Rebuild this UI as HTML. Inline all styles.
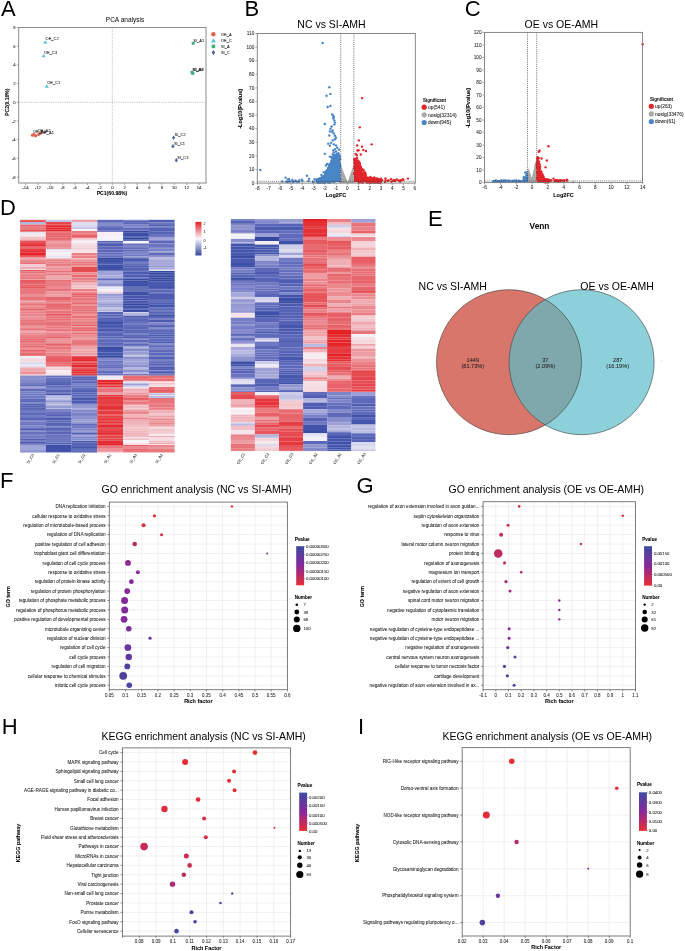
<!DOCTYPE html>
<html><head><meta charset="utf-8"><style>
html,body{margin:0;padding:0;background:#fff;}
svg{display:block;font-family:"Liberation Sans",sans-serif;will-change:transform;}
</style></head><body>
<svg width="685" height="951" viewBox="0 0 685 951">
<rect width="685" height="951" fill="#fff"/>
<text x="0.9" y="16.1" font-size="22" text-anchor="start" fill="#000">A</text>
<text x="125" y="21.8" font-size="6.5" text-anchor="middle" fill="#000">PCA analysis</text>
<line x1="112.3" y1="27.5" x2="112.3" y2="183" stroke="#8a8a8a" stroke-width="0.7" stroke-dasharray="0.7,1.1"/>
<line x1="18.7" y1="102.3" x2="206" y2="102.3" stroke="#8a8a8a" stroke-width="0.7" stroke-dasharray="0.7,1.1"/>
<rect x="18.7" y="27.5" width="187.3" height="155.5" fill="none" stroke="#8a8a8a" stroke-width="1"/>
<line x1="16.7" y1="177.1" x2="18.7" y2="177.1" stroke="#8a8a8a" stroke-width="0.7"/>
<text x="15.7" y="178.6" font-size="4.2" text-anchor="end" fill="#222" stroke="#222" stroke-width="0.05">-8</text>
<line x1="16.7" y1="158.4" x2="18.7" y2="158.4" stroke="#8a8a8a" stroke-width="0.7"/>
<text x="15.7" y="159.9" font-size="4.2" text-anchor="end" fill="#222" stroke="#222" stroke-width="0.05">-6</text>
<line x1="16.7" y1="139.7" x2="18.7" y2="139.7" stroke="#8a8a8a" stroke-width="0.7"/>
<text x="15.7" y="141.2" font-size="4.2" text-anchor="end" fill="#222" stroke="#222" stroke-width="0.05">-4</text>
<line x1="16.7" y1="121" x2="18.7" y2="121" stroke="#8a8a8a" stroke-width="0.7"/>
<text x="15.7" y="122.5" font-size="4.2" text-anchor="end" fill="#222" stroke="#222" stroke-width="0.05">-2</text>
<line x1="16.7" y1="102.3" x2="18.7" y2="102.3" stroke="#8a8a8a" stroke-width="0.7"/>
<text x="15.7" y="103.8" font-size="4.2" text-anchor="end" fill="#222" stroke="#222" stroke-width="0.05">0</text>
<line x1="16.7" y1="83.6" x2="18.7" y2="83.6" stroke="#8a8a8a" stroke-width="0.7"/>
<text x="15.7" y="85.1" font-size="4.2" text-anchor="end" fill="#222" stroke="#222" stroke-width="0.05">2</text>
<line x1="16.7" y1="64.9" x2="18.7" y2="64.9" stroke="#8a8a8a" stroke-width="0.7"/>
<text x="15.7" y="66.4" font-size="4.2" text-anchor="end" fill="#222" stroke="#222" stroke-width="0.05">4</text>
<line x1="16.7" y1="46.2" x2="18.7" y2="46.2" stroke="#8a8a8a" stroke-width="0.7"/>
<text x="15.7" y="47.7" font-size="4.2" text-anchor="end" fill="#222" stroke="#222" stroke-width="0.05">6</text>
<line x1="16.7" y1="27.5" x2="18.7" y2="27.5" stroke="#8a8a8a" stroke-width="0.7"/>
<text x="15.7" y="29" font-size="4.2" text-anchor="end" fill="#222" stroke="#222" stroke-width="0.05">8</text>
<line x1="25.5" y1="183" x2="25.5" y2="185" stroke="#8a8a8a" stroke-width="0.7"/>
<text x="25.5" y="189" font-size="4.2" text-anchor="middle" fill="#222" stroke="#222" stroke-width="0.05">-14</text>
<line x1="37.9" y1="183" x2="37.9" y2="185" stroke="#8a8a8a" stroke-width="0.7"/>
<text x="37.9" y="189" font-size="4.2" text-anchor="middle" fill="#222" stroke="#222" stroke-width="0.05">-12</text>
<line x1="50.3" y1="183" x2="50.3" y2="185" stroke="#8a8a8a" stroke-width="0.7"/>
<text x="50.3" y="189" font-size="4.2" text-anchor="middle" fill="#222" stroke="#222" stroke-width="0.05">-10</text>
<line x1="62.7" y1="183" x2="62.7" y2="185" stroke="#8a8a8a" stroke-width="0.7"/>
<text x="62.7" y="189" font-size="4.2" text-anchor="middle" fill="#222" stroke="#222" stroke-width="0.05">-8</text>
<line x1="75.1" y1="183" x2="75.1" y2="185" stroke="#8a8a8a" stroke-width="0.7"/>
<text x="75.1" y="189" font-size="4.2" text-anchor="middle" fill="#222" stroke="#222" stroke-width="0.05">-6</text>
<line x1="87.5" y1="183" x2="87.5" y2="185" stroke="#8a8a8a" stroke-width="0.7"/>
<text x="87.5" y="189" font-size="4.2" text-anchor="middle" fill="#222" stroke="#222" stroke-width="0.05">-4</text>
<line x1="99.9" y1="183" x2="99.9" y2="185" stroke="#8a8a8a" stroke-width="0.7"/>
<text x="99.9" y="189" font-size="4.2" text-anchor="middle" fill="#222" stroke="#222" stroke-width="0.05">-2</text>
<line x1="112.3" y1="183" x2="112.3" y2="185" stroke="#8a8a8a" stroke-width="0.7"/>
<text x="112.3" y="189" font-size="4.2" text-anchor="middle" fill="#222" stroke="#222" stroke-width="0.05">0</text>
<line x1="124.7" y1="183" x2="124.7" y2="185" stroke="#8a8a8a" stroke-width="0.7"/>
<text x="124.7" y="189" font-size="4.2" text-anchor="middle" fill="#222" stroke="#222" stroke-width="0.05">2</text>
<line x1="137.1" y1="183" x2="137.1" y2="185" stroke="#8a8a8a" stroke-width="0.7"/>
<text x="137.1" y="189" font-size="4.2" text-anchor="middle" fill="#222" stroke="#222" stroke-width="0.05">4</text>
<line x1="149.5" y1="183" x2="149.5" y2="185" stroke="#8a8a8a" stroke-width="0.7"/>
<text x="149.5" y="189" font-size="4.2" text-anchor="middle" fill="#222" stroke="#222" stroke-width="0.05">6</text>
<line x1="161.9" y1="183" x2="161.9" y2="185" stroke="#8a8a8a" stroke-width="0.7"/>
<text x="161.9" y="189" font-size="4.2" text-anchor="middle" fill="#222" stroke="#222" stroke-width="0.05">8</text>
<line x1="174.3" y1="183" x2="174.3" y2="185" stroke="#8a8a8a" stroke-width="0.7"/>
<text x="174.3" y="189" font-size="4.2" text-anchor="middle" fill="#222" stroke="#222" stroke-width="0.05">10</text>
<line x1="186.7" y1="183" x2="186.7" y2="185" stroke="#8a8a8a" stroke-width="0.7"/>
<text x="186.7" y="189" font-size="4.2" text-anchor="middle" fill="#222" stroke="#222" stroke-width="0.05">12</text>
<line x1="199.1" y1="183" x2="199.1" y2="185" stroke="#8a8a8a" stroke-width="0.7"/>
<text x="199.1" y="189" font-size="4.2" text-anchor="middle" fill="#222" stroke="#222" stroke-width="0.05">14</text>
<text x="112" y="194.8" font-size="5.1" text-anchor="middle" font-weight="bold" fill="#000" stroke="#000" stroke-width="0.05">PC1(60.98%)</text>
<text x="9.3" y="102.2" font-size="5" text-anchor="middle" font-weight="bold" fill="#000" transform="rotate(-90 9.3 102.2)" stroke="#000" stroke-width="0.05">PC2(9.16%)</text>
<circle cx="32.5" cy="135.2" r="1.6" fill="#e0604f"/>
<circle cx="35.5" cy="135.8" r="1.6" fill="#e0604f"/>
<circle cx="38.5" cy="134.5" r="1.6" fill="#e0604f"/>
<circle cx="40.5" cy="133.2" r="1.6" fill="#e0604f"/>
<circle cx="34" cy="134.5" r="1.6" fill="#e0604f"/>
<text x="33" y="133" font-size="4" text-anchor="start" fill="#222" stroke="#222" stroke-width="0.05">OE_A3</text>
<text x="37.5" y="131.8" font-size="4" text-anchor="start" fill="#222" stroke="#222" stroke-width="0.05">OE_A2</text>
<text x="41" y="134" font-size="4" text-anchor="start" fill="#222" stroke="#222" stroke-width="0.05">OE_A1</text>
<polygon points="45.2,40.3 43.11,43.72 47.29,43.72" fill="#5ec4d2"/>
<text x="45.6" y="40" font-size="4" text-anchor="start" fill="#222" stroke="#222" stroke-width="0.05">OE_C2</text>
<polygon points="43.6,53.9 41.51,57.32 45.69,57.32" fill="#5ec4d2"/>
<text x="44" y="53.6" font-size="4" text-anchor="start" fill="#222" stroke="#222" stroke-width="0.05">OE_C3</text>
<polygon points="46.8,84.3 44.71,87.72 48.89,87.72" fill="#5ec4d2"/>
<text x="47.2" y="84" font-size="4" text-anchor="start" fill="#222" stroke="#222" stroke-width="0.05">OE_C1</text>
<rect x="191.7" y="41.8" width="3" height="3" fill="#3fae84"/>
<rect x="190.5" y="70.8" width="3" height="3" fill="#3fae84"/>
<rect x="191.3" y="71.9" width="3" height="3" fill="#3fae84"/>
<text x="193.3" y="41.6" font-size="4" text-anchor="start" fill="#222" stroke="#222" stroke-width="0.05">SI_A1</text>
<text x="192.3" y="70.8" font-size="4" text-anchor="start" fill="#222" stroke="#222" stroke-width="0.05">SI_A3</text>
<text x="193" y="71.3" font-size="4" text-anchor="start" fill="#222" stroke="#222" stroke-width="0.05">SI_A2</text>
<polygon points="173.6,135.52 175.12,137.8 173.6,140.08 172.08,137.8" fill="#4a5f9c"/>
<text x="174.6" y="136.4" font-size="4" text-anchor="start" fill="#222" stroke="#222" stroke-width="0.05">SI_C2</text>
<polygon points="172.9,143.92 174.42,146.2 172.9,148.48 171.38,146.2" fill="#4a5f9c"/>
<text x="173.9" y="144.8" font-size="4" text-anchor="start" fill="#222" stroke="#222" stroke-width="0.05">SI_C1</text>
<polygon points="176.3,158.02 177.82,160.3 176.3,162.58 174.78,160.3" fill="#4a5f9c"/>
<text x="177.3" y="158.9" font-size="4" text-anchor="start" fill="#222" stroke="#222" stroke-width="0.05">SI_C3</text>
<circle cx="213.4" cy="34.2" r="2.2" fill="#e0604f"/>
<polygon points="213.4,38.3 210.9,42.6 215.9,42.6" fill="#5ec4d2"/>
<rect x="211.6" y="44.6" width="3.6" height="3.6" fill="#3fae84"/>
<polygon points="213.4,49.9 215.1,52.6 213.4,55.3 211.7,52.6" fill="#4a5f9c"/>
<text x="220.9" y="35.6" font-size="4" text-anchor="start" fill="#222" stroke="#222" stroke-width="0.05">OE_A</text>
<text x="220.9" y="42" font-size="4" text-anchor="start" fill="#222" stroke="#222" stroke-width="0.05">OE_C</text>
<text x="220.9" y="47.8" font-size="4" text-anchor="start" fill="#222" stroke="#222" stroke-width="0.05">SI_A</text>
<text x="220.9" y="54" font-size="4" text-anchor="start" fill="#222" stroke="#222" stroke-width="0.05">SI_C</text>
<text x="244.6" y="16.1" font-size="22" text-anchor="start" fill="#000">B</text>
<polygon points="340.73,164.88 347.64,182.01 353.59,164.88 353.59,183.1 340.73,183.1" fill="#a9a9a9"/>
<polygon points="321.47,182.01 321.47,180.11 324.84,178.2 327.09,175.62 329.33,170.86 331.02,165.42 332.7,159.98 334.39,155.9 340.34,154.81 340.34,182.01" fill="#4a86c6"/>
<polygon points="354.04,182.01 354.04,157.94 356.28,157.53 357.97,162.7 359.65,167.46 361.34,171.54 363.58,175.62 367.51,178.2 373.13,179.84 378.74,181.2 380.99,182.01" fill="#e3262b"/>
<circle cx="324.54" cy="181.46" r="1.2" fill="#4a86c6"/>
<circle cx="332.18" cy="180.91" r="1.2" fill="#4a86c6"/>
<circle cx="329.5" cy="175.85" r="1.2" fill="#4a86c6"/>
<circle cx="318.33" cy="180.77" r="1.2" fill="#4a86c6"/>
<circle cx="317.85" cy="181.1" r="1.2" fill="#4a86c6"/>
<circle cx="318.61" cy="182.34" r="1.2" fill="#4a86c6"/>
<circle cx="326.9" cy="171.68" r="1.2" fill="#4a86c6"/>
<circle cx="319.87" cy="181.68" r="1.2" fill="#4a86c6"/>
<circle cx="331.63" cy="160.53" r="1.2" fill="#4a86c6"/>
<circle cx="330.46" cy="174.43" r="1.2" fill="#4a86c6"/>
<circle cx="339.78" cy="181.38" r="1.2" fill="#4a86c6"/>
<circle cx="337.03" cy="174.54" r="1.2" fill="#4a86c6"/>
<circle cx="320.35" cy="182.13" r="1.2" fill="#4a86c6"/>
<circle cx="324.18" cy="176.64" r="1.2" fill="#4a86c6"/>
<circle cx="321.2" cy="179.68" r="1.2" fill="#4a86c6"/>
<circle cx="331.9" cy="173.77" r="1.2" fill="#4a86c6"/>
<circle cx="329.77" cy="181.48" r="1.2" fill="#4a86c6"/>
<circle cx="318.37" cy="181.91" r="1.2" fill="#4a86c6"/>
<circle cx="332.87" cy="171.54" r="1.2" fill="#4a86c6"/>
<circle cx="324.32" cy="178.18" r="1.2" fill="#4a86c6"/>
<circle cx="327.56" cy="178.26" r="1.2" fill="#4a86c6"/>
<circle cx="335.53" cy="163.01" r="1.2" fill="#4a86c6"/>
<circle cx="322.68" cy="179.31" r="1.2" fill="#4a86c6"/>
<circle cx="329.25" cy="166.55" r="1.2" fill="#4a86c6"/>
<circle cx="334.02" cy="174.59" r="1.2" fill="#4a86c6"/>
<circle cx="339.87" cy="179.37" r="1.2" fill="#4a86c6"/>
<circle cx="326.75" cy="172.85" r="1.2" fill="#4a86c6"/>
<circle cx="320.53" cy="180.32" r="1.2" fill="#4a86c6"/>
<circle cx="317.89" cy="180.24" r="1.2" fill="#4a86c6"/>
<circle cx="334.84" cy="166.56" r="1.2" fill="#4a86c6"/>
<circle cx="337.43" cy="173.86" r="1.2" fill="#4a86c6"/>
<circle cx="333.22" cy="166.74" r="1.2" fill="#4a86c6"/>
<circle cx="330.52" cy="173.13" r="1.2" fill="#4a86c6"/>
<circle cx="336.6" cy="156.1" r="1.2" fill="#4a86c6"/>
<circle cx="328.05" cy="172.17" r="1.2" fill="#4a86c6"/>
<circle cx="318.4" cy="180.02" r="1.2" fill="#4a86c6"/>
<circle cx="332.09" cy="158.48" r="1.2" fill="#4a86c6"/>
<circle cx="336.18" cy="174.68" r="1.2" fill="#4a86c6"/>
<circle cx="325.99" cy="175.1" r="1.2" fill="#4a86c6"/>
<circle cx="317.51" cy="181" r="1.2" fill="#4a86c6"/>
<circle cx="320.9" cy="182.1" r="1.2" fill="#4a86c6"/>
<circle cx="318.36" cy="179.78" r="1.2" fill="#4a86c6"/>
<circle cx="320" cy="181.56" r="1.2" fill="#4a86c6"/>
<circle cx="326.11" cy="172.57" r="1.2" fill="#4a86c6"/>
<circle cx="318.86" cy="180.88" r="1.2" fill="#4a86c6"/>
<circle cx="329.81" cy="165.55" r="1.2" fill="#4a86c6"/>
<circle cx="336.12" cy="158.37" r="1.2" fill="#4a86c6"/>
<circle cx="323.48" cy="180.08" r="1.2" fill="#4a86c6"/>
<circle cx="325.36" cy="173.87" r="1.2" fill="#4a86c6"/>
<circle cx="339.35" cy="178.44" r="1.2" fill="#4a86c6"/>
<circle cx="321.1" cy="181.5" r="1.2" fill="#4a86c6"/>
<circle cx="322.43" cy="179.89" r="1.2" fill="#4a86c6"/>
<circle cx="330.74" cy="177.06" r="1.2" fill="#4a86c6"/>
<circle cx="317.07" cy="181.15" r="1.2" fill="#4a86c6"/>
<circle cx="325.6" cy="176.74" r="1.2" fill="#4a86c6"/>
<circle cx="339.24" cy="163.25" r="1.2" fill="#4a86c6"/>
<circle cx="329.02" cy="171.6" r="1.2" fill="#4a86c6"/>
<circle cx="332.77" cy="181.3" r="1.2" fill="#4a86c6"/>
<circle cx="337.99" cy="160.73" r="1.2" fill="#4a86c6"/>
<circle cx="337.41" cy="160.23" r="1.2" fill="#4a86c6"/>
<circle cx="326.14" cy="178.03" r="1.2" fill="#4a86c6"/>
<circle cx="319.4" cy="179.96" r="1.2" fill="#4a86c6"/>
<circle cx="318.43" cy="182.43" r="1.2" fill="#4a86c6"/>
<circle cx="321.86" cy="181.8" r="1.2" fill="#4a86c6"/>
<circle cx="324.92" cy="182.22" r="1.2" fill="#4a86c6"/>
<circle cx="316.98" cy="182.14" r="1.2" fill="#4a86c6"/>
<circle cx="319.35" cy="181.14" r="1.2" fill="#4a86c6"/>
<circle cx="317.57" cy="179.48" r="1.2" fill="#4a86c6"/>
<circle cx="331.32" cy="179.32" r="1.2" fill="#4a86c6"/>
<circle cx="322.87" cy="180.61" r="1.2" fill="#4a86c6"/>
<circle cx="325.49" cy="181.43" r="1.2" fill="#4a86c6"/>
<circle cx="336.81" cy="154.73" r="1.2" fill="#4a86c6"/>
<circle cx="327.86" cy="175.23" r="1.2" fill="#4a86c6"/>
<circle cx="318.99" cy="182.27" r="1.2" fill="#4a86c6"/>
<circle cx="324.98" cy="180.27" r="1.2" fill="#4a86c6"/>
<circle cx="336.34" cy="178.15" r="1.2" fill="#4a86c6"/>
<circle cx="317.52" cy="179.2" r="1.2" fill="#4a86c6"/>
<circle cx="329.32" cy="179.96" r="1.2" fill="#4a86c6"/>
<circle cx="329.67" cy="182.18" r="1.2" fill="#4a86c6"/>
<circle cx="329.31" cy="164.5" r="1.2" fill="#4a86c6"/>
<circle cx="337.14" cy="163.09" r="1.2" fill="#4a86c6"/>
<circle cx="323.08" cy="180.46" r="1.2" fill="#4a86c6"/>
<circle cx="320.88" cy="178.82" r="1.2" fill="#4a86c6"/>
<circle cx="329.42" cy="168.24" r="1.2" fill="#4a86c6"/>
<circle cx="324.68" cy="180.8" r="1.2" fill="#4a86c6"/>
<circle cx="335.93" cy="154.96" r="1.2" fill="#4a86c6"/>
<circle cx="336.9" cy="160" r="1.2" fill="#4a86c6"/>
<circle cx="336.09" cy="161.86" r="1.2" fill="#4a86c6"/>
<circle cx="322.28" cy="179.74" r="1.2" fill="#4a86c6"/>
<circle cx="325.28" cy="182.41" r="1.2" fill="#4a86c6"/>
<circle cx="317.63" cy="181.67" r="1.2" fill="#4a86c6"/>
<circle cx="323.03" cy="178.49" r="1.2" fill="#4a86c6"/>
<circle cx="339.32" cy="170.1" r="1.2" fill="#4a86c6"/>
<circle cx="338.87" cy="154.88" r="1.2" fill="#4a86c6"/>
<circle cx="339.29" cy="172.43" r="1.2" fill="#4a86c6"/>
<circle cx="322.13" cy="181.42" r="1.2" fill="#4a86c6"/>
<circle cx="321.57" cy="181.6" r="1.2" fill="#4a86c6"/>
<circle cx="331.56" cy="161.8" r="1.2" fill="#4a86c6"/>
<circle cx="336.61" cy="169.19" r="1.2" fill="#4a86c6"/>
<circle cx="332.23" cy="162.96" r="1.2" fill="#4a86c6"/>
<circle cx="318.96" cy="179.99" r="1.2" fill="#4a86c6"/>
<circle cx="338.23" cy="160.67" r="1.2" fill="#4a86c6"/>
<circle cx="334.5" cy="169.23" r="1.2" fill="#4a86c6"/>
<circle cx="321.15" cy="178.63" r="1.2" fill="#4a86c6"/>
<circle cx="324.75" cy="175.78" r="1.2" fill="#4a86c6"/>
<circle cx="339.68" cy="171.55" r="1.2" fill="#4a86c6"/>
<circle cx="326.35" cy="171.2" r="1.2" fill="#4a86c6"/>
<circle cx="333.91" cy="177.91" r="1.2" fill="#4a86c6"/>
<circle cx="319.95" cy="182" r="1.2" fill="#4a86c6"/>
<circle cx="338.11" cy="159.99" r="1.2" fill="#4a86c6"/>
<circle cx="320.39" cy="178.74" r="1.2" fill="#4a86c6"/>
<circle cx="339.88" cy="164.19" r="1.2" fill="#4a86c6"/>
<circle cx="325.16" cy="177.45" r="1.2" fill="#4a86c6"/>
<circle cx="320.04" cy="182.63" r="1.2" fill="#4a86c6"/>
<circle cx="339.66" cy="164.4" r="1.2" fill="#4a86c6"/>
<circle cx="329.28" cy="165.4" r="1.2" fill="#4a86c6"/>
<circle cx="327.11" cy="170.67" r="1.2" fill="#4a86c6"/>
<circle cx="336.28" cy="176.75" r="1.2" fill="#4a86c6"/>
<circle cx="322.86" cy="180.94" r="1.2" fill="#4a86c6"/>
<circle cx="322.6" cy="179.26" r="1.2" fill="#4a86c6"/>
<circle cx="323.04" cy="180.15" r="1.2" fill="#4a86c6"/>
<circle cx="320.04" cy="178.5" r="1.2" fill="#4a86c6"/>
<circle cx="325.24" cy="178.24" r="1.2" fill="#4a86c6"/>
<circle cx="330.61" cy="163.58" r="1.2" fill="#4a86c6"/>
<circle cx="326.8" cy="170.65" r="1.2" fill="#4a86c6"/>
<circle cx="328.7" cy="173.52" r="1.2" fill="#4a86c6"/>
<circle cx="329.21" cy="182.35" r="1.2" fill="#4a86c6"/>
<circle cx="327.26" cy="180.11" r="1.2" fill="#4a86c6"/>
<circle cx="317.07" cy="179.76" r="1.2" fill="#4a86c6"/>
<circle cx="321" cy="180.29" r="1.2" fill="#4a86c6"/>
<circle cx="333.92" cy="167.03" r="1.2" fill="#4a86c6"/>
<circle cx="324.59" cy="178.39" r="1.2" fill="#4a86c6"/>
<circle cx="329.95" cy="167.23" r="1.2" fill="#4a86c6"/>
<circle cx="319.46" cy="180.27" r="1.2" fill="#4a86c6"/>
<circle cx="322.78" cy="181.05" r="1.2" fill="#4a86c6"/>
<circle cx="335.02" cy="168.4" r="1.2" fill="#4a86c6"/>
<circle cx="330.1" cy="167.47" r="1.2" fill="#4a86c6"/>
<circle cx="338.29" cy="170.21" r="1.2" fill="#4a86c6"/>
<circle cx="331.29" cy="171.26" r="1.2" fill="#4a86c6"/>
<circle cx="328.94" cy="170.37" r="1.2" fill="#4a86c6"/>
<circle cx="327.55" cy="174.83" r="1.2" fill="#4a86c6"/>
<circle cx="328.15" cy="167.59" r="1.2" fill="#4a86c6"/>
<circle cx="333.31" cy="158.99" r="1.2" fill="#4a86c6"/>
<circle cx="338.99" cy="175.38" r="1.2" fill="#4a86c6"/>
<circle cx="330.05" cy="163.9" r="1.2" fill="#4a86c6"/>
<circle cx="336.6" cy="178.83" r="1.2" fill="#4a86c6"/>
<circle cx="319.82" cy="180.7" r="1.2" fill="#4a86c6"/>
<circle cx="318.67" cy="181.74" r="1.2" fill="#4a86c6"/>
<circle cx="318.69" cy="180.04" r="1.2" fill="#4a86c6"/>
<circle cx="335.29" cy="157.44" r="1.2" fill="#4a86c6"/>
<circle cx="320.59" cy="179.2" r="1.2" fill="#4a86c6"/>
<circle cx="332.4" cy="179.11" r="1.2" fill="#4a86c6"/>
<circle cx="337.6" cy="155.45" r="1.2" fill="#4a86c6"/>
<circle cx="322.11" cy="177.35" r="1.2" fill="#4a86c6"/>
<circle cx="326.28" cy="176.85" r="1.2" fill="#4a86c6"/>
<circle cx="340.1" cy="159.26" r="1.2" fill="#4a86c6"/>
<circle cx="320.75" cy="180.55" r="1.2" fill="#4a86c6"/>
<circle cx="329.02" cy="176.6" r="1.2" fill="#4a86c6"/>
<circle cx="321.55" cy="180.99" r="1.2" fill="#4a86c6"/>
<circle cx="333.85" cy="182.14" r="1.2" fill="#4a86c6"/>
<circle cx="329.92" cy="174.04" r="1.2" fill="#4a86c6"/>
<circle cx="317.4" cy="181.47" r="1.2" fill="#4a86c6"/>
<circle cx="331.55" cy="170.81" r="1.2" fill="#4a86c6"/>
<circle cx="318.48" cy="178.89" r="1.2" fill="#4a86c6"/>
<circle cx="335.39" cy="155.34" r="1.2" fill="#4a86c6"/>
<circle cx="319.43" cy="181.55" r="1.2" fill="#4a86c6"/>
<circle cx="317.9" cy="179.83" r="1.2" fill="#4a86c6"/>
<circle cx="323.3" cy="181.89" r="1.2" fill="#4a86c6"/>
<circle cx="326.84" cy="170.66" r="1.2" fill="#4a86c6"/>
<circle cx="336.11" cy="175.41" r="1.2" fill="#4a86c6"/>
<circle cx="320.47" cy="178.26" r="1.2" fill="#4a86c6"/>
<circle cx="330.31" cy="168.34" r="1.2" fill="#4a86c6"/>
<circle cx="319.07" cy="182.45" r="1.2" fill="#4a86c6"/>
<circle cx="333.05" cy="171.43" r="1.2" fill="#4a86c6"/>
<circle cx="318.67" cy="178.99" r="1.2" fill="#4a86c6"/>
<circle cx="331.8" cy="163.66" r="1.2" fill="#4a86c6"/>
<circle cx="318.94" cy="179.2" r="1.2" fill="#4a86c6"/>
<circle cx="318.54" cy="179.34" r="1.2" fill="#4a86c6"/>
<circle cx="327.58" cy="177.67" r="1.2" fill="#4a86c6"/>
<circle cx="329.9" cy="164.54" r="1.2" fill="#4a86c6"/>
<circle cx="323.24" cy="181.9" r="1.2" fill="#4a86c6"/>
<circle cx="329.29" cy="178.27" r="1.2" fill="#4a86c6"/>
<circle cx="319.54" cy="181.99" r="1.2" fill="#4a86c6"/>
<circle cx="318.16" cy="181.95" r="1.2" fill="#4a86c6"/>
<circle cx="324.27" cy="180.38" r="1.2" fill="#4a86c6"/>
<circle cx="334.72" cy="174.53" r="1.2" fill="#4a86c6"/>
<circle cx="328.66" cy="179.64" r="1.2" fill="#4a86c6"/>
<circle cx="325.08" cy="182.52" r="1.2" fill="#4a86c6"/>
<circle cx="322.83" cy="182.6" r="1.2" fill="#4a86c6"/>
<circle cx="334.1" cy="167.18" r="1.2" fill="#4a86c6"/>
<circle cx="321.4" cy="180.19" r="1.2" fill="#4a86c6"/>
<circle cx="338.81" cy="179.7" r="1.2" fill="#4a86c6"/>
<circle cx="336.11" cy="170.53" r="1.2" fill="#4a86c6"/>
<circle cx="328.54" cy="168.58" r="1.2" fill="#4a86c6"/>
<circle cx="326.16" cy="176.75" r="1.2" fill="#4a86c6"/>
<circle cx="333.04" cy="156.71" r="1.2" fill="#4a86c6"/>
<circle cx="324.98" cy="175.07" r="1.2" fill="#4a86c6"/>
<circle cx="333.49" cy="165.26" r="1.2" fill="#4a86c6"/>
<circle cx="326.43" cy="178.41" r="1.2" fill="#4a86c6"/>
<circle cx="318.25" cy="182.21" r="1.2" fill="#4a86c6"/>
<circle cx="318.63" cy="179.78" r="1.2" fill="#4a86c6"/>
<circle cx="322.95" cy="181.71" r="1.2" fill="#4a86c6"/>
<circle cx="318.95" cy="179.26" r="1.2" fill="#4a86c6"/>
<circle cx="337.31" cy="163.81" r="1.2" fill="#4a86c6"/>
<circle cx="323.56" cy="181.16" r="1.2" fill="#4a86c6"/>
<circle cx="323.82" cy="179.65" r="1.2" fill="#4a86c6"/>
<circle cx="320.66" cy="180.5" r="1.2" fill="#4a86c6"/>
<circle cx="323.13" cy="176.82" r="1.2" fill="#4a86c6"/>
<circle cx="339.7" cy="167.29" r="1.2" fill="#4a86c6"/>
<circle cx="322.69" cy="177" r="1.2" fill="#4a86c6"/>
<circle cx="324.21" cy="180.03" r="1.2" fill="#4a86c6"/>
<circle cx="317" cy="181.29" r="1.2" fill="#4a86c6"/>
<circle cx="328.07" cy="174.71" r="1.2" fill="#4a86c6"/>
<circle cx="321.67" cy="179.97" r="1.2" fill="#4a86c6"/>
<circle cx="317.09" cy="181.72" r="1.2" fill="#4a86c6"/>
<circle cx="319.08" cy="181.04" r="1.2" fill="#4a86c6"/>
<circle cx="317.95" cy="182.61" r="1.2" fill="#4a86c6"/>
<circle cx="324.09" cy="181.02" r="1.2" fill="#4a86c6"/>
<circle cx="330.66" cy="171.45" r="1.2" fill="#4a86c6"/>
<circle cx="334.51" cy="164.18" r="1.2" fill="#4a86c6"/>
<circle cx="333.7" cy="158.17" r="1.2" fill="#4a86c6"/>
<circle cx="326.08" cy="178.93" r="1.2" fill="#4a86c6"/>
<circle cx="339.98" cy="178.48" r="1.2" fill="#4a86c6"/>
<circle cx="333.89" cy="164.58" r="1.2" fill="#4a86c6"/>
<circle cx="318" cy="179.62" r="1.2" fill="#4a86c6"/>
<circle cx="337.81" cy="165.03" r="1.2" fill="#4a86c6"/>
<circle cx="334.12" cy="159.83" r="1.2" fill="#4a86c6"/>
<circle cx="320.23" cy="180.23" r="1.2" fill="#4a86c6"/>
<circle cx="328.76" cy="168.18" r="1.2" fill="#4a86c6"/>
<circle cx="335.77" cy="159.43" r="1.2" fill="#4a86c6"/>
<circle cx="330.62" cy="163.79" r="1.2" fill="#4a86c6"/>
<circle cx="332.93" cy="164.52" r="1.2" fill="#4a86c6"/>
<circle cx="322.35" cy="182.51" r="1.2" fill="#4a86c6"/>
<circle cx="320.09" cy="181.02" r="1.2" fill="#4a86c6"/>
<circle cx="319.43" cy="179.09" r="1.2" fill="#4a86c6"/>
<circle cx="330.03" cy="170.22" r="1.2" fill="#4a86c6"/>
<circle cx="331.61" cy="166.82" r="1.2" fill="#4a86c6"/>
<circle cx="328.41" cy="182.64" r="1.2" fill="#4a86c6"/>
<circle cx="335.61" cy="161.63" r="1.2" fill="#4a86c6"/>
<circle cx="328.73" cy="173.43" r="1.2" fill="#4a86c6"/>
<circle cx="332.38" cy="181.04" r="1.2" fill="#4a86c6"/>
<circle cx="334.19" cy="175.59" r="1.2" fill="#4a86c6"/>
<circle cx="318.72" cy="181.64" r="1.2" fill="#4a86c6"/>
<circle cx="334.02" cy="176.91" r="1.2" fill="#4a86c6"/>
<circle cx="334.26" cy="155.22" r="1.2" fill="#4a86c6"/>
<circle cx="328.52" cy="176.24" r="1.2" fill="#4a86c6"/>
<circle cx="328.17" cy="171.69" r="1.2" fill="#4a86c6"/>
<circle cx="334.89" cy="165.32" r="1.2" fill="#4a86c6"/>
<circle cx="331.99" cy="180.82" r="1.2" fill="#4a86c6"/>
<circle cx="320.42" cy="181.47" r="1.2" fill="#4a86c6"/>
<circle cx="334.34" cy="174.12" r="1.2" fill="#4a86c6"/>
<circle cx="330.24" cy="182.44" r="1.2" fill="#4a86c6"/>
<circle cx="318.4" cy="181.67" r="1.2" fill="#4a86c6"/>
<circle cx="332.68" cy="164.94" r="1.2" fill="#4a86c6"/>
<circle cx="332.76" cy="175.18" r="1.2" fill="#4a86c6"/>
<circle cx="329.04" cy="174.33" r="1.2" fill="#4a86c6"/>
<circle cx="327.87" cy="180.86" r="1.2" fill="#4a86c6"/>
<circle cx="337.85" cy="177.08" r="1.2" fill="#4a86c6"/>
<circle cx="339.83" cy="156.33" r="1.2" fill="#4a86c6"/>
<circle cx="317.39" cy="181.01" r="1.2" fill="#4a86c6"/>
<circle cx="336.13" cy="155.44" r="1.2" fill="#4a86c6"/>
<circle cx="327.48" cy="178.77" r="1.2" fill="#4a86c6"/>
<circle cx="321.88" cy="177.49" r="1.2" fill="#4a86c6"/>
<circle cx="321.9" cy="179.49" r="1.2" fill="#4a86c6"/>
<circle cx="320.29" cy="180.21" r="1.2" fill="#4a86c6"/>
<circle cx="339.23" cy="178.96" r="1.2" fill="#4a86c6"/>
<circle cx="336.14" cy="168.37" r="1.2" fill="#4a86c6"/>
<circle cx="337.69" cy="162.89" r="1.2" fill="#4a86c6"/>
<circle cx="322.38" cy="177.53" r="1.2" fill="#4a86c6"/>
<circle cx="328.33" cy="182.28" r="1.2" fill="#4a86c6"/>
<circle cx="317.06" cy="180.89" r="1.2" fill="#4a86c6"/>
<circle cx="327.51" cy="178.27" r="1.2" fill="#4a86c6"/>
<circle cx="320.27" cy="181.07" r="1.2" fill="#4a86c6"/>
<circle cx="324.36" cy="176.14" r="1.2" fill="#4a86c6"/>
<circle cx="317.02" cy="179.94" r="1.2" fill="#4a86c6"/>
<circle cx="336.58" cy="179.31" r="1.2" fill="#4a86c6"/>
<circle cx="338.62" cy="162.62" r="1.2" fill="#4a86c6"/>
<circle cx="338.04" cy="174.53" r="1.2" fill="#4a86c6"/>
<circle cx="325.67" cy="178.5" r="1.2" fill="#4a86c6"/>
<circle cx="340.31" cy="166.11" r="1.2" fill="#4a86c6"/>
<circle cx="325.4" cy="178.38" r="1.2" fill="#4a86c6"/>
<circle cx="323.41" cy="182.39" r="1.2" fill="#4a86c6"/>
<circle cx="319.35" cy="179.12" r="1.2" fill="#4a86c6"/>
<circle cx="323.65" cy="176.74" r="1.2" fill="#4a86c6"/>
<circle cx="322.8" cy="181.11" r="1.2" fill="#4a86c6"/>
<circle cx="328.91" cy="179.33" r="1.2" fill="#4a86c6"/>
<circle cx="325.7" cy="172.45" r="1.2" fill="#4a86c6"/>
<circle cx="337.63" cy="159.83" r="1.2" fill="#4a86c6"/>
<circle cx="331.72" cy="161.18" r="1.2" fill="#4a86c6"/>
<circle cx="338.95" cy="167.23" r="1.2" fill="#4a86c6"/>
<circle cx="333.79" cy="181.3" r="1.2" fill="#4a86c6"/>
<circle cx="334.09" cy="170" r="1.2" fill="#4a86c6"/>
<circle cx="334.56" cy="164.55" r="1.2" fill="#4a86c6"/>
<circle cx="323.66" cy="182.38" r="1.2" fill="#4a86c6"/>
<circle cx="338.63" cy="179.11" r="1.2" fill="#4a86c6"/>
<circle cx="328.01" cy="177.28" r="1.2" fill="#4a86c6"/>
<circle cx="323.93" cy="177.62" r="1.2" fill="#4a86c6"/>
<circle cx="339.78" cy="175.37" r="1.2" fill="#4a86c6"/>
<circle cx="332.3" cy="175.22" r="1.2" fill="#4a86c6"/>
<circle cx="330" cy="174.88" r="1.2" fill="#4a86c6"/>
<circle cx="286.31" cy="181.8" r="1.2" fill="#4a86c6"/>
<circle cx="287.86" cy="179.57" r="1.2" fill="#4a86c6"/>
<circle cx="298.9" cy="181.63" r="1.2" fill="#4a86c6"/>
<circle cx="314.52" cy="179.3" r="1.2" fill="#4a86c6"/>
<circle cx="297.1" cy="181.87" r="1.2" fill="#4a86c6"/>
<circle cx="287.27" cy="182.01" r="1.2" fill="#4a86c6"/>
<circle cx="292.98" cy="182.01" r="1.2" fill="#4a86c6"/>
<circle cx="289.05" cy="181.51" r="1.2" fill="#4a86c6"/>
<circle cx="301.67" cy="179.63" r="1.2" fill="#4a86c6"/>
<circle cx="308.54" cy="181.05" r="1.2" fill="#4a86c6"/>
<circle cx="295.72" cy="180.72" r="1.2" fill="#4a86c6"/>
<circle cx="294.31" cy="181.27" r="1.2" fill="#4a86c6"/>
<circle cx="282.29" cy="181.45" r="1.2" fill="#4a86c6"/>
<circle cx="316.87" cy="181.91" r="1.2" fill="#4a86c6"/>
<circle cx="299.14" cy="180.4" r="1.2" fill="#4a86c6"/>
<circle cx="312.87" cy="181.64" r="1.2" fill="#4a86c6"/>
<circle cx="290.27" cy="181.54" r="1.2" fill="#4a86c6"/>
<circle cx="295.18" cy="180.95" r="1.2" fill="#4a86c6"/>
<circle cx="316.34" cy="179.74" r="1.2" fill="#4a86c6"/>
<circle cx="313.25" cy="182.22" r="1.2" fill="#4a86c6"/>
<circle cx="260.27" cy="170.04" r="1.2" fill="#4a86c6"/>
<circle cx="285.54" cy="177.66" r="1.2" fill="#4a86c6"/>
<circle cx="288.9" cy="179.02" r="1.2" fill="#4a86c6"/>
<circle cx="292.27" cy="179.84" r="1.2" fill="#4a86c6"/>
<circle cx="302.38" cy="180.79" r="1.2" fill="#4a86c6"/>
<circle cx="306.87" cy="175.76" r="1.2" fill="#4a86c6"/>
<circle cx="309.12" cy="178.75" r="1.2" fill="#4a86c6"/>
<circle cx="322.59" cy="43.02" r="1.2" fill="#4a86c6"/>
<circle cx="329.33" cy="87.22" r="1.2" fill="#4a86c6"/>
<circle cx="330.46" cy="93.88" r="1.2" fill="#4a86c6"/>
<circle cx="326.52" cy="95.79" r="1.2" fill="#4a86c6"/>
<circle cx="327.65" cy="106.94" r="1.2" fill="#4a86c6"/>
<circle cx="330.46" cy="105.99" r="1.2" fill="#4a86c6"/>
<circle cx="332.14" cy="114.42" r="1.2" fill="#4a86c6"/>
<circle cx="333.26" cy="115.78" r="1.2" fill="#4a86c6"/>
<circle cx="333.82" cy="117.14" r="1.2" fill="#4a86c6"/>
<circle cx="333.26" cy="118.5" r="1.2" fill="#4a86c6"/>
<circle cx="334.39" cy="120.54" r="1.2" fill="#4a86c6"/>
<circle cx="334.95" cy="122.58" r="1.2" fill="#4a86c6"/>
<circle cx="334.39" cy="124.62" r="1.2" fill="#4a86c6"/>
<circle cx="324.84" cy="123.94" r="1.2" fill="#4a86c6"/>
<circle cx="331.58" cy="126.52" r="1.2" fill="#4a86c6"/>
<circle cx="330.46" cy="128.7" r="1.2" fill="#4a86c6"/>
<circle cx="332.7" cy="130.47" r="1.2" fill="#4a86c6"/>
<circle cx="332.14" cy="132.1" r="1.2" fill="#4a86c6"/>
<circle cx="329.89" cy="131.42" r="1.2" fill="#4a86c6"/>
<circle cx="333.82" cy="133.46" r="1.2" fill="#4a86c6"/>
<circle cx="334.95" cy="135.77" r="1.2" fill="#4a86c6"/>
<circle cx="329.33" cy="135.5" r="1.2" fill="#4a86c6"/>
<circle cx="336.07" cy="137.81" r="1.2" fill="#4a86c6"/>
<circle cx="334.95" cy="139.31" r="1.2" fill="#4a86c6"/>
<circle cx="332.7" cy="140.4" r="1.2" fill="#4a86c6"/>
<circle cx="328.21" cy="143.66" r="1.2" fill="#4a86c6"/>
<circle cx="329.89" cy="145.7" r="1.2" fill="#4a86c6"/>
<circle cx="331.02" cy="142.84" r="1.2" fill="#4a86c6"/>
<circle cx="333.82" cy="144.34" r="1.2" fill="#4a86c6"/>
<circle cx="336.07" cy="145.56" r="1.2" fill="#4a86c6"/>
<circle cx="337.19" cy="147.74" r="1.2" fill="#4a86c6"/>
<circle cx="334.95" cy="149.1" r="1.2" fill="#4a86c6"/>
<circle cx="338.88" cy="149.78" r="1.2" fill="#4a86c6"/>
<circle cx="333.26" cy="150.46" r="1.2" fill="#4a86c6"/>
<circle cx="324.84" cy="153.86" r="1.2" fill="#4a86c6"/>
<circle cx="329.89" cy="156.58" r="1.2" fill="#4a86c6"/>
<circle cx="331.58" cy="157.26" r="1.2" fill="#4a86c6"/>
<circle cx="327.09" cy="164.06" r="1.2" fill="#4a86c6"/>
<circle cx="325.96" cy="165.42" r="1.2" fill="#4a86c6"/>
<circle cx="328.21" cy="168.14" r="1.2" fill="#4a86c6"/>
<circle cx="327.09" cy="170.18" r="1.2" fill="#4a86c6"/>
<circle cx="323.72" cy="172.22" r="1.2" fill="#4a86c6"/>
<circle cx="321.47" cy="174.94" r="1.2" fill="#4a86c6"/>
<circle cx="333.82" cy="152.5" r="1.2" fill="#4a86c6"/>
<circle cx="338.32" cy="153.18" r="1.2" fill="#4a86c6"/>
<circle cx="336.07" cy="151.55" r="1.2" fill="#4a86c6"/>
<circle cx="336.63" cy="153.86" r="1.2" fill="#4a86c6"/>
<circle cx="332.7" cy="154.54" r="1.2" fill="#4a86c6"/>
<circle cx="355.12" cy="164.17" r="1.2" fill="#e3262b"/>
<circle cx="378.2" cy="180.99" r="1.2" fill="#e3262b"/>
<circle cx="369.96" cy="182.69" r="1.2" fill="#e3262b"/>
<circle cx="364.73" cy="173.01" r="1.2" fill="#e3262b"/>
<circle cx="376.33" cy="179.39" r="1.2" fill="#e3262b"/>
<circle cx="380.25" cy="181.87" r="1.2" fill="#e3262b"/>
<circle cx="357.18" cy="178.86" r="1.2" fill="#e3262b"/>
<circle cx="368.22" cy="179.26" r="1.2" fill="#e3262b"/>
<circle cx="379.43" cy="180.23" r="1.2" fill="#e3262b"/>
<circle cx="371.56" cy="179.21" r="1.2" fill="#e3262b"/>
<circle cx="366.49" cy="179.77" r="1.2" fill="#e3262b"/>
<circle cx="355.32" cy="162.26" r="1.2" fill="#e3262b"/>
<circle cx="360.48" cy="166.14" r="1.2" fill="#e3262b"/>
<circle cx="371.52" cy="181.31" r="1.2" fill="#e3262b"/>
<circle cx="357.68" cy="176.63" r="1.2" fill="#e3262b"/>
<circle cx="371.27" cy="179.48" r="1.2" fill="#e3262b"/>
<circle cx="357.26" cy="180.95" r="1.2" fill="#e3262b"/>
<circle cx="368.28" cy="179.76" r="1.2" fill="#e3262b"/>
<circle cx="364.64" cy="180.33" r="1.2" fill="#e3262b"/>
<circle cx="370.33" cy="182.64" r="1.2" fill="#e3262b"/>
<circle cx="362.32" cy="176.27" r="1.2" fill="#e3262b"/>
<circle cx="379.89" cy="180.54" r="1.2" fill="#e3262b"/>
<circle cx="377.88" cy="180.96" r="1.2" fill="#e3262b"/>
<circle cx="360.54" cy="178.28" r="1.2" fill="#e3262b"/>
<circle cx="379.94" cy="180.34" r="1.2" fill="#e3262b"/>
<circle cx="362.48" cy="182.39" r="1.2" fill="#e3262b"/>
<circle cx="367.58" cy="179.23" r="1.2" fill="#e3262b"/>
<circle cx="365.49" cy="180.29" r="1.2" fill="#e3262b"/>
<circle cx="372.1" cy="178.55" r="1.2" fill="#e3262b"/>
<circle cx="360.32" cy="182.07" r="1.2" fill="#e3262b"/>
<circle cx="363.3" cy="177.43" r="1.2" fill="#e3262b"/>
<circle cx="372.51" cy="181.82" r="1.2" fill="#e3262b"/>
<circle cx="375.57" cy="179.76" r="1.2" fill="#e3262b"/>
<circle cx="367.76" cy="181.64" r="1.2" fill="#e3262b"/>
<circle cx="380.18" cy="181.66" r="1.2" fill="#e3262b"/>
<circle cx="376.18" cy="181.8" r="1.2" fill="#e3262b"/>
<circle cx="360.18" cy="168.46" r="1.2" fill="#e3262b"/>
<circle cx="362.15" cy="169.18" r="1.2" fill="#e3262b"/>
<circle cx="367.51" cy="181.73" r="1.2" fill="#e3262b"/>
<circle cx="360.23" cy="174.94" r="1.2" fill="#e3262b"/>
<circle cx="372.04" cy="178.44" r="1.2" fill="#e3262b"/>
<circle cx="358.18" cy="173.5" r="1.2" fill="#e3262b"/>
<circle cx="359.95" cy="163.93" r="1.2" fill="#e3262b"/>
<circle cx="358.06" cy="181.47" r="1.2" fill="#e3262b"/>
<circle cx="355.87" cy="172.42" r="1.2" fill="#e3262b"/>
<circle cx="378.27" cy="179.53" r="1.2" fill="#e3262b"/>
<circle cx="373.85" cy="178.48" r="1.2" fill="#e3262b"/>
<circle cx="379.16" cy="181.56" r="1.2" fill="#e3262b"/>
<circle cx="359.22" cy="163" r="1.2" fill="#e3262b"/>
<circle cx="374.21" cy="182.56" r="1.2" fill="#e3262b"/>
<circle cx="372.02" cy="180.99" r="1.2" fill="#e3262b"/>
<circle cx="364.26" cy="179" r="1.2" fill="#e3262b"/>
<circle cx="358.79" cy="182.63" r="1.2" fill="#e3262b"/>
<circle cx="361.74" cy="177.44" r="1.2" fill="#e3262b"/>
<circle cx="379.8" cy="182.28" r="1.2" fill="#e3262b"/>
<circle cx="380.04" cy="182" r="1.2" fill="#e3262b"/>
<circle cx="363.79" cy="173" r="1.2" fill="#e3262b"/>
<circle cx="376.23" cy="181.02" r="1.2" fill="#e3262b"/>
<circle cx="355.58" cy="170.33" r="1.2" fill="#e3262b"/>
<circle cx="364.22" cy="172.42" r="1.2" fill="#e3262b"/>
<circle cx="359.42" cy="175.21" r="1.2" fill="#e3262b"/>
<circle cx="378.24" cy="182.58" r="1.2" fill="#e3262b"/>
<circle cx="365.24" cy="174.82" r="1.2" fill="#e3262b"/>
<circle cx="374.75" cy="182.53" r="1.2" fill="#e3262b"/>
<circle cx="355.19" cy="181.06" r="1.2" fill="#e3262b"/>
<circle cx="378.85" cy="181.79" r="1.2" fill="#e3262b"/>
<circle cx="374.24" cy="178.95" r="1.2" fill="#e3262b"/>
<circle cx="363.33" cy="179.29" r="1.2" fill="#e3262b"/>
<circle cx="379.86" cy="180.63" r="1.2" fill="#e3262b"/>
<circle cx="361.27" cy="171.17" r="1.2" fill="#e3262b"/>
<circle cx="362.72" cy="179.01" r="1.2" fill="#e3262b"/>
<circle cx="354.36" cy="162.96" r="1.2" fill="#e3262b"/>
<circle cx="378.76" cy="180.47" r="1.2" fill="#e3262b"/>
<circle cx="379.47" cy="182.61" r="1.2" fill="#e3262b"/>
<circle cx="360.51" cy="174.18" r="1.2" fill="#e3262b"/>
<circle cx="379.83" cy="179.5" r="1.2" fill="#e3262b"/>
<circle cx="364.59" cy="180.02" r="1.2" fill="#e3262b"/>
<circle cx="365.75" cy="178.28" r="1.2" fill="#e3262b"/>
<circle cx="379.07" cy="182.06" r="1.2" fill="#e3262b"/>
<circle cx="375.71" cy="179.78" r="1.2" fill="#e3262b"/>
<circle cx="376.25" cy="179.7" r="1.2" fill="#e3262b"/>
<circle cx="370.49" cy="181.15" r="1.2" fill="#e3262b"/>
<circle cx="362.8" cy="177.9" r="1.2" fill="#e3262b"/>
<circle cx="375.17" cy="182.37" r="1.2" fill="#e3262b"/>
<circle cx="359.54" cy="167.43" r="1.2" fill="#e3262b"/>
<circle cx="360.87" cy="181.59" r="1.2" fill="#e3262b"/>
<circle cx="355.17" cy="168.26" r="1.2" fill="#e3262b"/>
<circle cx="362.97" cy="169.95" r="1.2" fill="#e3262b"/>
<circle cx="377.88" cy="179.1" r="1.2" fill="#e3262b"/>
<circle cx="361.34" cy="181.36" r="1.2" fill="#e3262b"/>
<circle cx="356.84" cy="170.08" r="1.2" fill="#e3262b"/>
<circle cx="373.23" cy="180.77" r="1.2" fill="#e3262b"/>
<circle cx="360.52" cy="175.24" r="1.2" fill="#e3262b"/>
<circle cx="370.84" cy="179.55" r="1.2" fill="#e3262b"/>
<circle cx="374.25" cy="179.17" r="1.2" fill="#e3262b"/>
<circle cx="372.02" cy="182.15" r="1.2" fill="#e3262b"/>
<circle cx="376.74" cy="181.58" r="1.2" fill="#e3262b"/>
<circle cx="369.41" cy="180.88" r="1.2" fill="#e3262b"/>
<circle cx="373.99" cy="181.86" r="1.2" fill="#e3262b"/>
<circle cx="360.88" cy="178.51" r="1.2" fill="#e3262b"/>
<circle cx="358.36" cy="162.27" r="1.2" fill="#e3262b"/>
<circle cx="369.72" cy="181.12" r="1.2" fill="#e3262b"/>
<circle cx="364.85" cy="172.5" r="1.2" fill="#e3262b"/>
<circle cx="367.82" cy="181.51" r="1.2" fill="#e3262b"/>
<circle cx="375.87" cy="180.13" r="1.2" fill="#e3262b"/>
<circle cx="380.75" cy="182.36" r="1.2" fill="#e3262b"/>
<circle cx="366.95" cy="178.41" r="1.2" fill="#e3262b"/>
<circle cx="376.73" cy="179.22" r="1.2" fill="#e3262b"/>
<circle cx="355.34" cy="175.02" r="1.2" fill="#e3262b"/>
<circle cx="357.45" cy="178.06" r="1.2" fill="#e3262b"/>
<circle cx="380.27" cy="180.77" r="1.2" fill="#e3262b"/>
<circle cx="379.12" cy="181.41" r="1.2" fill="#e3262b"/>
<circle cx="377.41" cy="181.03" r="1.2" fill="#e3262b"/>
<circle cx="361.21" cy="170.08" r="1.2" fill="#e3262b"/>
<circle cx="379.54" cy="182.33" r="1.2" fill="#e3262b"/>
<circle cx="370.2" cy="179.75" r="1.2" fill="#e3262b"/>
<circle cx="360.08" cy="175.7" r="1.2" fill="#e3262b"/>
<circle cx="358.04" cy="177.89" r="1.2" fill="#e3262b"/>
<circle cx="361.08" cy="172.77" r="1.2" fill="#e3262b"/>
<circle cx="371.68" cy="181.77" r="1.2" fill="#e3262b"/>
<circle cx="354.57" cy="174.15" r="1.2" fill="#e3262b"/>
<circle cx="372.39" cy="181.87" r="1.2" fill="#e3262b"/>
<circle cx="362.61" cy="179.94" r="1.2" fill="#e3262b"/>
<circle cx="375.52" cy="180.51" r="1.2" fill="#e3262b"/>
<circle cx="355.95" cy="180.04" r="1.2" fill="#e3262b"/>
<circle cx="364.83" cy="177.03" r="1.2" fill="#e3262b"/>
<circle cx="371.35" cy="182.27" r="1.2" fill="#e3262b"/>
<circle cx="358.64" cy="167.08" r="1.2" fill="#e3262b"/>
<circle cx="365.22" cy="179.93" r="1.2" fill="#e3262b"/>
<circle cx="362.48" cy="169.63" r="1.2" fill="#e3262b"/>
<circle cx="362.61" cy="175.03" r="1.2" fill="#e3262b"/>
<circle cx="363.81" cy="177.79" r="1.2" fill="#e3262b"/>
<circle cx="377.36" cy="178.99" r="1.2" fill="#e3262b"/>
<circle cx="363.99" cy="180.42" r="1.2" fill="#e3262b"/>
<circle cx="373.72" cy="181.83" r="1.2" fill="#e3262b"/>
<circle cx="354.42" cy="159.15" r="1.2" fill="#e3262b"/>
<circle cx="365.59" cy="175.15" r="1.2" fill="#e3262b"/>
<circle cx="365.12" cy="173.98" r="1.2" fill="#e3262b"/>
<circle cx="366.58" cy="181.83" r="1.2" fill="#e3262b"/>
<circle cx="354.66" cy="168.29" r="1.2" fill="#e3262b"/>
<circle cx="371.39" cy="178.53" r="1.2" fill="#e3262b"/>
<circle cx="356.64" cy="166.77" r="1.2" fill="#e3262b"/>
<circle cx="364.17" cy="177.02" r="1.2" fill="#e3262b"/>
<circle cx="358.16" cy="176.07" r="1.2" fill="#e3262b"/>
<circle cx="368.19" cy="178.03" r="1.2" fill="#e3262b"/>
<circle cx="357.17" cy="170.52" r="1.2" fill="#e3262b"/>
<circle cx="375.77" cy="178.88" r="1.2" fill="#e3262b"/>
<circle cx="359.54" cy="180.12" r="1.2" fill="#e3262b"/>
<circle cx="379.47" cy="179.37" r="1.2" fill="#e3262b"/>
<circle cx="367.16" cy="182.41" r="1.2" fill="#e3262b"/>
<circle cx="379.02" cy="181.35" r="1.2" fill="#e3262b"/>
<circle cx="378.43" cy="180.49" r="1.2" fill="#e3262b"/>
<circle cx="376.3" cy="182.07" r="1.2" fill="#e3262b"/>
<circle cx="375.27" cy="181.8" r="1.2" fill="#e3262b"/>
<circle cx="365.07" cy="174.28" r="1.2" fill="#e3262b"/>
<circle cx="376.42" cy="181.99" r="1.2" fill="#e3262b"/>
<circle cx="360.09" cy="175.13" r="1.2" fill="#e3262b"/>
<circle cx="368.1" cy="180.75" r="1.2" fill="#e3262b"/>
<circle cx="357.55" cy="176.7" r="1.2" fill="#e3262b"/>
<circle cx="373.64" cy="178.88" r="1.2" fill="#e3262b"/>
<circle cx="355.36" cy="168.01" r="1.2" fill="#e3262b"/>
<circle cx="374.51" cy="182.53" r="1.2" fill="#e3262b"/>
<circle cx="376.67" cy="182.24" r="1.2" fill="#e3262b"/>
<circle cx="370.29" cy="180.09" r="1.2" fill="#e3262b"/>
<circle cx="371.02" cy="181.27" r="1.2" fill="#e3262b"/>
<circle cx="365.49" cy="177.25" r="1.2" fill="#e3262b"/>
<circle cx="365.64" cy="176.69" r="1.2" fill="#e3262b"/>
<circle cx="366.2" cy="179.06" r="1.2" fill="#e3262b"/>
<circle cx="354.89" cy="166.53" r="1.2" fill="#e3262b"/>
<circle cx="367.35" cy="181.48" r="1.2" fill="#e3262b"/>
<circle cx="374.67" cy="179.49" r="1.2" fill="#e3262b"/>
<circle cx="366.51" cy="181.74" r="1.2" fill="#e3262b"/>
<circle cx="366.91" cy="182.13" r="1.2" fill="#e3262b"/>
<circle cx="357.7" cy="172.33" r="1.2" fill="#e3262b"/>
<circle cx="356.71" cy="171.43" r="1.2" fill="#e3262b"/>
<circle cx="367.9" cy="182.48" r="1.2" fill="#e3262b"/>
<circle cx="371.27" cy="182.31" r="1.2" fill="#e3262b"/>
<circle cx="373.87" cy="179.41" r="1.2" fill="#e3262b"/>
<circle cx="367.93" cy="182.42" r="1.2" fill="#e3262b"/>
<circle cx="367.73" cy="180.76" r="1.2" fill="#e3262b"/>
<circle cx="379.68" cy="182.23" r="1.2" fill="#e3262b"/>
<circle cx="377.17" cy="178.97" r="1.2" fill="#e3262b"/>
<circle cx="373.83" cy="179.25" r="1.2" fill="#e3262b"/>
<circle cx="359.44" cy="162.56" r="1.2" fill="#e3262b"/>
<circle cx="367.41" cy="177.76" r="1.2" fill="#e3262b"/>
<circle cx="378.75" cy="182.11" r="1.2" fill="#e3262b"/>
<circle cx="375.33" cy="178.97" r="1.2" fill="#e3262b"/>
<circle cx="356.01" cy="173.53" r="1.2" fill="#e3262b"/>
<circle cx="374.47" cy="182.04" r="1.2" fill="#e3262b"/>
<circle cx="378.22" cy="181.71" r="1.2" fill="#e3262b"/>
<circle cx="376.06" cy="182.13" r="1.2" fill="#e3262b"/>
<circle cx="367.69" cy="177.99" r="1.2" fill="#e3262b"/>
<circle cx="359.83" cy="177.55" r="1.2" fill="#e3262b"/>
<circle cx="367.79" cy="181.06" r="1.2" fill="#e3262b"/>
<circle cx="355.25" cy="177.94" r="1.2" fill="#e3262b"/>
<circle cx="358.57" cy="161.52" r="1.2" fill="#e3262b"/>
<circle cx="372.43" cy="178.73" r="1.2" fill="#e3262b"/>
<circle cx="358.77" cy="165.33" r="1.2" fill="#e3262b"/>
<circle cx="357.34" cy="169.65" r="1.2" fill="#e3262b"/>
<circle cx="371.27" cy="181.04" r="1.2" fill="#e3262b"/>
<circle cx="377.59" cy="180.65" r="1.2" fill="#e3262b"/>
<circle cx="369.77" cy="178.44" r="1.2" fill="#e3262b"/>
<circle cx="357.06" cy="157.88" r="1.2" fill="#e3262b"/>
<circle cx="371.09" cy="180.87" r="1.2" fill="#e3262b"/>
<circle cx="375.58" cy="181.64" r="1.2" fill="#e3262b"/>
<circle cx="380.74" cy="180.83" r="1.2" fill="#e3262b"/>
<circle cx="363.89" cy="173.78" r="1.2" fill="#e3262b"/>
<circle cx="366.08" cy="181.19" r="1.2" fill="#e3262b"/>
<circle cx="374.14" cy="182.49" r="1.2" fill="#e3262b"/>
<circle cx="376.17" cy="181.71" r="1.2" fill="#e3262b"/>
<circle cx="371.35" cy="178.18" r="1.2" fill="#e3262b"/>
<circle cx="369.92" cy="179.51" r="1.2" fill="#e3262b"/>
<circle cx="362.62" cy="182.67" r="1.2" fill="#e3262b"/>
<circle cx="355.17" cy="178.79" r="1.2" fill="#e3262b"/>
<circle cx="370.73" cy="180.67" r="1.2" fill="#e3262b"/>
<circle cx="367.97" cy="178.15" r="1.2" fill="#e3262b"/>
<circle cx="357.79" cy="177.26" r="1.2" fill="#e3262b"/>
<circle cx="371.72" cy="182.59" r="1.2" fill="#e3262b"/>
<circle cx="354.33" cy="173.42" r="1.2" fill="#e3262b"/>
<circle cx="357.11" cy="173.79" r="1.2" fill="#e3262b"/>
<circle cx="360.26" cy="171.88" r="1.2" fill="#e3262b"/>
<circle cx="370.01" cy="181.72" r="1.2" fill="#e3262b"/>
<circle cx="370.94" cy="180.49" r="1.2" fill="#e3262b"/>
<circle cx="357.86" cy="160.39" r="1.2" fill="#e3262b"/>
<circle cx="360.77" cy="180.11" r="1.2" fill="#e3262b"/>
<circle cx="356.82" cy="166.53" r="1.2" fill="#e3262b"/>
<circle cx="377.55" cy="179.81" r="1.2" fill="#e3262b"/>
<circle cx="365.01" cy="180.04" r="1.2" fill="#e3262b"/>
<circle cx="354.57" cy="165.85" r="1.2" fill="#e3262b"/>
<circle cx="369.29" cy="180.98" r="1.2" fill="#e3262b"/>
<circle cx="371.52" cy="180.67" r="1.2" fill="#e3262b"/>
<circle cx="379.31" cy="180.18" r="1.2" fill="#e3262b"/>
<circle cx="360.9" cy="167.37" r="1.2" fill="#e3262b"/>
<circle cx="355.44" cy="168.81" r="1.2" fill="#e3262b"/>
<circle cx="365.11" cy="180.34" r="1.2" fill="#e3262b"/>
<circle cx="355.82" cy="162.35" r="1.2" fill="#e3262b"/>
<circle cx="354.59" cy="168.31" r="1.2" fill="#e3262b"/>
<circle cx="379.41" cy="182.21" r="1.2" fill="#e3262b"/>
<circle cx="359.6" cy="170.45" r="1.2" fill="#e3262b"/>
<circle cx="367.81" cy="179.42" r="1.2" fill="#e3262b"/>
<circle cx="376" cy="182.01" r="1.2" fill="#e3262b"/>
<circle cx="362.53" cy="178.6" r="1.2" fill="#e3262b"/>
<circle cx="355.56" cy="159.47" r="1.2" fill="#e3262b"/>
<circle cx="375.19" cy="179.81" r="1.2" fill="#e3262b"/>
<circle cx="354.43" cy="160.64" r="1.2" fill="#e3262b"/>
<circle cx="374.18" cy="180.75" r="1.2" fill="#e3262b"/>
<circle cx="374.09" cy="180.8" r="1.2" fill="#e3262b"/>
<circle cx="360.3" cy="180.75" r="1.2" fill="#e3262b"/>
<circle cx="360.47" cy="181.99" r="1.2" fill="#e3262b"/>
<circle cx="363.23" cy="173.23" r="1.2" fill="#e3262b"/>
<circle cx="372.84" cy="179" r="1.2" fill="#e3262b"/>
<circle cx="373.28" cy="181.55" r="1.2" fill="#e3262b"/>
<circle cx="369.06" cy="180.55" r="1.2" fill="#e3262b"/>
<circle cx="375.34" cy="180.6" r="1.2" fill="#e3262b"/>
<circle cx="361.35" cy="172.5" r="1.2" fill="#e3262b"/>
<circle cx="380.06" cy="181.97" r="1.2" fill="#e3262b"/>
<circle cx="377.78" cy="182.64" r="1.2" fill="#e3262b"/>
<circle cx="361.22" cy="178.87" r="1.2" fill="#e3262b"/>
<circle cx="374.14" cy="178.75" r="1.2" fill="#e3262b"/>
<circle cx="374.21" cy="181.33" r="1.2" fill="#e3262b"/>
<circle cx="400.09" cy="181.66" r="1.2" fill="#e3262b"/>
<circle cx="382.09" cy="180.32" r="1.2" fill="#e3262b"/>
<circle cx="393.08" cy="180.82" r="1.2" fill="#e3262b"/>
<circle cx="394.05" cy="180.16" r="1.2" fill="#e3262b"/>
<circle cx="388.56" cy="180.48" r="1.2" fill="#e3262b"/>
<circle cx="394.96" cy="180.44" r="1.2" fill="#e3262b"/>
<circle cx="387.65" cy="180.74" r="1.2" fill="#e3262b"/>
<circle cx="391.39" cy="181.71" r="1.2" fill="#e3262b"/>
<circle cx="381.33" cy="180.98" r="1.2" fill="#e3262b"/>
<circle cx="377.56" cy="180.31" r="1.2" fill="#e3262b"/>
<circle cx="379.43" cy="182.36" r="1.2" fill="#e3262b"/>
<circle cx="378.37" cy="180.27" r="1.2" fill="#e3262b"/>
<circle cx="385.06" cy="182.09" r="1.2" fill="#e3262b"/>
<circle cx="376.18" cy="182.32" r="1.2" fill="#e3262b"/>
<circle cx="394.82" cy="180.95" r="1.2" fill="#e3262b"/>
<circle cx="394.94" cy="180.72" r="1.2" fill="#e3262b"/>
<circle cx="377.22" cy="181.05" r="1.2" fill="#e3262b"/>
<circle cx="385.58" cy="180.53" r="1.2" fill="#e3262b"/>
<circle cx="398.38" cy="180.36" r="1.2" fill="#e3262b"/>
<circle cx="377.23" cy="180.41" r="1.2" fill="#e3262b"/>
<circle cx="401.05" cy="180.24" r="1.2" fill="#e3262b"/>
<circle cx="378.38" cy="181.94" r="1.2" fill="#e3262b"/>
<circle cx="362.12" cy="98.1" r="1.2" fill="#e3262b"/>
<circle cx="359.77" cy="127.34" r="1.2" fill="#e3262b"/>
<circle cx="358.87" cy="140.4" r="1.2" fill="#e3262b"/>
<circle cx="357.18" cy="145.43" r="1.2" fill="#e3262b"/>
<circle cx="362.01" cy="146.65" r="1.2" fill="#e3262b"/>
<circle cx="371.67" cy="144.34" r="1.2" fill="#e3262b"/>
<circle cx="357.41" cy="150.46" r="1.2" fill="#e3262b"/>
<circle cx="358.53" cy="150.19" r="1.2" fill="#e3262b"/>
<circle cx="363.25" cy="150.05" r="1.2" fill="#e3262b"/>
<circle cx="365.94" cy="151" r="1.2" fill="#e3262b"/>
<circle cx="360.78" cy="154.54" r="1.2" fill="#e3262b"/>
<circle cx="355.72" cy="153.86" r="1.2" fill="#e3262b"/>
<circle cx="356.85" cy="155.22" r="1.2" fill="#e3262b"/>
<circle cx="363.58" cy="170.18" r="1.2" fill="#e3262b"/>
<circle cx="365.27" cy="173.31" r="1.2" fill="#e3262b"/>
<circle cx="370.32" cy="176.84" r="1.2" fill="#e3262b"/>
<circle cx="374.25" cy="177.39" r="1.2" fill="#e3262b"/>
<circle cx="376.5" cy="178.34" r="1.2" fill="#e3262b"/>
<circle cx="380.99" cy="178.75" r="1.2" fill="#e3262b"/>
<circle cx="385.48" cy="178.48" r="1.2" fill="#e3262b"/>
<circle cx="391.1" cy="179.29" r="1.2" fill="#e3262b"/>
<circle cx="396.71" cy="179.56" r="1.2" fill="#e3262b"/>
<circle cx="402.89" cy="179.16" r="1.2" fill="#e3262b"/>
<circle cx="407.94" cy="178.61" r="1.2" fill="#e3262b"/>
<circle cx="403.45" cy="180.11" r="1.2" fill="#e3262b"/>
<circle cx="400.08" cy="180.38" r="1.2" fill="#e3262b"/>
<line x1="340.73" y1="33.5" x2="340.73" y2="183.1" stroke="#333" stroke-width="0.7" stroke-dasharray="1,1.1"/>
<line x1="353.87" y1="33.5" x2="353.87" y2="183.1" stroke="#333" stroke-width="0.7" stroke-dasharray="1,1.1"/>
<line x1="257.3" y1="181.33" x2="415.3" y2="181.33" stroke="#333" stroke-width="0.7" stroke-dasharray="1,1.1"/>
<rect x="257.3" y="33.5" width="158" height="149.6" fill="none" stroke="#7a7a7a" stroke-width="0.9"/>
<line x1="255.3" y1="183.1" x2="257.3" y2="183.1" stroke="#7a7a7a" stroke-width="0.6"/>
<text x="254.3" y="184.7" font-size="4.7" text-anchor="end" fill="#222" stroke="#222" stroke-width="0.05">0</text>
<line x1="255.3" y1="169.5" x2="257.3" y2="169.5" stroke="#7a7a7a" stroke-width="0.6"/>
<text x="254.3" y="171.1" font-size="4.7" text-anchor="end" fill="#222" stroke="#222" stroke-width="0.05">10</text>
<line x1="255.3" y1="155.9" x2="257.3" y2="155.9" stroke="#7a7a7a" stroke-width="0.6"/>
<text x="254.3" y="157.5" font-size="4.7" text-anchor="end" fill="#222" stroke="#222" stroke-width="0.05">20</text>
<line x1="255.3" y1="142.3" x2="257.3" y2="142.3" stroke="#7a7a7a" stroke-width="0.6"/>
<text x="254.3" y="143.9" font-size="4.7" text-anchor="end" fill="#222" stroke="#222" stroke-width="0.05">30</text>
<line x1="255.3" y1="128.7" x2="257.3" y2="128.7" stroke="#7a7a7a" stroke-width="0.6"/>
<text x="254.3" y="130.3" font-size="4.7" text-anchor="end" fill="#222" stroke="#222" stroke-width="0.05">40</text>
<line x1="255.3" y1="115.1" x2="257.3" y2="115.1" stroke="#7a7a7a" stroke-width="0.6"/>
<text x="254.3" y="116.7" font-size="4.7" text-anchor="end" fill="#222" stroke="#222" stroke-width="0.05">50</text>
<line x1="255.3" y1="101.5" x2="257.3" y2="101.5" stroke="#7a7a7a" stroke-width="0.6"/>
<text x="254.3" y="103.1" font-size="4.7" text-anchor="end" fill="#222" stroke="#222" stroke-width="0.05">60</text>
<line x1="255.3" y1="87.9" x2="257.3" y2="87.9" stroke="#7a7a7a" stroke-width="0.6"/>
<text x="254.3" y="89.5" font-size="4.7" text-anchor="end" fill="#222" stroke="#222" stroke-width="0.05">70</text>
<line x1="255.3" y1="74.3" x2="257.3" y2="74.3" stroke="#7a7a7a" stroke-width="0.6"/>
<text x="254.3" y="75.9" font-size="4.7" text-anchor="end" fill="#222" stroke="#222" stroke-width="0.05">80</text>
<line x1="255.3" y1="60.7" x2="257.3" y2="60.7" stroke="#7a7a7a" stroke-width="0.6"/>
<text x="254.3" y="62.3" font-size="4.7" text-anchor="end" fill="#222" stroke="#222" stroke-width="0.05">90</text>
<line x1="255.3" y1="47.1" x2="257.3" y2="47.1" stroke="#7a7a7a" stroke-width="0.6"/>
<text x="254.3" y="48.7" font-size="4.7" text-anchor="end" fill="#222" stroke="#222" stroke-width="0.05">100</text>
<line x1="255.3" y1="33.5" x2="257.3" y2="33.5" stroke="#7a7a7a" stroke-width="0.6"/>
<text x="254.3" y="35.1" font-size="4.7" text-anchor="end" fill="#222" stroke="#222" stroke-width="0.05">110</text>
<line x1="257.46" y1="183.1" x2="257.46" y2="185.1" stroke="#7a7a7a" stroke-width="0.6"/>
<text x="257.46" y="189.8" font-size="4.7" text-anchor="middle" fill="#222" stroke="#222" stroke-width="0.05">-8</text>
<line x1="268.69" y1="183.1" x2="268.69" y2="185.1" stroke="#7a7a7a" stroke-width="0.6"/>
<text x="268.69" y="189.8" font-size="4.7" text-anchor="middle" fill="#222" stroke="#222" stroke-width="0.05">-7</text>
<line x1="279.92" y1="183.1" x2="279.92" y2="185.1" stroke="#7a7a7a" stroke-width="0.6"/>
<text x="279.92" y="189.8" font-size="4.7" text-anchor="middle" fill="#222" stroke="#222" stroke-width="0.05">-6</text>
<line x1="291.15" y1="183.1" x2="291.15" y2="185.1" stroke="#7a7a7a" stroke-width="0.6"/>
<text x="291.15" y="189.8" font-size="4.7" text-anchor="middle" fill="#222" stroke="#222" stroke-width="0.05">-5</text>
<line x1="302.38" y1="183.1" x2="302.38" y2="185.1" stroke="#7a7a7a" stroke-width="0.6"/>
<text x="302.38" y="189.8" font-size="4.7" text-anchor="middle" fill="#222" stroke="#222" stroke-width="0.05">-4</text>
<line x1="313.61" y1="183.1" x2="313.61" y2="185.1" stroke="#7a7a7a" stroke-width="0.6"/>
<text x="313.61" y="189.8" font-size="4.7" text-anchor="middle" fill="#222" stroke="#222" stroke-width="0.05">-3</text>
<line x1="324.84" y1="183.1" x2="324.84" y2="185.1" stroke="#7a7a7a" stroke-width="0.6"/>
<text x="324.84" y="189.8" font-size="4.7" text-anchor="middle" fill="#222" stroke="#222" stroke-width="0.05">-2</text>
<line x1="336.07" y1="183.1" x2="336.07" y2="185.1" stroke="#7a7a7a" stroke-width="0.6"/>
<text x="336.07" y="189.8" font-size="4.7" text-anchor="middle" fill="#222" stroke="#222" stroke-width="0.05">-1</text>
<line x1="347.3" y1="183.1" x2="347.3" y2="185.1" stroke="#7a7a7a" stroke-width="0.6"/>
<text x="347.3" y="189.8" font-size="4.7" text-anchor="middle" fill="#222" stroke="#222" stroke-width="0.05">0</text>
<line x1="358.53" y1="183.1" x2="358.53" y2="185.1" stroke="#7a7a7a" stroke-width="0.6"/>
<text x="358.53" y="189.8" font-size="4.7" text-anchor="middle" fill="#222" stroke="#222" stroke-width="0.05">1</text>
<line x1="369.76" y1="183.1" x2="369.76" y2="185.1" stroke="#7a7a7a" stroke-width="0.6"/>
<text x="369.76" y="189.8" font-size="4.7" text-anchor="middle" fill="#222" stroke="#222" stroke-width="0.05">2</text>
<line x1="380.99" y1="183.1" x2="380.99" y2="185.1" stroke="#7a7a7a" stroke-width="0.6"/>
<text x="380.99" y="189.8" font-size="4.7" text-anchor="middle" fill="#222" stroke="#222" stroke-width="0.05">3</text>
<line x1="392.22" y1="183.1" x2="392.22" y2="185.1" stroke="#7a7a7a" stroke-width="0.6"/>
<text x="392.22" y="189.8" font-size="4.7" text-anchor="middle" fill="#222" stroke="#222" stroke-width="0.05">4</text>
<line x1="403.45" y1="183.1" x2="403.45" y2="185.1" stroke="#7a7a7a" stroke-width="0.6"/>
<text x="403.45" y="189.8" font-size="4.7" text-anchor="middle" fill="#222" stroke="#222" stroke-width="0.05">5</text>
<line x1="414.68" y1="183.1" x2="414.68" y2="185.1" stroke="#7a7a7a" stroke-width="0.6"/>
<text x="414.68" y="189.8" font-size="4.7" text-anchor="middle" fill="#222" stroke="#222" stroke-width="0.05">6</text>
<text x="242.2" y="108.8" font-size="5.6" text-anchor="middle" font-weight="bold" fill="#000" transform="rotate(-90 242.2 108.8)" stroke="#000" stroke-width="0.05">-Log10(Pvalue)</text>
<text x="336" y="196.8" font-size="5.5" text-anchor="middle" font-weight="bold" fill="#000" stroke="#000" stroke-width="0.05">Log2FC</text>
<text x="297.3" y="28" font-size="10.5" text-anchor="start" fill="#000">NC vs SI-AMH</text>
<text x="422.9" y="101.8" font-size="4.5" text-anchor="start" font-weight="bold" fill="#111" stroke="#111" stroke-width="0.05">Significant</text>
<circle cx="424.2" cy="107.2" r="2.6" fill="#e3262b"/>
<text x="428" y="109" font-size="4.9" text-anchor="start" fill="#111" stroke="#111" stroke-width="0.05">up(541)</text>
<circle cx="424.2" cy="114.85" r="2.6" fill="#a9a9a9"/>
<text x="428" y="116.65" font-size="4.9" text-anchor="start" fill="#111" stroke="#111" stroke-width="0.05">nosig(32314)</text>
<circle cx="424.2" cy="122.5" r="2.6" fill="#4a86c6"/>
<text x="428" y="124.3" font-size="4.9" text-anchor="start" fill="#111" stroke="#111" stroke-width="0.05">down(945)</text>
<text x="464.8" y="16.1" font-size="22" text-anchor="start" fill="#000">C</text>
<polygon points="527.48,170.08 528.55,168.33 529.97,172.21 531.78,178.09 533.52,170.33 535.1,162.32 536.45,161.95 536.45,182.6 527.48,182.6" fill="#a9a9a9"/>
<polygon points="523.41,181.6 524.6,179.47 525.78,176.97 526.97,175.09 527.36,175.09 527.36,181.6" fill="#4a86c6"/>
<polygon points="536.68,181.6 536.68,161.32 537.63,157.32 538.58,157.32 539.21,165.08 540,170.08 541.19,175.09 543.56,178.22 547.11,179.85 549.48,181.6" fill="#e3262b"/>
<circle cx="496.75" cy="181.8" r="1.2" fill="#4a86c6"/>
<circle cx="518.84" cy="180.63" r="1.2" fill="#4a86c6"/>
<circle cx="512.43" cy="180.61" r="1.2" fill="#4a86c6"/>
<circle cx="512.35" cy="181.42" r="1.2" fill="#4a86c6"/>
<circle cx="496.39" cy="181.7" r="1.2" fill="#4a86c6"/>
<circle cx="516.13" cy="181.54" r="1.2" fill="#4a86c6"/>
<circle cx="502.97" cy="181.21" r="1.2" fill="#4a86c6"/>
<circle cx="494.02" cy="181.46" r="1.2" fill="#4a86c6"/>
<circle cx="501.87" cy="180.77" r="1.2" fill="#4a86c6"/>
<circle cx="504.44" cy="181.37" r="1.2" fill="#4a86c6"/>
<circle cx="522.33" cy="181.09" r="1.2" fill="#4a86c6"/>
<circle cx="518.95" cy="180.92" r="1.2" fill="#4a86c6"/>
<circle cx="494.32" cy="181.23" r="1.2" fill="#4a86c6"/>
<circle cx="506.49" cy="180.69" r="1.2" fill="#4a86c6"/>
<circle cx="503.8" cy="180.79" r="1.2" fill="#4a86c6"/>
<circle cx="509.54" cy="181.52" r="1.2" fill="#4a86c6"/>
<circle cx="519.27" cy="181.71" r="1.2" fill="#4a86c6"/>
<circle cx="518" cy="181.59" r="1.2" fill="#4a86c6"/>
<circle cx="493.43" cy="181.55" r="1.2" fill="#4a86c6"/>
<circle cx="516.27" cy="180.38" r="1.2" fill="#4a86c6"/>
<circle cx="493.52" cy="181.11" r="1.2" fill="#4a86c6"/>
<circle cx="508.14" cy="180.65" r="1.2" fill="#4a86c6"/>
<circle cx="498.93" cy="181.11" r="1.2" fill="#4a86c6"/>
<circle cx="503.81" cy="180.6" r="1.2" fill="#4a86c6"/>
<circle cx="501.21" cy="180.43" r="1.2" fill="#4a86c6"/>
<circle cx="501.91" cy="181.53" r="1.2" fill="#4a86c6"/>
<circle cx="514.39" cy="181.1" r="1.2" fill="#4a86c6"/>
<circle cx="496.69" cy="180.89" r="1.2" fill="#4a86c6"/>
<circle cx="495.82" cy="180.67" r="1.2" fill="#4a86c6"/>
<circle cx="514.32" cy="180.67" r="1.2" fill="#4a86c6"/>
<circle cx="512.24" cy="181.31" r="1.2" fill="#4a86c6"/>
<circle cx="505.44" cy="181.26" r="1.2" fill="#4a86c6"/>
<circle cx="520.12" cy="181.72" r="1.2" fill="#4a86c6"/>
<circle cx="520.06" cy="181.81" r="1.2" fill="#4a86c6"/>
<circle cx="499.58" cy="181.45" r="1.2" fill="#4a86c6"/>
<circle cx="520.44" cy="181.1" r="1.2" fill="#4a86c6"/>
<circle cx="504.78" cy="180.52" r="1.2" fill="#4a86c6"/>
<circle cx="500.4" cy="181.16" r="1.2" fill="#4a86c6"/>
<circle cx="509.35" cy="180.72" r="1.2" fill="#4a86c6"/>
<circle cx="515.99" cy="180.88" r="1.2" fill="#4a86c6"/>
<circle cx="524.73" cy="180.25" r="1.2" fill="#4a86c6"/>
<circle cx="524" cy="177.73" r="1.2" fill="#4a86c6"/>
<circle cx="525.92" cy="178.23" r="1.2" fill="#4a86c6"/>
<circle cx="524.05" cy="179.71" r="1.2" fill="#4a86c6"/>
<circle cx="526.34" cy="179.02" r="1.2" fill="#4a86c6"/>
<circle cx="523.89" cy="179.59" r="1.2" fill="#4a86c6"/>
<circle cx="526.77" cy="180.69" r="1.2" fill="#4a86c6"/>
<circle cx="524.14" cy="180.38" r="1.2" fill="#4a86c6"/>
<circle cx="526.08" cy="177.73" r="1.2" fill="#4a86c6"/>
<circle cx="524" cy="181.09" r="1.2" fill="#4a86c6"/>
<circle cx="524.35" cy="180.25" r="1.2" fill="#4a86c6"/>
<circle cx="525.39" cy="181.06" r="1.2" fill="#4a86c6"/>
<circle cx="524.65" cy="180.93" r="1.2" fill="#4a86c6"/>
<circle cx="527.11" cy="178.29" r="1.2" fill="#4a86c6"/>
<circle cx="523.8" cy="177.15" r="1.2" fill="#4a86c6"/>
<circle cx="523.8" cy="179.97" r="1.2" fill="#4a86c6"/>
<circle cx="527.14" cy="177.97" r="1.2" fill="#4a86c6"/>
<circle cx="526.19" cy="179.73" r="1.2" fill="#4a86c6"/>
<circle cx="524.15" cy="178.73" r="1.2" fill="#4a86c6"/>
<circle cx="523.82" cy="180.84" r="1.2" fill="#4a86c6"/>
<circle cx="524.88" cy="181.68" r="1.2" fill="#4a86c6"/>
<circle cx="524.92" cy="177.99" r="1.2" fill="#4a86c6"/>
<circle cx="526.04" cy="179.41" r="1.2" fill="#4a86c6"/>
<circle cx="525.81" cy="179.59" r="1.2" fill="#4a86c6"/>
<circle cx="523.95" cy="178.9" r="1.2" fill="#4a86c6"/>
<circle cx="525.15" cy="172.59" r="1.2" fill="#4a86c6"/>
<circle cx="526.18" cy="172.34" r="1.2" fill="#4a86c6"/>
<circle cx="526.57" cy="174.46" r="1.2" fill="#4a86c6"/>
<circle cx="526.97" cy="175.34" r="1.2" fill="#4a86c6"/>
<circle cx="525.78" cy="176.34" r="1.2" fill="#4a86c6"/>
<circle cx="524.2" cy="178.34" r="1.2" fill="#4a86c6"/>
<circle cx="495.76" cy="180.35" r="1.2" fill="#4a86c6"/>
<circle cx="498.92" cy="181.1" r="1.2" fill="#4a86c6"/>
<circle cx="542.05" cy="175.59" r="1.2" fill="#e3262b"/>
<circle cx="548.33" cy="180.99" r="1.2" fill="#e3262b"/>
<circle cx="544.16" cy="180.07" r="1.2" fill="#e3262b"/>
<circle cx="542.25" cy="180.3" r="1.2" fill="#e3262b"/>
<circle cx="546.01" cy="179.69" r="1.2" fill="#e3262b"/>
<circle cx="546.66" cy="180.21" r="1.2" fill="#e3262b"/>
<circle cx="547.64" cy="180.27" r="1.2" fill="#e3262b"/>
<circle cx="545.01" cy="180.92" r="1.2" fill="#e3262b"/>
<circle cx="540.91" cy="174.78" r="1.2" fill="#e3262b"/>
<circle cx="538.22" cy="171.88" r="1.2" fill="#e3262b"/>
<circle cx="546.76" cy="180.17" r="1.2" fill="#e3262b"/>
<circle cx="544.86" cy="181.5" r="1.2" fill="#e3262b"/>
<circle cx="542.29" cy="178.42" r="1.2" fill="#e3262b"/>
<circle cx="544.76" cy="181.05" r="1.2" fill="#e3262b"/>
<circle cx="545.43" cy="179.55" r="1.2" fill="#e3262b"/>
<circle cx="539.28" cy="168.03" r="1.2" fill="#e3262b"/>
<circle cx="546.71" cy="181.11" r="1.2" fill="#e3262b"/>
<circle cx="543.11" cy="176.13" r="1.2" fill="#e3262b"/>
<circle cx="537.47" cy="168.83" r="1.2" fill="#e3262b"/>
<circle cx="539.01" cy="163.89" r="1.2" fill="#e3262b"/>
<circle cx="548.74" cy="180.73" r="1.2" fill="#e3262b"/>
<circle cx="538.26" cy="168.06" r="1.2" fill="#e3262b"/>
<circle cx="543.75" cy="178.9" r="1.2" fill="#e3262b"/>
<circle cx="543.39" cy="178.68" r="1.2" fill="#e3262b"/>
<circle cx="547.35" cy="180.72" r="1.2" fill="#e3262b"/>
<circle cx="542.12" cy="173.91" r="1.2" fill="#e3262b"/>
<circle cx="539.62" cy="168.84" r="1.2" fill="#e3262b"/>
<circle cx="541.9" cy="175.1" r="1.2" fill="#e3262b"/>
<circle cx="538.53" cy="157.95" r="1.2" fill="#e3262b"/>
<circle cx="541.44" cy="181.63" r="1.2" fill="#e3262b"/>
<circle cx="540.42" cy="176.44" r="1.2" fill="#e3262b"/>
<circle cx="537.16" cy="171.9" r="1.2" fill="#e3262b"/>
<circle cx="542.25" cy="176.33" r="1.2" fill="#e3262b"/>
<circle cx="541.39" cy="179.41" r="1.2" fill="#e3262b"/>
<circle cx="539.8" cy="168.57" r="1.2" fill="#e3262b"/>
<circle cx="548.73" cy="180.71" r="1.2" fill="#e3262b"/>
<circle cx="539.73" cy="167.11" r="1.2" fill="#e3262b"/>
<circle cx="541.89" cy="180.24" r="1.2" fill="#e3262b"/>
<circle cx="538.61" cy="163.07" r="1.2" fill="#e3262b"/>
<circle cx="547.1" cy="180.4" r="1.2" fill="#e3262b"/>
<circle cx="542.85" cy="178.34" r="1.2" fill="#e3262b"/>
<circle cx="539.82" cy="164.59" r="1.2" fill="#e3262b"/>
<circle cx="541.41" cy="175.47" r="1.2" fill="#e3262b"/>
<circle cx="547.22" cy="179.87" r="1.2" fill="#e3262b"/>
<circle cx="542.84" cy="180.18" r="1.2" fill="#e3262b"/>
<circle cx="543.84" cy="181.67" r="1.2" fill="#e3262b"/>
<circle cx="547.4" cy="181.2" r="1.2" fill="#e3262b"/>
<circle cx="547.62" cy="181.45" r="1.2" fill="#e3262b"/>
<circle cx="541.69" cy="179.73" r="1.2" fill="#e3262b"/>
<circle cx="542.32" cy="180.69" r="1.2" fill="#e3262b"/>
<circle cx="537.03" cy="164.43" r="1.2" fill="#e3262b"/>
<circle cx="540.51" cy="178.81" r="1.2" fill="#e3262b"/>
<circle cx="540.77" cy="176.33" r="1.2" fill="#e3262b"/>
<circle cx="542.35" cy="177" r="1.2" fill="#e3262b"/>
<circle cx="545.23" cy="181.18" r="1.2" fill="#e3262b"/>
<circle cx="548.59" cy="179.76" r="1.2" fill="#e3262b"/>
<circle cx="537.71" cy="161.81" r="1.2" fill="#e3262b"/>
<circle cx="548.3" cy="179.97" r="1.2" fill="#e3262b"/>
<circle cx="538.75" cy="161.73" r="1.2" fill="#e3262b"/>
<circle cx="544.9" cy="182.18" r="1.2" fill="#e3262b"/>
<circle cx="537.14" cy="158.76" r="1.2" fill="#e3262b"/>
<circle cx="545.19" cy="181.5" r="1.2" fill="#e3262b"/>
<circle cx="538.27" cy="178.7" r="1.2" fill="#e3262b"/>
<circle cx="539.91" cy="168.49" r="1.2" fill="#e3262b"/>
<circle cx="541.32" cy="180.58" r="1.2" fill="#e3262b"/>
<circle cx="548.28" cy="179.95" r="1.2" fill="#e3262b"/>
<circle cx="539.09" cy="161.83" r="1.2" fill="#e3262b"/>
<circle cx="544.59" cy="179.98" r="1.2" fill="#e3262b"/>
<circle cx="545.34" cy="179.65" r="1.2" fill="#e3262b"/>
<circle cx="546.83" cy="179.81" r="1.2" fill="#e3262b"/>
<circle cx="539.46" cy="167.98" r="1.2" fill="#e3262b"/>
<circle cx="543.62" cy="178.55" r="1.2" fill="#e3262b"/>
<circle cx="542.47" cy="175.27" r="1.2" fill="#e3262b"/>
<circle cx="543.93" cy="181.12" r="1.2" fill="#e3262b"/>
<circle cx="539.92" cy="179.77" r="1.2" fill="#e3262b"/>
<circle cx="543.15" cy="181.86" r="1.2" fill="#e3262b"/>
<circle cx="542.83" cy="181.22" r="1.2" fill="#e3262b"/>
<circle cx="543.13" cy="179.13" r="1.2" fill="#e3262b"/>
<circle cx="543.73" cy="178.18" r="1.2" fill="#e3262b"/>
<circle cx="537.08" cy="161.49" r="1.2" fill="#e3262b"/>
<circle cx="542.84" cy="178.32" r="1.2" fill="#e3262b"/>
<circle cx="545.3" cy="179.8" r="1.2" fill="#e3262b"/>
<circle cx="541.68" cy="178.08" r="1.2" fill="#e3262b"/>
<circle cx="548.99" cy="182.01" r="1.2" fill="#e3262b"/>
<circle cx="544.95" cy="180.39" r="1.2" fill="#e3262b"/>
<circle cx="537.35" cy="167.19" r="1.2" fill="#e3262b"/>
<circle cx="545.52" cy="179.54" r="1.2" fill="#e3262b"/>
<circle cx="541.12" cy="171.13" r="1.2" fill="#e3262b"/>
<circle cx="543.37" cy="179.51" r="1.2" fill="#e3262b"/>
<circle cx="548.2" cy="182.13" r="1.2" fill="#e3262b"/>
<circle cx="545.96" cy="180.42" r="1.2" fill="#e3262b"/>
<circle cx="541.22" cy="172.71" r="1.2" fill="#e3262b"/>
<circle cx="541.57" cy="177.4" r="1.2" fill="#e3262b"/>
<circle cx="543.56" cy="178.28" r="1.2" fill="#e3262b"/>
<circle cx="539.63" cy="173.74" r="1.2" fill="#e3262b"/>
<circle cx="542.27" cy="177.58" r="1.2" fill="#e3262b"/>
<circle cx="547.32" cy="181.38" r="1.2" fill="#e3262b"/>
<circle cx="547.33" cy="181.06" r="1.2" fill="#e3262b"/>
<circle cx="543.29" cy="180.64" r="1.2" fill="#e3262b"/>
<circle cx="543.32" cy="176.64" r="1.2" fill="#e3262b"/>
<circle cx="545.17" cy="179.94" r="1.2" fill="#e3262b"/>
<circle cx="541.13" cy="178.65" r="1.2" fill="#e3262b"/>
<circle cx="540.73" cy="174.89" r="1.2" fill="#e3262b"/>
<circle cx="544.92" cy="179.97" r="1.2" fill="#e3262b"/>
<circle cx="537.5" cy="164.4" r="1.2" fill="#e3262b"/>
<circle cx="548.05" cy="180.65" r="1.2" fill="#e3262b"/>
<circle cx="537.62" cy="174.82" r="1.2" fill="#e3262b"/>
<circle cx="537.08" cy="177.54" r="1.2" fill="#e3262b"/>
<circle cx="548.5" cy="180.47" r="1.2" fill="#e3262b"/>
<circle cx="545.21" cy="179.95" r="1.2" fill="#e3262b"/>
<circle cx="548.35" cy="180.46" r="1.2" fill="#e3262b"/>
<circle cx="544.7" cy="180.42" r="1.2" fill="#e3262b"/>
<circle cx="545.69" cy="180.51" r="1.2" fill="#e3262b"/>
<circle cx="545.5" cy="181.61" r="1.2" fill="#e3262b"/>
<circle cx="545.32" cy="180.91" r="1.2" fill="#e3262b"/>
<circle cx="546.52" cy="181.93" r="1.2" fill="#e3262b"/>
<circle cx="539.26" cy="181.42" r="1.2" fill="#e3262b"/>
<circle cx="546.67" cy="179.59" r="1.2" fill="#e3262b"/>
<circle cx="545.18" cy="181.16" r="1.2" fill="#e3262b"/>
<circle cx="547.27" cy="179.96" r="1.2" fill="#e3262b"/>
<circle cx="544.01" cy="181.48" r="1.2" fill="#e3262b"/>
<circle cx="540.77" cy="177.04" r="1.2" fill="#e3262b"/>
<circle cx="540.97" cy="177.2" r="1.2" fill="#e3262b"/>
<circle cx="545.01" cy="179.54" r="1.2" fill="#e3262b"/>
<circle cx="537.68" cy="168.23" r="1.2" fill="#e3262b"/>
<circle cx="537.49" cy="179.29" r="1.2" fill="#e3262b"/>
<circle cx="547.11" cy="180.57" r="1.2" fill="#e3262b"/>
<circle cx="548.46" cy="180.94" r="1.2" fill="#e3262b"/>
<circle cx="537.17" cy="172.68" r="1.2" fill="#e3262b"/>
<circle cx="544.39" cy="179.52" r="1.2" fill="#e3262b"/>
<circle cx="549.24" cy="180.86" r="1.2" fill="#e3262b"/>
<circle cx="542.15" cy="181.34" r="1.2" fill="#e3262b"/>
<circle cx="545.04" cy="181.61" r="1.2" fill="#e3262b"/>
<circle cx="538.89" cy="181.85" r="1.2" fill="#e3262b"/>
<circle cx="537.06" cy="165.36" r="1.2" fill="#e3262b"/>
<circle cx="538.52" cy="158.4" r="1.2" fill="#e3262b"/>
<circle cx="538.1" cy="160.78" r="1.2" fill="#e3262b"/>
<circle cx="538.61" cy="181.79" r="1.2" fill="#e3262b"/>
<circle cx="545.98" cy="181.53" r="1.2" fill="#e3262b"/>
<circle cx="546.15" cy="181.68" r="1.2" fill="#e3262b"/>
<circle cx="537.62" cy="163.14" r="1.2" fill="#e3262b"/>
<circle cx="545.9" cy="179.76" r="1.2" fill="#e3262b"/>
<circle cx="546.11" cy="181.98" r="1.2" fill="#e3262b"/>
<circle cx="544.84" cy="180.18" r="1.2" fill="#e3262b"/>
<circle cx="542.75" cy="175.53" r="1.2" fill="#e3262b"/>
<circle cx="540.17" cy="166.72" r="1.2" fill="#e3262b"/>
<circle cx="545.95" cy="182.19" r="1.2" fill="#e3262b"/>
<circle cx="537.18" cy="166.18" r="1.2" fill="#e3262b"/>
<circle cx="547.2" cy="182" r="1.2" fill="#e3262b"/>
<circle cx="540.88" cy="173.54" r="1.2" fill="#e3262b"/>
<circle cx="551.18" cy="180.34" r="1.2" fill="#e3262b"/>
<circle cx="557.5" cy="181.74" r="1.2" fill="#e3262b"/>
<circle cx="555.16" cy="180.84" r="1.2" fill="#e3262b"/>
<circle cx="556.56" cy="180.66" r="1.2" fill="#e3262b"/>
<circle cx="550.76" cy="180.45" r="1.2" fill="#e3262b"/>
<circle cx="555.07" cy="180.72" r="1.2" fill="#e3262b"/>
<circle cx="560.34" cy="181.12" r="1.2" fill="#e3262b"/>
<circle cx="555.52" cy="180.47" r="1.2" fill="#e3262b"/>
<circle cx="566.56" cy="180.47" r="1.2" fill="#e3262b"/>
<circle cx="559.09" cy="181.34" r="1.2" fill="#e3262b"/>
<circle cx="549.1" cy="180.14" r="1.2" fill="#e3262b"/>
<circle cx="561.79" cy="180.4" r="1.2" fill="#e3262b"/>
<circle cx="554.46" cy="180.79" r="1.2" fill="#e3262b"/>
<circle cx="567.2" cy="180.39" r="1.2" fill="#e3262b"/>
<circle cx="559.77" cy="181.31" r="1.2" fill="#e3262b"/>
<circle cx="556.36" cy="180.29" r="1.2" fill="#e3262b"/>
<circle cx="555.34" cy="180.65" r="1.2" fill="#e3262b"/>
<circle cx="559.79" cy="180.28" r="1.2" fill="#e3262b"/>
<circle cx="563.85" cy="181.35" r="1.2" fill="#e3262b"/>
<circle cx="547.93" cy="181.39" r="1.2" fill="#e3262b"/>
<circle cx="556.24" cy="180.82" r="1.2" fill="#e3262b"/>
<circle cx="564.02" cy="180.29" r="1.2" fill="#e3262b"/>
<circle cx="548.45" cy="146.3" r="1.2" fill="#e3262b"/>
<circle cx="539.61" cy="150.68" r="1.2" fill="#e3262b"/>
<circle cx="538.82" cy="151.81" r="1.2" fill="#e3262b"/>
<circle cx="541.58" cy="158.57" r="1.2" fill="#e3262b"/>
<circle cx="546.87" cy="160.57" r="1.2" fill="#e3262b"/>
<circle cx="545.61" cy="167.33" r="1.2" fill="#e3262b"/>
<circle cx="537.63" cy="157.32" r="1.2" fill="#e3262b"/>
<circle cx="642.7" cy="44.29" r="1.2" fill="#e3262b"/>
<circle cx="553.43" cy="178.59" r="1.2" fill="#e3262b"/>
<circle cx="557.38" cy="179.97" r="1.2" fill="#e3262b"/>
<circle cx="560.54" cy="180.22" r="1.2" fill="#e3262b"/>
<circle cx="566.86" cy="179.72" r="1.2" fill="#e3262b"/>
<circle cx="573.18" cy="182.1" r="1.2" fill="#a9a9a9"/>
<line x1="527.48" y1="32.4" x2="527.48" y2="182.6" stroke="#333" stroke-width="0.7" stroke-dasharray="1,1.1"/>
<line x1="536.72" y1="32.4" x2="536.72" y2="182.6" stroke="#333" stroke-width="0.7" stroke-dasharray="1,1.1"/>
<line x1="484.5" y1="180.97" x2="642.5" y2="180.97" stroke="#333" stroke-width="0.7" stroke-dasharray="1,1.1"/>
<rect x="484.5" y="32.4" width="158" height="150.2" fill="none" stroke="#7a7a7a" stroke-width="0.9"/>
<line x1="482.5" y1="182.6" x2="484.5" y2="182.6" stroke="#7a7a7a" stroke-width="0.6"/>
<text x="481.5" y="184.2" font-size="4.7" text-anchor="end" fill="#222" stroke="#222" stroke-width="0.05">0</text>
<line x1="482.5" y1="170.08" x2="484.5" y2="170.08" stroke="#7a7a7a" stroke-width="0.6"/>
<text x="481.5" y="171.68" font-size="4.7" text-anchor="end" fill="#222" stroke="#222" stroke-width="0.05">10</text>
<line x1="482.5" y1="157.57" x2="484.5" y2="157.57" stroke="#7a7a7a" stroke-width="0.6"/>
<text x="481.5" y="159.17" font-size="4.7" text-anchor="end" fill="#222" stroke="#222" stroke-width="0.05">20</text>
<line x1="482.5" y1="145.05" x2="484.5" y2="145.05" stroke="#7a7a7a" stroke-width="0.6"/>
<text x="481.5" y="146.65" font-size="4.7" text-anchor="end" fill="#222" stroke="#222" stroke-width="0.05">30</text>
<line x1="482.5" y1="132.53" x2="484.5" y2="132.53" stroke="#7a7a7a" stroke-width="0.6"/>
<text x="481.5" y="134.13" font-size="4.7" text-anchor="end" fill="#222" stroke="#222" stroke-width="0.05">40</text>
<line x1="482.5" y1="120.01" x2="484.5" y2="120.01" stroke="#7a7a7a" stroke-width="0.6"/>
<text x="481.5" y="121.61" font-size="4.7" text-anchor="end" fill="#222" stroke="#222" stroke-width="0.05">50</text>
<line x1="482.5" y1="107.5" x2="484.5" y2="107.5" stroke="#7a7a7a" stroke-width="0.6"/>
<text x="481.5" y="109.1" font-size="4.7" text-anchor="end" fill="#222" stroke="#222" stroke-width="0.05">60</text>
<line x1="482.5" y1="94.98" x2="484.5" y2="94.98" stroke="#7a7a7a" stroke-width="0.6"/>
<text x="481.5" y="96.58" font-size="4.7" text-anchor="end" fill="#222" stroke="#222" stroke-width="0.05">70</text>
<line x1="482.5" y1="82.46" x2="484.5" y2="82.46" stroke="#7a7a7a" stroke-width="0.6"/>
<text x="481.5" y="84.06" font-size="4.7" text-anchor="end" fill="#222" stroke="#222" stroke-width="0.05">80</text>
<line x1="482.5" y1="69.95" x2="484.5" y2="69.95" stroke="#7a7a7a" stroke-width="0.6"/>
<text x="481.5" y="71.55" font-size="4.7" text-anchor="end" fill="#222" stroke="#222" stroke-width="0.05">90</text>
<line x1="482.5" y1="57.43" x2="484.5" y2="57.43" stroke="#7a7a7a" stroke-width="0.6"/>
<text x="481.5" y="59.03" font-size="4.7" text-anchor="end" fill="#222" stroke="#222" stroke-width="0.05">100</text>
<line x1="482.5" y1="44.91" x2="484.5" y2="44.91" stroke="#7a7a7a" stroke-width="0.6"/>
<text x="481.5" y="46.51" font-size="4.7" text-anchor="end" fill="#222" stroke="#222" stroke-width="0.05">110</text>
<line x1="482.5" y1="32.4" x2="484.5" y2="32.4" stroke="#7a7a7a" stroke-width="0.6"/>
<text x="481.5" y="34" font-size="4.7" text-anchor="end" fill="#222" stroke="#222" stroke-width="0.05">120</text>
<line x1="484.7" y1="182.6" x2="484.7" y2="184.6" stroke="#7a7a7a" stroke-width="0.6"/>
<text x="484.7" y="189.3" font-size="4.7" text-anchor="middle" fill="#222" stroke="#222" stroke-width="0.05">-6</text>
<line x1="500.5" y1="182.6" x2="500.5" y2="184.6" stroke="#7a7a7a" stroke-width="0.6"/>
<text x="500.5" y="189.3" font-size="4.7" text-anchor="middle" fill="#222" stroke="#222" stroke-width="0.05">-4</text>
<line x1="516.3" y1="182.6" x2="516.3" y2="184.6" stroke="#7a7a7a" stroke-width="0.6"/>
<text x="516.3" y="189.3" font-size="4.7" text-anchor="middle" fill="#222" stroke="#222" stroke-width="0.05">-2</text>
<line x1="532.1" y1="182.6" x2="532.1" y2="184.6" stroke="#7a7a7a" stroke-width="0.6"/>
<text x="532.1" y="189.3" font-size="4.7" text-anchor="middle" fill="#222" stroke="#222" stroke-width="0.05">0</text>
<line x1="547.9" y1="182.6" x2="547.9" y2="184.6" stroke="#7a7a7a" stroke-width="0.6"/>
<text x="547.9" y="189.3" font-size="4.7" text-anchor="middle" fill="#222" stroke="#222" stroke-width="0.05">2</text>
<line x1="563.7" y1="182.6" x2="563.7" y2="184.6" stroke="#7a7a7a" stroke-width="0.6"/>
<text x="563.7" y="189.3" font-size="4.7" text-anchor="middle" fill="#222" stroke="#222" stroke-width="0.05">4</text>
<line x1="579.5" y1="182.6" x2="579.5" y2="184.6" stroke="#7a7a7a" stroke-width="0.6"/>
<text x="579.5" y="189.3" font-size="4.7" text-anchor="middle" fill="#222" stroke="#222" stroke-width="0.05">6</text>
<line x1="595.3" y1="182.6" x2="595.3" y2="184.6" stroke="#7a7a7a" stroke-width="0.6"/>
<text x="595.3" y="189.3" font-size="4.7" text-anchor="middle" fill="#222" stroke="#222" stroke-width="0.05">8</text>
<line x1="611.1" y1="182.6" x2="611.1" y2="184.6" stroke="#7a7a7a" stroke-width="0.6"/>
<text x="611.1" y="189.3" font-size="4.7" text-anchor="middle" fill="#222" stroke="#222" stroke-width="0.05">10</text>
<line x1="626.9" y1="182.6" x2="626.9" y2="184.6" stroke="#7a7a7a" stroke-width="0.6"/>
<text x="626.9" y="189.3" font-size="4.7" text-anchor="middle" fill="#222" stroke="#222" stroke-width="0.05">12</text>
<line x1="642.7" y1="182.6" x2="642.7" y2="184.6" stroke="#7a7a7a" stroke-width="0.6"/>
<text x="642.7" y="189.3" font-size="4.7" text-anchor="middle" fill="#222" stroke="#222" stroke-width="0.05">14</text>
<text x="469.8" y="108" font-size="5.6" text-anchor="middle" font-weight="bold" fill="#000" transform="rotate(-90 469.8 108)" stroke="#000" stroke-width="0.05">-Log10(Pvalue)</text>
<text x="563.5" y="196.8" font-size="5.5" text-anchor="middle" font-weight="bold" fill="#000" stroke="#000" stroke-width="0.05">Log2FC</text>
<text x="524.6" y="28" font-size="10.5" text-anchor="start" fill="#000">OE vs OE-AMH</text>
<text x="650" y="100.9" font-size="4.5" text-anchor="start" font-weight="bold" fill="#111" stroke="#111" stroke-width="0.05">Significant</text>
<circle cx="651.3" cy="106.3" r="2.6" fill="#e3262b"/>
<text x="655.1" y="108.1" font-size="4.9" text-anchor="start" fill="#111" stroke="#111" stroke-width="0.05">up(263)</text>
<circle cx="651.3" cy="113.95" r="2.6" fill="#a9a9a9"/>
<text x="655.1" y="115.75" font-size="4.9" text-anchor="start" fill="#111" stroke="#111" stroke-width="0.05">nosig(33476)</text>
<circle cx="651.3" cy="121.6" r="2.6" fill="#4a86c6"/>
<text x="655.1" y="123.4" font-size="4.9" text-anchor="start" fill="#111" stroke="#111" stroke-width="0.05">down(61)</text>
<text x="0" y="214.8" font-size="22" text-anchor="start" fill="#000">D</text>
<rect x="20.1" y="219.8" width="25.8" height="1.35" fill="#e76066"/>
<rect x="20.1" y="221.1" width="25.8" height="0.95" fill="#e5393e"/>
<rect x="20.1" y="222" width="25.8" height="2.55" fill="#b4b6e0"/>
<rect x="20.1" y="224.5" width="25.8" height="2.45" fill="#e76e74"/>
<rect x="20.1" y="226.9" width="25.8" height="1.05" fill="#e97d83"/>
<rect x="20.1" y="227.9" width="25.8" height="2.05" fill="#e8787e"/>
<rect x="20.1" y="229.9" width="25.8" height="1.65" fill="#e6575d"/>
<rect x="20.1" y="231.5" width="25.8" height="0.55" fill="#e76c72"/>
<rect x="20.1" y="232" width="25.8" height="1.65" fill="#e5e4f3"/>
<rect x="20.1" y="233.6" width="25.8" height="1.35" fill="#f6e3e9"/>
<rect x="20.1" y="234.9" width="25.8" height="1.35" fill="#f7eef3"/>
<rect x="20.1" y="236.2" width="25.8" height="0.35" fill="#f6e8ee"/>
<rect x="20.1" y="236.5" width="25.8" height="3.05" fill="#f2c5cb"/>
<rect x="20.1" y="239.5" width="25.8" height="1.55" fill="#ec949a"/>
<rect x="20.1" y="241" width="25.8" height="2.05" fill="#e65258"/>
<rect x="20.1" y="243" width="25.8" height="2.05" fill="#e54146"/>
<rect x="20.1" y="245" width="25.8" height="1.35" fill="#e42d32"/>
<rect x="20.1" y="246.3" width="25.8" height="1.35" fill="#e5454b"/>
<rect x="20.1" y="247.6" width="25.8" height="1.05" fill="#e53d43"/>
<rect x="20.1" y="248.6" width="25.8" height="2.45" fill="#e53c41"/>
<rect x="20.1" y="251" width="25.8" height="1.35" fill="#e43035"/>
<rect x="20.1" y="252.3" width="25.8" height="3.05" fill="#e42227"/>
<rect x="20.1" y="255.3" width="25.8" height="1.35" fill="#e42327"/>
<rect x="20.1" y="256.6" width="25.8" height="0.95" fill="#e53c41"/>
<rect x="20.1" y="257.5" width="25.8" height="1.35" fill="#ed9ea4"/>
<rect x="20.1" y="258.8" width="25.8" height="1.05" fill="#ed9da4"/>
<rect x="20.1" y="259.8" width="25.8" height="2.45" fill="#ea888e"/>
<rect x="20.1" y="262.2" width="25.8" height="1.85" fill="#e87177"/>
<rect x="20.1" y="264" width="25.8" height="3.05" fill="#f3cdd3"/>
<rect x="20.1" y="267" width="25.8" height="2.45" fill="#efadb4"/>
<rect x="20.1" y="269.4" width="25.8" height="0.65" fill="#f5dce2"/>
<rect x="20.1" y="270" width="25.8" height="1.65" fill="#e65b61"/>
<rect x="20.1" y="271.6" width="25.8" height="2.05" fill="#e8757b"/>
<rect x="20.1" y="273.6" width="25.8" height="1.05" fill="#e86f75"/>
<rect x="20.1" y="274.6" width="25.8" height="1.65" fill="#e8787e"/>
<rect x="20.1" y="276.2" width="25.8" height="3.05" fill="#e97b81"/>
<rect x="20.1" y="279.2" width="25.8" height="0.85" fill="#ec9399"/>
<rect x="20.1" y="280" width="25.8" height="2.05" fill="#e6595f"/>
<rect x="20.1" y="282" width="25.8" height="2.45" fill="#e7646a"/>
<rect x="20.1" y="284.4" width="25.8" height="2.45" fill="#e65f65"/>
<rect x="20.1" y="286.8" width="25.8" height="1.65" fill="#e6585e"/>
<rect x="20.1" y="288.4" width="25.8" height="0.65" fill="#e65056"/>
<rect x="20.1" y="289" width="25.8" height="3.05" fill="#e8787e"/>
<rect x="20.1" y="292" width="25.8" height="2.45" fill="#e8787e"/>
<rect x="20.1" y="294.4" width="25.8" height="1.35" fill="#e76e74"/>
<rect x="20.1" y="295.7" width="25.8" height="1.35" fill="#eb8a91"/>
<rect x="20.1" y="297" width="25.8" height="3.05" fill="#e87379"/>
<rect x="20.1" y="300" width="25.8" height="1.65" fill="#ec979e"/>
<rect x="20.1" y="301.6" width="25.8" height="1.65" fill="#ec969d"/>
<rect x="20.1" y="303.2" width="25.8" height="2.05" fill="#e8757b"/>
<rect x="20.1" y="305.2" width="25.8" height="1.35" fill="#e8787e"/>
<rect x="20.1" y="306.5" width="25.8" height="2.45" fill="#ea848a"/>
<rect x="20.1" y="308.9" width="25.8" height="1.35" fill="#e7656b"/>
<rect x="20.1" y="310.2" width="25.8" height="1.05" fill="#e8757b"/>
<rect x="20.1" y="311.2" width="25.8" height="2.05" fill="#e98087"/>
<rect x="20.1" y="313.2" width="25.8" height="3.05" fill="#ea858c"/>
<rect x="20.1" y="316.2" width="25.8" height="3.05" fill="#ec9299"/>
<rect x="20.1" y="319.2" width="25.8" height="3.05" fill="#e8797f"/>
<rect x="20.1" y="322.2" width="25.8" height="2.05" fill="#e76e74"/>
<rect x="20.1" y="324.2" width="25.8" height="1.05" fill="#e7666c"/>
<rect x="20.1" y="325.2" width="25.8" height="1.35" fill="#e87379"/>
<rect x="20.1" y="326.5" width="25.8" height="1.05" fill="#e98086"/>
<rect x="20.1" y="327.5" width="25.8" height="1.35" fill="#e97a80"/>
<rect x="20.1" y="328.8" width="25.8" height="1.65" fill="#e8757b"/>
<rect x="20.1" y="330.4" width="25.8" height="1.05" fill="#ea878d"/>
<rect x="20.1" y="331.4" width="25.8" height="1.05" fill="#ec979e"/>
<rect x="20.1" y="332.4" width="25.8" height="2.45" fill="#eb8e94"/>
<rect x="20.1" y="334.8" width="25.8" height="0.25" fill="#e8747a"/>
<rect x="20.1" y="335" width="25.8" height="2.05" fill="#ea8289"/>
<rect x="20.1" y="337" width="25.8" height="1.65" fill="#e87076"/>
<rect x="20.1" y="338.6" width="25.8" height="2.05" fill="#e7676d"/>
<rect x="20.1" y="340.6" width="25.8" height="2.05" fill="#e7656b"/>
<rect x="20.1" y="342.6" width="25.8" height="1.05" fill="#e65c62"/>
<rect x="20.1" y="343.6" width="25.8" height="2.05" fill="#e8757b"/>
<rect x="20.1" y="345.6" width="25.8" height="1.65" fill="#e7696f"/>
<rect x="20.1" y="347.2" width="25.8" height="1.35" fill="#e87278"/>
<rect x="20.1" y="348.5" width="25.8" height="1.05" fill="#e8757b"/>
<rect x="20.1" y="349.5" width="25.8" height="1.65" fill="#e7666c"/>
<rect x="20.1" y="351.1" width="25.8" height="1.65" fill="#e76a70"/>
<rect x="20.1" y="352.7" width="25.8" height="2.45" fill="#e76c72"/>
<rect x="20.1" y="355.1" width="25.8" height="0.95" fill="#e76d73"/>
<rect x="20.1" y="356" width="25.8" height="1.05" fill="#f8f2f7"/>
<rect x="20.1" y="357" width="25.8" height="1.35" fill="#edebf6"/>
<rect x="20.1" y="358.3" width="25.8" height="3.05" fill="#f5d9df"/>
<rect x="20.1" y="361.3" width="25.8" height="1.05" fill="#f5dee4"/>
<rect x="20.1" y="362.3" width="25.8" height="1.65" fill="#d3d3ec"/>
<rect x="20.1" y="363.9" width="25.8" height="1.65" fill="#ece9f5"/>
<rect x="20.1" y="365.5" width="25.8" height="2.05" fill="#e0dff1"/>
<rect x="20.1" y="367.5" width="25.8" height="1.35" fill="#eea0a6"/>
<rect x="20.1" y="368.8" width="25.8" height="3.05" fill="#efaab1"/>
<rect x="20.1" y="371.8" width="25.8" height="2.45" fill="#ec9198"/>
<rect x="20.1" y="374.2" width="25.8" height="1.45" fill="#f2c4ca"/>
<rect x="20.1" y="375.6" width="25.8" height="1.35" fill="#8087ca"/>
<rect x="20.1" y="376.9" width="25.8" height="3.05" fill="#8a8fce"/>
<rect x="20.1" y="379.9" width="25.8" height="3.05" fill="#8188ca"/>
<rect x="20.1" y="382.9" width="25.8" height="2.05" fill="#7179c3"/>
<rect x="20.1" y="384.9" width="25.8" height="1.35" fill="#5d68b9"/>
<rect x="20.1" y="386.2" width="25.8" height="1.35" fill="#868ccc"/>
<rect x="20.1" y="387.5" width="25.8" height="1.35" fill="#868dcc"/>
<rect x="20.1" y="388.8" width="25.8" height="2.45" fill="#616cbc"/>
<rect x="20.1" y="391.2" width="25.8" height="2.45" fill="#767ec5"/>
<rect x="20.1" y="393.6" width="25.8" height="2.05" fill="#6c75c0"/>
<rect x="20.1" y="395.6" width="25.8" height="3.05" fill="#6f78c2"/>
<rect x="20.1" y="398.6" width="25.8" height="1.45" fill="#5e69ba"/>
<rect x="20.1" y="400" width="25.8" height="2.45" fill="#626cbc"/>
<rect x="20.1" y="402.4" width="25.8" height="1.05" fill="#616bbb"/>
<rect x="20.1" y="403.4" width="25.8" height="2.45" fill="#5965b7"/>
<rect x="20.1" y="405.8" width="25.8" height="2.05" fill="#5965b7"/>
<rect x="20.1" y="407.8" width="25.8" height="2.05" fill="#5663b6"/>
<rect x="20.1" y="409.8" width="25.8" height="1.05" fill="#4858ae"/>
<rect x="20.1" y="410.8" width="25.8" height="1.05" fill="#6973bf"/>
<rect x="20.1" y="411.8" width="25.8" height="1.05" fill="#5e69ba"/>
<rect x="20.1" y="412.8" width="25.8" height="2.45" fill="#5e69ba"/>
<rect x="20.1" y="415.2" width="25.8" height="1.05" fill="#5f6abb"/>
<rect x="20.1" y="416.2" width="25.8" height="1.65" fill="#5864b7"/>
<rect x="20.1" y="417.8" width="25.8" height="2.45" fill="#5864b7"/>
<rect x="20.1" y="420.2" width="25.8" height="1.35" fill="#6a73c0"/>
<rect x="20.1" y="421.5" width="25.8" height="2.45" fill="#6f77c2"/>
<rect x="20.1" y="423.9" width="25.8" height="1.35" fill="#6c75c1"/>
<rect x="20.1" y="425.2" width="25.8" height="3.05" fill="#8087c9"/>
<rect x="20.1" y="428.2" width="25.8" height="2.45" fill="#4c5bb0"/>
<rect x="20.1" y="430.6" width="25.8" height="1.05" fill="#727ac3"/>
<rect x="20.1" y="431.6" width="25.8" height="3.05" fill="#6871bf"/>
<rect x="20.1" y="434.6" width="25.8" height="1.05" fill="#4a5aaf"/>
<rect x="20.1" y="435.6" width="25.8" height="3.05" fill="#737bc4"/>
<rect x="20.1" y="438.6" width="25.8" height="1.65" fill="#5260b4"/>
<rect x="20.1" y="440.2" width="25.8" height="1.35" fill="#5a66b8"/>
<rect x="20.1" y="441.5" width="25.8" height="1.65" fill="#4a59af"/>
<rect x="20.1" y="443.1" width="25.8" height="1.35" fill="#5d68b9"/>
<rect x="20.1" y="444.4" width="25.8" height="0.65" fill="#5c67b9"/>
<rect x="20.1" y="445" width="25.8" height="1.05" fill="#9b9fd6"/>
<rect x="20.1" y="446" width="25.8" height="3.05" fill="#a2a5d9"/>
<rect x="20.1" y="449" width="25.8" height="1.05" fill="#a4a7d9"/>
<rect x="20.1" y="450" width="25.8" height="2.05" fill="#9297d2"/>
<rect x="20.1" y="452" width="25.8" height="0.45" fill="#737bc4"/>
<rect x="45.85" y="219.8" width="25.8" height="2.25" fill="#c4c5e6"/>
<rect x="45.85" y="222" width="25.8" height="2.45" fill="#e5464b"/>
<rect x="45.85" y="224.4" width="25.8" height="1.65" fill="#e54147"/>
<rect x="45.85" y="226" width="25.8" height="1.35" fill="#e42c31"/>
<rect x="45.85" y="227.3" width="25.8" height="2.45" fill="#e42e33"/>
<rect x="45.85" y="229.7" width="25.8" height="1.35" fill="#e4262b"/>
<rect x="45.85" y="231" width="25.8" height="1.35" fill="#e8747a"/>
<rect x="45.85" y="232.3" width="25.8" height="1.65" fill="#e76066"/>
<rect x="45.85" y="233.9" width="25.8" height="1.35" fill="#e7656b"/>
<rect x="45.85" y="235.2" width="25.8" height="2.45" fill="#e76066"/>
<rect x="45.85" y="237.6" width="25.8" height="1.65" fill="#e7646a"/>
<rect x="45.85" y="239.2" width="25.8" height="1.35" fill="#e6565c"/>
<rect x="45.85" y="240.5" width="25.8" height="0.55" fill="#e7696f"/>
<rect x="45.85" y="241" width="25.8" height="1.05" fill="#eea0a7"/>
<rect x="45.85" y="242" width="25.8" height="2.05" fill="#ed9aa1"/>
<rect x="45.85" y="244" width="25.8" height="3.05" fill="#eb8b92"/>
<rect x="45.85" y="247" width="25.8" height="2.05" fill="#ed99a0"/>
<rect x="45.85" y="249" width="25.8" height="1.65" fill="#dfdef0"/>
<rect x="45.85" y="250.6" width="25.8" height="2.05" fill="#f7ebf1"/>
<rect x="45.85" y="252.6" width="25.8" height="1.05" fill="#efecf6"/>
<rect x="45.85" y="253.6" width="25.8" height="2.05" fill="#f7eff4"/>
<rect x="45.85" y="255.6" width="25.8" height="2.05" fill="#e6e5f3"/>
<rect x="45.85" y="257.6" width="25.8" height="1.05" fill="#eae8f5"/>
<rect x="45.85" y="258.6" width="25.8" height="1.05" fill="#ea868c"/>
<rect x="45.85" y="259.6" width="25.8" height="1.65" fill="#ea8389"/>
<rect x="45.85" y="261.2" width="25.8" height="2.45" fill="#ea848b"/>
<rect x="45.85" y="263.6" width="25.8" height="1.35" fill="#e87177"/>
<rect x="45.85" y="264.9" width="25.8" height="1.65" fill="#ea848a"/>
<rect x="45.85" y="266.5" width="25.8" height="1.05" fill="#e98087"/>
<rect x="45.85" y="267.5" width="25.8" height="3.05" fill="#ec949b"/>
<rect x="45.85" y="270.5" width="25.8" height="1.65" fill="#e87177"/>
<rect x="45.85" y="272.1" width="25.8" height="1.35" fill="#eb9097"/>
<rect x="45.85" y="273.4" width="25.8" height="2.05" fill="#e8767c"/>
<rect x="45.85" y="275.4" width="25.8" height="1.35" fill="#ec949a"/>
<rect x="45.85" y="276.7" width="25.8" height="3.05" fill="#eea6ad"/>
<rect x="45.85" y="279.7" width="25.8" height="0.35" fill="#eb898f"/>
<rect x="45.85" y="280" width="25.8" height="1.05" fill="#e87379"/>
<rect x="45.85" y="281" width="25.8" height="3.05" fill="#e97f85"/>
<rect x="45.85" y="284" width="25.8" height="2.05" fill="#e97d83"/>
<rect x="45.85" y="286" width="25.8" height="3.05" fill="#eb8a90"/>
<rect x="45.85" y="289" width="25.8" height="2.45" fill="#e87278"/>
<rect x="45.85" y="291.4" width="25.8" height="3.05" fill="#ec969d"/>
<rect x="45.85" y="294.4" width="25.8" height="1.35" fill="#ea868c"/>
<rect x="45.85" y="295.7" width="25.8" height="1.35" fill="#ed9ca2"/>
<rect x="45.85" y="297" width="25.8" height="3.05" fill="#e7666c"/>
<rect x="45.85" y="300" width="25.8" height="1.35" fill="#e97f85"/>
<rect x="45.85" y="301.3" width="25.8" height="1.05" fill="#e65a60"/>
<rect x="45.85" y="302.3" width="25.8" height="1.65" fill="#e98086"/>
<rect x="45.85" y="303.9" width="25.8" height="2.05" fill="#e7666c"/>
<rect x="45.85" y="305.9" width="25.8" height="3.05" fill="#e86f75"/>
<rect x="45.85" y="308.9" width="25.8" height="1.65" fill="#ea8188"/>
<rect x="45.85" y="310.5" width="25.8" height="3.05" fill="#e8747a"/>
<rect x="45.85" y="313.5" width="25.8" height="1.65" fill="#e65b61"/>
<rect x="45.85" y="315.1" width="25.8" height="1.65" fill="#e7646a"/>
<rect x="45.85" y="316.7" width="25.8" height="2.05" fill="#e8747a"/>
<rect x="45.85" y="318.7" width="25.8" height="1.65" fill="#e87076"/>
<rect x="45.85" y="320.3" width="25.8" height="1.35" fill="#e7656b"/>
<rect x="45.85" y="321.6" width="25.8" height="1.35" fill="#e76b71"/>
<rect x="45.85" y="322.9" width="25.8" height="1.05" fill="#e7686e"/>
<rect x="45.85" y="323.9" width="25.8" height="2.45" fill="#e8757b"/>
<rect x="45.85" y="326.3" width="25.8" height="2.05" fill="#e8797f"/>
<rect x="45.85" y="328.3" width="25.8" height="1.65" fill="#e97b81"/>
<rect x="45.85" y="329.9" width="25.8" height="1.35" fill="#e87278"/>
<rect x="45.85" y="331.2" width="25.8" height="1.35" fill="#eb8a90"/>
<rect x="45.85" y="332.5" width="25.8" height="2.45" fill="#ea8389"/>
<rect x="45.85" y="334.9" width="25.8" height="0.15" fill="#e97f85"/>
<rect x="45.85" y="335" width="25.8" height="1.35" fill="#e97c83"/>
<rect x="45.85" y="336.3" width="25.8" height="2.05" fill="#e76268"/>
<rect x="45.85" y="338.3" width="25.8" height="2.05" fill="#eb8990"/>
<rect x="45.85" y="340.3" width="25.8" height="2.45" fill="#eb8d93"/>
<rect x="45.85" y="342.7" width="25.8" height="1.05" fill="#e87278"/>
<rect x="45.85" y="343.7" width="25.8" height="1.35" fill="#e76268"/>
<rect x="45.85" y="345" width="25.8" height="1.65" fill="#e8747a"/>
<rect x="45.85" y="346.6" width="25.8" height="3.05" fill="#e8747a"/>
<rect x="45.85" y="349.6" width="25.8" height="1.35" fill="#ea8288"/>
<rect x="45.85" y="350.9" width="25.8" height="1.65" fill="#eb8f95"/>
<rect x="45.85" y="352.5" width="25.8" height="2.45" fill="#ea8288"/>
<rect x="45.85" y="354.9" width="25.8" height="1.15" fill="#eb8990"/>
<rect x="45.85" y="356" width="25.8" height="2.05" fill="#e7666c"/>
<rect x="45.85" y="358" width="25.8" height="3.05" fill="#e65e64"/>
<rect x="45.85" y="361" width="25.8" height="1.65" fill="#e65b61"/>
<rect x="45.85" y="362.6" width="25.8" height="2.05" fill="#e7656b"/>
<rect x="45.85" y="364.6" width="25.8" height="1.35" fill="#e7666c"/>
<rect x="45.85" y="365.9" width="25.8" height="0.15" fill="#e6575d"/>
<rect x="45.85" y="366" width="25.8" height="1.35" fill="#efacb3"/>
<rect x="45.85" y="367.3" width="25.8" height="3.05" fill="#f4d4da"/>
<rect x="45.85" y="370.3" width="25.8" height="2.05" fill="#f7eef3"/>
<rect x="45.85" y="372.3" width="25.8" height="2.45" fill="#f6e5eb"/>
<rect x="45.85" y="374.7" width="25.8" height="0.95" fill="#f6e6ec"/>
<rect x="45.85" y="375.6" width="25.8" height="2.05" fill="#6771be"/>
<rect x="45.85" y="377.6" width="25.8" height="2.45" fill="#6872bf"/>
<rect x="45.85" y="380" width="25.8" height="2.05" fill="#606bbb"/>
<rect x="45.85" y="382" width="25.8" height="2.05" fill="#5965b7"/>
<rect x="45.85" y="384" width="25.8" height="1.35" fill="#5360b4"/>
<rect x="45.85" y="385.3" width="25.8" height="2.05" fill="#626cbc"/>
<rect x="45.85" y="387.3" width="25.8" height="1.05" fill="#4e5db1"/>
<rect x="45.85" y="388.3" width="25.8" height="1.05" fill="#5f6aba"/>
<rect x="45.85" y="389.3" width="25.8" height="3.05" fill="#5b66b8"/>
<rect x="45.85" y="392.3" width="25.8" height="1.05" fill="#5864b7"/>
<rect x="45.85" y="393.3" width="25.8" height="1.75" fill="#4858ae"/>
<rect x="45.85" y="395" width="25.8" height="1.65" fill="#acafdd"/>
<rect x="45.85" y="396.6" width="25.8" height="2.05" fill="#b4b6e0"/>
<rect x="45.85" y="398.6" width="25.8" height="1.05" fill="#c1c2e5"/>
<rect x="45.85" y="399.6" width="25.8" height="1.05" fill="#969bd3"/>
<rect x="45.85" y="400.6" width="25.8" height="1.35" fill="#868ccc"/>
<rect x="45.85" y="401.9" width="25.8" height="2.45" fill="#b0b3de"/>
<rect x="45.85" y="404.3" width="25.8" height="1.05" fill="#bdbee3"/>
<rect x="45.85" y="405.3" width="25.8" height="3.05" fill="#9499d2"/>
<rect x="45.85" y="408.3" width="25.8" height="0.75" fill="#aeb1de"/>
<rect x="45.85" y="409" width="25.8" height="3.05" fill="#7c83c8"/>
<rect x="45.85" y="412" width="25.8" height="3.05" fill="#6670be"/>
<rect x="45.85" y="415" width="25.8" height="1.05" fill="#5562b5"/>
<rect x="45.85" y="416" width="25.8" height="1.35" fill="#7b82c7"/>
<rect x="45.85" y="417.3" width="25.8" height="3.05" fill="#4c5cb1"/>
<rect x="45.85" y="420.3" width="25.8" height="2.45" fill="#5f69ba"/>
<rect x="45.85" y="422.7" width="25.8" height="2.45" fill="#5864b7"/>
<rect x="45.85" y="425.1" width="25.8" height="1.05" fill="#4f5eb2"/>
<rect x="45.85" y="426.1" width="25.8" height="1.35" fill="#7d84c8"/>
<rect x="45.85" y="427.4" width="25.8" height="2.45" fill="#4f5eb2"/>
<rect x="45.85" y="429.8" width="25.8" height="1.05" fill="#4858ae"/>
<rect x="45.85" y="430.8" width="25.8" height="1.05" fill="#6a74c0"/>
<rect x="45.85" y="431.8" width="25.8" height="2.45" fill="#5a66b8"/>
<rect x="45.85" y="434.2" width="25.8" height="3.05" fill="#6871bf"/>
<rect x="45.85" y="437.2" width="25.8" height="1.05" fill="#515fb3"/>
<rect x="45.85" y="438.2" width="25.8" height="1.65" fill="#5763b6"/>
<rect x="45.85" y="439.8" width="25.8" height="1.05" fill="#5e69ba"/>
<rect x="45.85" y="440.8" width="25.8" height="1.05" fill="#5865b7"/>
<rect x="45.85" y="441.8" width="25.8" height="1.05" fill="#6d76c1"/>
<rect x="45.85" y="442.8" width="25.8" height="1.65" fill="#5a66b8"/>
<rect x="45.85" y="444.4" width="25.8" height="0.65" fill="#616bbc"/>
<rect x="45.85" y="445" width="25.8" height="3.05" fill="#3e50a8"/>
<rect x="45.85" y="448" width="25.8" height="3.05" fill="#3f51a9"/>
<rect x="45.85" y="451" width="25.8" height="1.45" fill="#4858ae"/>
<rect x="71.6" y="219.8" width="25.8" height="1.35" fill="#ec969c"/>
<rect x="71.6" y="221.1" width="25.8" height="0.95" fill="#ed9da4"/>
<rect x="71.6" y="222" width="25.8" height="3.05" fill="#dfdef0"/>
<rect x="71.6" y="225" width="25.8" height="1.65" fill="#dad9ee"/>
<rect x="71.6" y="226.6" width="25.8" height="2.45" fill="#cacae8"/>
<rect x="71.6" y="229" width="25.8" height="2.05" fill="#f6f3f9"/>
<rect x="71.6" y="231" width="25.8" height="2.45" fill="#e97b81"/>
<rect x="71.6" y="233.4" width="25.8" height="1.35" fill="#e76a70"/>
<rect x="71.6" y="234.7" width="25.8" height="3.05" fill="#e76066"/>
<rect x="71.6" y="237.7" width="25.8" height="0.35" fill="#e87278"/>
<rect x="71.6" y="238" width="25.8" height="1.35" fill="#f3c7cd"/>
<rect x="71.6" y="239.3" width="25.8" height="1.35" fill="#f3c9d0"/>
<rect x="71.6" y="240.6" width="25.8" height="2.45" fill="#f8f3f8"/>
<rect x="71.6" y="243" width="25.8" height="1.35" fill="#f6e0e6"/>
<rect x="71.6" y="244.3" width="25.8" height="3.05" fill="#f5d8de"/>
<rect x="71.6" y="247.3" width="25.8" height="2.45" fill="#f3cfd5"/>
<rect x="71.6" y="249.7" width="25.8" height="2.05" fill="#f6e1e7"/>
<rect x="71.6" y="251.7" width="25.8" height="1.35" fill="#f6e3e8"/>
<rect x="71.6" y="253" width="25.8" height="2.45" fill="#e98087"/>
<rect x="71.6" y="255.4" width="25.8" height="3.05" fill="#ea858b"/>
<rect x="71.6" y="258.4" width="25.8" height="1.35" fill="#efacb3"/>
<rect x="71.6" y="259.7" width="25.8" height="2.05" fill="#eb9096"/>
<rect x="71.6" y="261.7" width="25.8" height="2.05" fill="#e8787e"/>
<rect x="71.6" y="263.7" width="25.8" height="1.65" fill="#e8767c"/>
<rect x="71.6" y="265.3" width="25.8" height="1.35" fill="#ea8288"/>
<rect x="71.6" y="266.6" width="25.8" height="0.45" fill="#ea888f"/>
<rect x="71.6" y="267" width="25.8" height="2.05" fill="#e54d53"/>
<rect x="71.6" y="269" width="25.8" height="3.05" fill="#e54d53"/>
<rect x="71.6" y="272" width="25.8" height="0.55" fill="#e65157"/>
<rect x="71.6" y="272.5" width="25.8" height="2.05" fill="#ec9399"/>
<rect x="71.6" y="274.5" width="25.8" height="3.05" fill="#e76c72"/>
<rect x="71.6" y="277.5" width="25.8" height="3.05" fill="#ea8289"/>
<rect x="71.6" y="280.5" width="25.8" height="1.55" fill="#ea838a"/>
<rect x="71.6" y="282" width="25.8" height="3.05" fill="#f1b7be"/>
<rect x="71.6" y="285" width="25.8" height="1.35" fill="#f3c9cf"/>
<rect x="71.6" y="286.3" width="25.8" height="2.45" fill="#f2bfc6"/>
<rect x="71.6" y="288.7" width="25.8" height="0.35" fill="#f5dae0"/>
<rect x="71.6" y="289" width="25.8" height="2.45" fill="#e98086"/>
<rect x="71.6" y="291.4" width="25.8" height="1.05" fill="#ed989f"/>
<rect x="71.6" y="292.4" width="25.8" height="1.35" fill="#e76369"/>
<rect x="71.6" y="293.7" width="25.8" height="1.65" fill="#e65e64"/>
<rect x="71.6" y="295.3" width="25.8" height="2.05" fill="#e76a70"/>
<rect x="71.6" y="297.3" width="25.8" height="3.05" fill="#e8777d"/>
<rect x="71.6" y="300.3" width="25.8" height="1.35" fill="#e76167"/>
<rect x="71.6" y="301.6" width="25.8" height="1.35" fill="#e97b81"/>
<rect x="71.6" y="302.9" width="25.8" height="1.35" fill="#e76e74"/>
<rect x="71.6" y="304.2" width="25.8" height="1.35" fill="#e98086"/>
<rect x="71.6" y="305.5" width="25.8" height="2.45" fill="#e8777d"/>
<rect x="71.6" y="307.9" width="25.8" height="2.05" fill="#e8797f"/>
<rect x="71.6" y="309.9" width="25.8" height="1.35" fill="#e8777d"/>
<rect x="71.6" y="311.2" width="25.8" height="2.05" fill="#e8777d"/>
<rect x="71.6" y="313.2" width="25.8" height="1.35" fill="#e86f75"/>
<rect x="71.6" y="314.5" width="25.8" height="1.05" fill="#ea848a"/>
<rect x="71.6" y="315.5" width="25.8" height="3.05" fill="#e87076"/>
<rect x="71.6" y="318.5" width="25.8" height="2.05" fill="#ea8288"/>
<rect x="71.6" y="320.5" width="25.8" height="1.35" fill="#e87177"/>
<rect x="71.6" y="321.8" width="25.8" height="3.05" fill="#e97f85"/>
<rect x="71.6" y="324.8" width="25.8" height="1.35" fill="#e76066"/>
<rect x="71.6" y="326.1" width="25.8" height="1.05" fill="#ec969c"/>
<rect x="71.6" y="327.1" width="25.8" height="2.05" fill="#e87177"/>
<rect x="71.6" y="329.1" width="25.8" height="2.45" fill="#e76b71"/>
<rect x="71.6" y="331.5" width="25.8" height="1.35" fill="#eb8c92"/>
<rect x="71.6" y="332.8" width="25.8" height="1.65" fill="#e86f75"/>
<rect x="71.6" y="334.4" width="25.8" height="0.65" fill="#e87177"/>
<rect x="71.6" y="335" width="25.8" height="2.05" fill="#ec9197"/>
<rect x="71.6" y="337" width="25.8" height="3.05" fill="#ed9da3"/>
<rect x="71.6" y="340" width="25.8" height="2.05" fill="#e8797f"/>
<rect x="71.6" y="342" width="25.8" height="2.05" fill="#e8777d"/>
<rect x="71.6" y="344" width="25.8" height="1.35" fill="#e97a81"/>
<rect x="71.6" y="345.3" width="25.8" height="1.35" fill="#e87278"/>
<rect x="71.6" y="346.6" width="25.8" height="3.05" fill="#eea2a9"/>
<rect x="71.6" y="349.6" width="25.8" height="1.05" fill="#eea0a7"/>
<rect x="71.6" y="350.6" width="25.8" height="2.05" fill="#ed9ea5"/>
<rect x="71.6" y="352.6" width="25.8" height="3.05" fill="#ed9fa6"/>
<rect x="71.6" y="355.6" width="25.8" height="0.45" fill="#efabb2"/>
<rect x="71.6" y="356" width="25.8" height="1.05" fill="#e65a60"/>
<rect x="71.6" y="357" width="25.8" height="3.05" fill="#e5353a"/>
<rect x="71.6" y="360" width="25.8" height="1.35" fill="#e42529"/>
<rect x="71.6" y="361.3" width="25.8" height="1.35" fill="#e65157"/>
<rect x="71.6" y="362.6" width="25.8" height="2.05" fill="#e53b40"/>
<rect x="71.6" y="364.6" width="25.8" height="3.05" fill="#e42a2f"/>
<rect x="71.6" y="367.6" width="25.8" height="1.65" fill="#e6565c"/>
<rect x="71.6" y="369.2" width="25.8" height="2.45" fill="#e42e33"/>
<rect x="71.6" y="371.6" width="25.8" height="2.05" fill="#e42c31"/>
<rect x="71.6" y="373.6" width="25.8" height="2.05" fill="#e54046"/>
<rect x="71.6" y="375.6" width="25.8" height="1.05" fill="#616bbb"/>
<rect x="71.6" y="376.6" width="25.8" height="1.65" fill="#5461b5"/>
<rect x="71.6" y="378.2" width="25.8" height="2.45" fill="#5764b6"/>
<rect x="71.6" y="380.6" width="25.8" height="1.35" fill="#6972bf"/>
<rect x="71.6" y="381.9" width="25.8" height="1.35" fill="#5663b6"/>
<rect x="71.6" y="383.2" width="25.8" height="1.05" fill="#6a73c0"/>
<rect x="71.6" y="384.2" width="25.8" height="1.35" fill="#626cbc"/>
<rect x="71.6" y="385.5" width="25.8" height="2.05" fill="#6c75c0"/>
<rect x="71.6" y="387.5" width="25.8" height="2.45" fill="#5e69ba"/>
<rect x="71.6" y="389.9" width="25.8" height="2.45" fill="#5260b3"/>
<rect x="71.6" y="392.3" width="25.8" height="1.65" fill="#5562b5"/>
<rect x="71.6" y="393.9" width="25.8" height="1.05" fill="#767ec5"/>
<rect x="71.6" y="394.9" width="25.8" height="0.15" fill="#4f5eb2"/>
<rect x="71.6" y="395" width="25.8" height="1.35" fill="#5a66b8"/>
<rect x="71.6" y="396.3" width="25.8" height="1.05" fill="#4a5aaf"/>
<rect x="71.6" y="397.3" width="25.8" height="3.05" fill="#4c5bb0"/>
<rect x="71.6" y="400.3" width="25.8" height="3.05" fill="#4959af"/>
<rect x="71.6" y="403.3" width="25.8" height="0.75" fill="#4f5eb2"/>
<rect x="71.6" y="404" width="25.8" height="1.05" fill="#888ecd"/>
<rect x="71.6" y="405" width="25.8" height="3.05" fill="#959ad3"/>
<rect x="71.6" y="408" width="25.8" height="1.35" fill="#b1b3df"/>
<rect x="71.6" y="409.3" width="25.8" height="3.05" fill="#858bcc"/>
<rect x="71.6" y="412.3" width="25.8" height="1.65" fill="#767ec5"/>
<rect x="71.6" y="413.9" width="25.8" height="2.05" fill="#7a82c7"/>
<rect x="71.6" y="415.9" width="25.8" height="2.05" fill="#8c92cf"/>
<rect x="71.6" y="417.9" width="25.8" height="1.35" fill="#858bcb"/>
<rect x="71.6" y="419.2" width="25.8" height="2.05" fill="#9a9ed5"/>
<rect x="71.6" y="421.2" width="25.8" height="1.05" fill="#999ed5"/>
<rect x="71.6" y="422.2" width="25.8" height="1.65" fill="#848bcb"/>
<rect x="71.6" y="423.8" width="25.8" height="2.05" fill="#606abb"/>
<rect x="71.6" y="425.8" width="25.8" height="2.45" fill="#757dc5"/>
<rect x="71.6" y="428.2" width="25.8" height="1.05" fill="#8086c9"/>
<rect x="71.6" y="429.2" width="25.8" height="1.35" fill="#6770be"/>
<rect x="71.6" y="430.5" width="25.8" height="1.05" fill="#8188ca"/>
<rect x="71.6" y="431.5" width="25.8" height="1.05" fill="#7b83c7"/>
<rect x="71.6" y="432.5" width="25.8" height="1.65" fill="#5562b5"/>
<rect x="71.6" y="434.1" width="25.8" height="1.05" fill="#737bc4"/>
<rect x="71.6" y="435.1" width="25.8" height="2.05" fill="#9ca0d6"/>
<rect x="71.6" y="437.1" width="25.8" height="1.05" fill="#767ec5"/>
<rect x="71.6" y="438.1" width="25.8" height="2.05" fill="#878ecd"/>
<rect x="71.6" y="440.1" width="25.8" height="0.95" fill="#9ca0d6"/>
<rect x="71.6" y="441" width="25.8" height="1.35" fill="#4757ae"/>
<rect x="71.6" y="442.3" width="25.8" height="1.65" fill="#4d5cb1"/>
<rect x="71.6" y="443.9" width="25.8" height="3.05" fill="#5663b6"/>
<rect x="71.6" y="446.9" width="25.8" height="1.35" fill="#4354ab"/>
<rect x="71.6" y="448.2" width="25.8" height="1.05" fill="#4153ab"/>
<rect x="71.6" y="449.2" width="25.8" height="1.05" fill="#4152aa"/>
<rect x="71.6" y="450.2" width="25.8" height="1.05" fill="#5461b4"/>
<rect x="71.6" y="451.2" width="25.8" height="1.25" fill="#3d4fa7"/>
<rect x="97.35" y="219.8" width="25.8" height="3.05" fill="#606abb"/>
<rect x="97.35" y="222.8" width="25.8" height="3.05" fill="#858ccc"/>
<rect x="97.35" y="225.8" width="25.8" height="1.35" fill="#6c75c1"/>
<rect x="97.35" y="227.1" width="25.8" height="3.05" fill="#5b66b8"/>
<rect x="97.35" y="230.1" width="25.8" height="1.05" fill="#7079c2"/>
<rect x="97.35" y="231.1" width="25.8" height="0.95" fill="#6a73c0"/>
<rect x="97.35" y="232" width="25.8" height="3.05" fill="#f7eff4"/>
<rect x="97.35" y="235" width="25.8" height="1.35" fill="#f7eff5"/>
<rect x="97.35" y="236.3" width="25.8" height="2.45" fill="#f8f3f8"/>
<rect x="97.35" y="238.7" width="25.8" height="1.35" fill="#f3f0f8"/>
<rect x="97.35" y="240" width="25.8" height="1.05" fill="#eceaf5"/>
<rect x="97.35" y="241" width="25.8" height="1.65" fill="#5562b5"/>
<rect x="97.35" y="242.6" width="25.8" height="1.35" fill="#616cbc"/>
<rect x="97.35" y="243.9" width="25.8" height="2.45" fill="#4e5db1"/>
<rect x="97.35" y="246.3" width="25.8" height="3.05" fill="#5f69ba"/>
<rect x="97.35" y="249.3" width="25.8" height="3.05" fill="#5c67b9"/>
<rect x="97.35" y="252.3" width="25.8" height="2.45" fill="#666fbe"/>
<rect x="97.35" y="254.7" width="25.8" height="1.05" fill="#5461b5"/>
<rect x="97.35" y="255.7" width="25.8" height="1.65" fill="#6670be"/>
<rect x="97.35" y="257.3" width="25.8" height="0.25" fill="#6f78c2"/>
<rect x="97.35" y="257.5" width="25.8" height="2.45" fill="#394ca4"/>
<rect x="97.35" y="259.9" width="25.8" height="3.05" fill="#4052aa"/>
<rect x="97.35" y="262.9" width="25.8" height="1.65" fill="#4e5db2"/>
<rect x="97.35" y="264.5" width="25.8" height="2.45" fill="#3d4fa7"/>
<rect x="97.35" y="266.9" width="25.8" height="2.05" fill="#3a4da5"/>
<rect x="97.35" y="268.9" width="25.8" height="1.65" fill="#3f51a9"/>
<rect x="97.35" y="270.5" width="25.8" height="0.55" fill="#3e50a8"/>
<rect x="97.35" y="271" width="25.8" height="2.05" fill="#a0a3d8"/>
<rect x="97.35" y="273" width="25.8" height="2.45" fill="#9ea2d7"/>
<rect x="97.35" y="275.4" width="25.8" height="1.65" fill="#a8abdb"/>
<rect x="97.35" y="277" width="25.8" height="1.05" fill="#b0b3de"/>
<rect x="97.35" y="278" width="25.8" height="1.05" fill="#858ccc"/>
<rect x="97.35" y="279" width="25.8" height="1.65" fill="#5f6aba"/>
<rect x="97.35" y="280.6" width="25.8" height="2.45" fill="#a5a8da"/>
<rect x="97.35" y="283" width="25.8" height="1.05" fill="#9a9ed5"/>
<rect x="97.35" y="284" width="25.8" height="2.45" fill="#8e94d0"/>
<rect x="97.35" y="286.4" width="25.8" height="0.25" fill="#8e93d0"/>
<rect x="97.35" y="286.6" width="25.8" height="3.05" fill="#eae8f5"/>
<rect x="97.35" y="289.6" width="25.8" height="2.05" fill="#f4f1f9"/>
<rect x="97.35" y="291.6" width="25.8" height="1.35" fill="#f3cbd1"/>
<rect x="97.35" y="292.9" width="25.8" height="0.75" fill="#f8f2f7"/>
<rect x="97.35" y="293.6" width="25.8" height="1.65" fill="#9398d2"/>
<rect x="97.35" y="295.2" width="25.8" height="1.05" fill="#8c92cf"/>
<rect x="97.35" y="296.2" width="25.8" height="2.45" fill="#9ea2d7"/>
<rect x="97.35" y="298.6" width="25.8" height="1.35" fill="#a8abdb"/>
<rect x="97.35" y="299.9" width="25.8" height="2.45" fill="#bdbfe3"/>
<rect x="97.35" y="302.3" width="25.8" height="1.05" fill="#999dd5"/>
<rect x="97.35" y="303.3" width="25.8" height="2.05" fill="#959ad3"/>
<rect x="97.35" y="305.3" width="25.8" height="2.05" fill="#999dd4"/>
<rect x="97.35" y="307.3" width="25.8" height="3.05" fill="#c1c2e5"/>
<rect x="97.35" y="310.3" width="25.8" height="1.05" fill="#979bd4"/>
<rect x="97.35" y="311.3" width="25.8" height="0.75" fill="#c6c7e7"/>
<rect x="97.35" y="312" width="25.8" height="2.45" fill="#5764b6"/>
<rect x="97.35" y="314.4" width="25.8" height="2.05" fill="#5461b5"/>
<rect x="97.35" y="316.4" width="25.8" height="1.35" fill="#525fb3"/>
<rect x="97.35" y="317.7" width="25.8" height="2.45" fill="#5663b6"/>
<rect x="97.35" y="320.1" width="25.8" height="1.05" fill="#4959af"/>
<rect x="97.35" y="321.1" width="25.8" height="3.05" fill="#4052aa"/>
<rect x="97.35" y="324.1" width="25.8" height="3.05" fill="#4a59af"/>
<rect x="97.35" y="327.1" width="25.8" height="1.65" fill="#4556ad"/>
<rect x="97.35" y="328.7" width="25.8" height="3.05" fill="#4b5ab0"/>
<rect x="97.35" y="331.7" width="25.8" height="1.05" fill="#4b5ab0"/>
<rect x="97.35" y="332.7" width="25.8" height="2.35" fill="#5864b7"/>
<rect x="97.35" y="335" width="25.8" height="1.35" fill="#5865b7"/>
<rect x="97.35" y="336.3" width="25.8" height="2.05" fill="#5a66b8"/>
<rect x="97.35" y="338.3" width="25.8" height="1.65" fill="#6972bf"/>
<rect x="97.35" y="339.9" width="25.8" height="2.45" fill="#5f6abb"/>
<rect x="97.35" y="342.3" width="25.8" height="1.65" fill="#515fb3"/>
<rect x="97.35" y="343.9" width="25.8" height="2.05" fill="#626cbc"/>
<rect x="97.35" y="345.9" width="25.8" height="0.75" fill="#7a82c7"/>
<rect x="97.35" y="346.6" width="25.8" height="2.45" fill="#374ba3"/>
<rect x="97.35" y="349" width="25.8" height="2.05" fill="#4052aa"/>
<rect x="97.35" y="351" width="25.8" height="1.35" fill="#4556ad"/>
<rect x="97.35" y="352.3" width="25.8" height="3.05" fill="#4657ad"/>
<rect x="97.35" y="355.3" width="25.8" height="2.45" fill="#374aa2"/>
<rect x="97.35" y="357.7" width="25.8" height="0.35" fill="#3b4ea6"/>
<rect x="97.35" y="358" width="25.8" height="1.05" fill="#838acb"/>
<rect x="97.35" y="359" width="25.8" height="1.65" fill="#8188ca"/>
<rect x="97.35" y="360.6" width="25.8" height="1.35" fill="#636dbd"/>
<rect x="97.35" y="361.9" width="25.8" height="3.05" fill="#7880c6"/>
<rect x="97.35" y="364.9" width="25.8" height="2.05" fill="#6c75c0"/>
<rect x="97.35" y="366.9" width="25.8" height="1.05" fill="#5c67b9"/>
<rect x="97.35" y="367.9" width="25.8" height="3.05" fill="#858bcc"/>
<rect x="97.35" y="370.9" width="25.8" height="2.45" fill="#626cbc"/>
<rect x="97.35" y="373.3" width="25.8" height="2.35" fill="#6770be"/>
<rect x="97.35" y="375.6" width="25.8" height="1.35" fill="#f6e3e9"/>
<rect x="97.35" y="376.9" width="25.8" height="2.45" fill="#eeecf6"/>
<rect x="97.35" y="379.3" width="25.8" height="0.75" fill="#f3cad1"/>
<rect x="97.35" y="380" width="25.8" height="2.45" fill="#e4282d"/>
<rect x="97.35" y="382.4" width="25.8" height="2.05" fill="#e42024"/>
<rect x="97.35" y="384.4" width="25.8" height="1.05" fill="#e42227"/>
<rect x="97.35" y="385.4" width="25.8" height="1.65" fill="#e53b41"/>
<rect x="97.35" y="387" width="25.8" height="2.05" fill="#ea878e"/>
<rect x="97.35" y="389" width="25.8" height="3.05" fill="#e87278"/>
<rect x="97.35" y="392" width="25.8" height="2.45" fill="#ed9fa6"/>
<rect x="97.35" y="394.4" width="25.8" height="0.65" fill="#ea858b"/>
<rect x="97.35" y="395" width="25.8" height="1.65" fill="#e53439"/>
<rect x="97.35" y="396.6" width="25.8" height="2.45" fill="#e5363b"/>
<rect x="97.35" y="399" width="25.8" height="3.05" fill="#e54147"/>
<rect x="97.35" y="402" width="25.8" height="2.05" fill="#e53c42"/>
<rect x="97.35" y="404" width="25.8" height="2.05" fill="#e54c52"/>
<rect x="97.35" y="406" width="25.8" height="3.05" fill="#e43136"/>
<rect x="97.35" y="409" width="25.8" height="1.65" fill="#e54248"/>
<rect x="97.35" y="410.6" width="25.8" height="1.35" fill="#e53b41"/>
<rect x="97.35" y="411.9" width="25.8" height="2.45" fill="#e53b41"/>
<rect x="97.35" y="414.3" width="25.8" height="1.35" fill="#e54147"/>
<rect x="97.35" y="415.6" width="25.8" height="1.65" fill="#e54046"/>
<rect x="97.35" y="417.2" width="25.8" height="1.65" fill="#e42b2f"/>
<rect x="97.35" y="418.8" width="25.8" height="1.35" fill="#e5393e"/>
<rect x="97.35" y="420.1" width="25.8" height="1.65" fill="#e5393e"/>
<rect x="97.35" y="421.7" width="25.8" height="2.05" fill="#e42f34"/>
<rect x="97.35" y="423.7" width="25.8" height="1.35" fill="#e6565c"/>
<rect x="97.35" y="425" width="25.8" height="2.05" fill="#e42a2f"/>
<rect x="97.35" y="427" width="25.8" height="3.05" fill="#e54e54"/>
<rect x="97.35" y="430" width="25.8" height="3.05" fill="#e53e44"/>
<rect x="97.35" y="433" width="25.8" height="1.05" fill="#e42d31"/>
<rect x="97.35" y="434" width="25.8" height="1.65" fill="#e54147"/>
<rect x="97.35" y="435.6" width="25.8" height="3.05" fill="#e5454b"/>
<rect x="97.35" y="438.6" width="25.8" height="2.05" fill="#e5464c"/>
<rect x="97.35" y="440.6" width="25.8" height="0.45" fill="#e42b2f"/>
<rect x="97.35" y="441" width="25.8" height="2.05" fill="#e42d32"/>
<rect x="97.35" y="443" width="25.8" height="1.05" fill="#e5383e"/>
<rect x="97.35" y="444" width="25.8" height="1.05" fill="#e42024"/>
<rect x="97.35" y="445" width="25.8" height="2.05" fill="#e8777d"/>
<rect x="97.35" y="447" width="25.8" height="1.05" fill="#e8757b"/>
<rect x="97.35" y="448" width="25.8" height="3.05" fill="#ec9298"/>
<rect x="97.35" y="451" width="25.8" height="1.45" fill="#eea5ac"/>
<rect x="123.1" y="219.8" width="25.8" height="1.05" fill="#7980c6"/>
<rect x="123.1" y="220.8" width="25.8" height="1.35" fill="#5663b6"/>
<rect x="123.1" y="222.1" width="25.8" height="2.05" fill="#5a66b8"/>
<rect x="123.1" y="224.1" width="25.8" height="1.05" fill="#7e85c8"/>
<rect x="123.1" y="225.1" width="25.8" height="1.35" fill="#6b74c0"/>
<rect x="123.1" y="226.4" width="25.8" height="1.05" fill="#6972bf"/>
<rect x="123.1" y="227.4" width="25.8" height="3.05" fill="#626cbc"/>
<rect x="123.1" y="230.4" width="25.8" height="0.65" fill="#5865b7"/>
<rect x="123.1" y="231" width="25.8" height="1.35" fill="#3649a1"/>
<rect x="123.1" y="232.3" width="25.8" height="1.65" fill="#374ba3"/>
<rect x="123.1" y="233.9" width="25.8" height="2.45" fill="#3a4da5"/>
<rect x="123.1" y="236.3" width="25.8" height="1.05" fill="#3b4ea6"/>
<rect x="123.1" y="237.3" width="25.8" height="2.05" fill="#364aa2"/>
<rect x="123.1" y="239.3" width="25.8" height="1.35" fill="#3a4da5"/>
<rect x="123.1" y="240.6" width="25.8" height="0.45" fill="#3a4da5"/>
<rect x="123.1" y="241" width="25.8" height="1.05" fill="#f8f4f9"/>
<rect x="123.1" y="242" width="25.8" height="1.35" fill="#f8f5fa"/>
<rect x="123.1" y="243.3" width="25.8" height="0.25" fill="#f6e0e6"/>
<rect x="123.1" y="243.5" width="25.8" height="1.65" fill="#6b74c0"/>
<rect x="123.1" y="245.1" width="25.8" height="1.05" fill="#6b74c0"/>
<rect x="123.1" y="246.1" width="25.8" height="1.05" fill="#7981c6"/>
<rect x="123.1" y="247.1" width="25.8" height="2.45" fill="#6770be"/>
<rect x="123.1" y="249.5" width="25.8" height="2.05" fill="#606bbb"/>
<rect x="123.1" y="251.5" width="25.8" height="1.35" fill="#5f6aba"/>
<rect x="123.1" y="252.8" width="25.8" height="1.35" fill="#858bcc"/>
<rect x="123.1" y="254.1" width="25.8" height="2.45" fill="#737bc4"/>
<rect x="123.1" y="256.5" width="25.8" height="1.05" fill="#9398d2"/>
<rect x="123.1" y="257.5" width="25.8" height="1.35" fill="#505eb2"/>
<rect x="123.1" y="258.8" width="25.8" height="2.45" fill="#4a5aaf"/>
<rect x="123.1" y="261.2" width="25.8" height="1.05" fill="#4f5db2"/>
<rect x="123.1" y="262.2" width="25.8" height="1.05" fill="#5865b7"/>
<rect x="123.1" y="263.2" width="25.8" height="1.05" fill="#5965b7"/>
<rect x="123.1" y="264.2" width="25.8" height="1.05" fill="#4153aa"/>
<rect x="123.1" y="265.2" width="25.8" height="2.05" fill="#505eb2"/>
<rect x="123.1" y="267.2" width="25.8" height="3.05" fill="#5361b4"/>
<rect x="123.1" y="270.2" width="25.8" height="1.35" fill="#4355ac"/>
<rect x="123.1" y="271.5" width="25.8" height="3.05" fill="#4b5bb0"/>
<rect x="123.1" y="274.5" width="25.8" height="3.05" fill="#4f5db2"/>
<rect x="123.1" y="277.5" width="25.8" height="1.05" fill="#5b67b8"/>
<rect x="123.1" y="278.5" width="25.8" height="2.05" fill="#384ba3"/>
<rect x="123.1" y="280.5" width="25.8" height="2.45" fill="#3a4da5"/>
<rect x="123.1" y="282.9" width="25.8" height="1.05" fill="#394da5"/>
<rect x="123.1" y="283.9" width="25.8" height="2.45" fill="#3e50a8"/>
<rect x="123.1" y="286.3" width="25.8" height="1.05" fill="#3b4ea6"/>
<rect x="123.1" y="287.3" width="25.8" height="1.35" fill="#3f51a9"/>
<rect x="123.1" y="288.6" width="25.8" height="1.05" fill="#364aa2"/>
<rect x="123.1" y="289.6" width="25.8" height="1.05" fill="#3f51a9"/>
<rect x="123.1" y="290.6" width="25.8" height="1.05" fill="#4052aa"/>
<rect x="123.1" y="291.6" width="25.8" height="2.45" fill="#3d4fa7"/>
<rect x="123.1" y="294" width="25.8" height="1.35" fill="#3c4fa7"/>
<rect x="123.1" y="295.3" width="25.8" height="3.05" fill="#4757ad"/>
<rect x="123.1" y="298.3" width="25.8" height="2.05" fill="#4052aa"/>
<rect x="123.1" y="300.3" width="25.8" height="3.05" fill="#4a5aaf"/>
<rect x="123.1" y="303.3" width="25.8" height="2.05" fill="#3448a0"/>
<rect x="123.1" y="305.3" width="25.8" height="1.65" fill="#3b4ea6"/>
<rect x="123.1" y="306.9" width="25.8" height="1.35" fill="#3d4fa7"/>
<rect x="123.1" y="308.2" width="25.8" height="1.35" fill="#4656ad"/>
<rect x="123.1" y="309.5" width="25.8" height="2.45" fill="#384ba3"/>
<rect x="123.1" y="311.9" width="25.8" height="0.15" fill="#4052aa"/>
<rect x="123.1" y="312" width="25.8" height="1.05" fill="#cfcfea"/>
<rect x="123.1" y="313" width="25.8" height="2.05" fill="#b4b6e0"/>
<rect x="123.1" y="315" width="25.8" height="0.65" fill="#c5c6e7"/>
<rect x="123.1" y="315.6" width="25.8" height="1.35" fill="#4b5bb0"/>
<rect x="123.1" y="316.9" width="25.8" height="1.05" fill="#5d68b9"/>
<rect x="123.1" y="317.9" width="25.8" height="1.05" fill="#616bbb"/>
<rect x="123.1" y="318.9" width="25.8" height="1.05" fill="#5562b5"/>
<rect x="123.1" y="319.9" width="25.8" height="2.05" fill="#5c67b9"/>
<rect x="123.1" y="321.9" width="25.8" height="1.05" fill="#5f6aba"/>
<rect x="123.1" y="322.9" width="25.8" height="2.05" fill="#757dc5"/>
<rect x="123.1" y="324.9" width="25.8" height="2.05" fill="#616bbc"/>
<rect x="123.1" y="326.9" width="25.8" height="2.45" fill="#5d68ba"/>
<rect x="123.1" y="329.3" width="25.8" height="1.65" fill="#4d5cb1"/>
<rect x="123.1" y="330.9" width="25.8" height="1.05" fill="#606abb"/>
<rect x="123.1" y="331.9" width="25.8" height="1.65" fill="#5864b7"/>
<rect x="123.1" y="333.5" width="25.8" height="1.05" fill="#5f6aba"/>
<rect x="123.1" y="334.5" width="25.8" height="0.55" fill="#4556ad"/>
<rect x="123.1" y="335" width="25.8" height="1.05" fill="#5f6aba"/>
<rect x="123.1" y="336" width="25.8" height="1.05" fill="#636dbc"/>
<rect x="123.1" y="337" width="25.8" height="1.65" fill="#4f5db2"/>
<rect x="123.1" y="338.6" width="25.8" height="1.05" fill="#767ec5"/>
<rect x="123.1" y="339.6" width="25.8" height="3.05" fill="#5e69ba"/>
<rect x="123.1" y="342.6" width="25.8" height="1.05" fill="#616bbb"/>
<rect x="123.1" y="343.6" width="25.8" height="1.65" fill="#5b66b8"/>
<rect x="123.1" y="345.2" width="25.8" height="1.45" fill="#5864b7"/>
<rect x="123.1" y="346.6" width="25.8" height="1.05" fill="#a9acdc"/>
<rect x="123.1" y="347.6" width="25.8" height="1.35" fill="#9fa2d7"/>
<rect x="123.1" y="348.9" width="25.8" height="2.45" fill="#848bcb"/>
<rect x="123.1" y="351.3" width="25.8" height="3.05" fill="#999dd5"/>
<rect x="123.1" y="354.3" width="25.8" height="1.05" fill="#9398d2"/>
<rect x="123.1" y="355.3" width="25.8" height="1.65" fill="#bebfe4"/>
<rect x="123.1" y="356.9" width="25.8" height="2.05" fill="#848acb"/>
<rect x="123.1" y="358.9" width="25.8" height="2.45" fill="#9fa3d7"/>
<rect x="123.1" y="361.3" width="25.8" height="3.05" fill="#9ea1d7"/>
<rect x="123.1" y="364.3" width="25.8" height="3.05" fill="#8b91ce"/>
<rect x="123.1" y="367.3" width="25.8" height="1.35" fill="#a3a6d9"/>
<rect x="123.1" y="368.6" width="25.8" height="1.05" fill="#a8abdb"/>
<rect x="123.1" y="369.6" width="25.8" height="2.45" fill="#8b90ce"/>
<rect x="123.1" y="372" width="25.8" height="2.05" fill="#b5b7e0"/>
<rect x="123.1" y="374" width="25.8" height="1.65" fill="#737bc4"/>
<rect x="123.1" y="375.6" width="25.8" height="1.35" fill="#e87278"/>
<rect x="123.1" y="376.9" width="25.8" height="1.35" fill="#e75f65"/>
<rect x="123.1" y="378.2" width="25.8" height="2.45" fill="#e7686e"/>
<rect x="123.1" y="380.6" width="25.8" height="0.85" fill="#e8747a"/>
<rect x="123.1" y="381.4" width="25.8" height="1.35" fill="#e9e7f4"/>
<rect x="123.1" y="382.7" width="25.8" height="1.35" fill="#c2c3e5"/>
<rect x="123.1" y="384" width="25.8" height="1.65" fill="#9ca0d6"/>
<rect x="123.1" y="385.6" width="25.8" height="1.35" fill="#cfcfea"/>
<rect x="123.1" y="386.9" width="25.8" height="1.55" fill="#edebf6"/>
<rect x="123.1" y="388.4" width="25.8" height="3.05" fill="#f0afb6"/>
<rect x="123.1" y="391.4" width="25.8" height="1.05" fill="#efadb4"/>
<rect x="123.1" y="392.4" width="25.8" height="2.45" fill="#ed9aa1"/>
<rect x="123.1" y="394.8" width="25.8" height="0.25" fill="#f0afb6"/>
<rect x="123.1" y="395" width="25.8" height="3.05" fill="#e97f85"/>
<rect x="123.1" y="398" width="25.8" height="2.45" fill="#e75f65"/>
<rect x="123.1" y="400.4" width="25.8" height="1.05" fill="#e87278"/>
<rect x="123.1" y="401.4" width="25.8" height="2.45" fill="#e87076"/>
<rect x="123.1" y="403.8" width="25.8" height="0.25" fill="#e76b71"/>
<rect x="123.1" y="404" width="25.8" height="1.35" fill="#ed9da3"/>
<rect x="123.1" y="405.3" width="25.8" height="3.05" fill="#f1bbc1"/>
<rect x="123.1" y="408.3" width="25.8" height="1.35" fill="#f2c3c9"/>
<rect x="123.1" y="409.6" width="25.8" height="2.45" fill="#ed9ca3"/>
<rect x="123.1" y="412" width="25.8" height="2.45" fill="#ea878d"/>
<rect x="123.1" y="414.4" width="25.8" height="3.05" fill="#f0b6bd"/>
<rect x="123.1" y="417.4" width="25.8" height="1.65" fill="#ea868d"/>
<rect x="123.1" y="419" width="25.8" height="2.05" fill="#efacb3"/>
<rect x="123.1" y="421" width="25.8" height="3.05" fill="#f0b5bc"/>
<rect x="123.1" y="424" width="25.8" height="1.05" fill="#f1bbc1"/>
<rect x="123.1" y="425" width="25.8" height="2.45" fill="#f2bfc6"/>
<rect x="123.1" y="427.4" width="25.8" height="3.05" fill="#f2c2c8"/>
<rect x="123.1" y="430.4" width="25.8" height="2.05" fill="#f1b8be"/>
<rect x="123.1" y="432.4" width="25.8" height="1.65" fill="#f0b0b7"/>
<rect x="123.1" y="434" width="25.8" height="3.05" fill="#f1bac0"/>
<rect x="123.1" y="437" width="25.8" height="1.35" fill="#eae8f5"/>
<rect x="123.1" y="438.3" width="25.8" height="1.65" fill="#f1bac1"/>
<rect x="123.1" y="439.9" width="25.8" height="3.05" fill="#f7f4fa"/>
<rect x="123.1" y="442.9" width="25.8" height="1.35" fill="#f6e2e8"/>
<rect x="123.1" y="444.2" width="25.8" height="0.85" fill="#f4d7dd"/>
<rect x="123.1" y="445" width="25.8" height="1.05" fill="#e76369"/>
<rect x="123.1" y="446" width="25.8" height="2.45" fill="#eb8990"/>
<rect x="123.1" y="448.4" width="25.8" height="2.45" fill="#e7666c"/>
<rect x="123.1" y="450.8" width="25.8" height="1.05" fill="#e65e64"/>
<rect x="123.1" y="451.8" width="25.8" height="0.65" fill="#e97b81"/>
<rect x="148.85" y="219.8" width="25.8" height="2.45" fill="#515fb3"/>
<rect x="148.85" y="222.2" width="25.8" height="1.05" fill="#717ac3"/>
<rect x="148.85" y="223.2" width="25.8" height="1.65" fill="#4e5db1"/>
<rect x="148.85" y="224.8" width="25.8" height="1.65" fill="#5965b7"/>
<rect x="148.85" y="226.4" width="25.8" height="1.35" fill="#5f6aba"/>
<rect x="148.85" y="227.7" width="25.8" height="1.35" fill="#5663b6"/>
<rect x="148.85" y="229" width="25.8" height="1.05" fill="#5663b6"/>
<rect x="148.85" y="230" width="25.8" height="1.35" fill="#5361b4"/>
<rect x="148.85" y="231.3" width="25.8" height="0.75" fill="#4d5cb1"/>
<rect x="148.85" y="232" width="25.8" height="2.05" fill="#5562b5"/>
<rect x="148.85" y="234" width="25.8" height="3.05" fill="#6b74c0"/>
<rect x="148.85" y="237" width="25.8" height="2.45" fill="#9da1d6"/>
<rect x="148.85" y="239.4" width="25.8" height="1.65" fill="#868ccc"/>
<rect x="148.85" y="241" width="25.8" height="2.45" fill="#5d68ba"/>
<rect x="148.85" y="243.4" width="25.8" height="1.65" fill="#737bc3"/>
<rect x="148.85" y="245" width="25.8" height="2.45" fill="#6972bf"/>
<rect x="148.85" y="247.4" width="25.8" height="1.05" fill="#5864b7"/>
<rect x="148.85" y="248.4" width="25.8" height="3.05" fill="#7b83c7"/>
<rect x="148.85" y="251.4" width="25.8" height="1.35" fill="#989dd4"/>
<rect x="148.85" y="252.7" width="25.8" height="3.05" fill="#5e69ba"/>
<rect x="148.85" y="255.7" width="25.8" height="1.85" fill="#8a90ce"/>
<rect x="148.85" y="257.5" width="25.8" height="2.45" fill="#b8bae1"/>
<rect x="148.85" y="259.9" width="25.8" height="3.05" fill="#a6a8da"/>
<rect x="148.85" y="262.9" width="25.8" height="2.45" fill="#a5a8da"/>
<rect x="148.85" y="265.3" width="25.8" height="2.05" fill="#9499d2"/>
<rect x="148.85" y="267.3" width="25.8" height="2.45" fill="#a4a7da"/>
<rect x="148.85" y="269.7" width="25.8" height="1.35" fill="#e1dff1"/>
<rect x="148.85" y="271" width="25.8" height="1.65" fill="#364aa2"/>
<rect x="148.85" y="272.6" width="25.8" height="1.65" fill="#384ba3"/>
<rect x="148.85" y="274.2" width="25.8" height="1.05" fill="#3448a0"/>
<rect x="148.85" y="275.2" width="25.8" height="2.45" fill="#3448a0"/>
<rect x="148.85" y="277.6" width="25.8" height="1.65" fill="#3a4da5"/>
<rect x="148.85" y="279.2" width="25.8" height="2.45" fill="#394ca4"/>
<rect x="148.85" y="281.6" width="25.8" height="0.45" fill="#3448a0"/>
<rect x="148.85" y="282" width="25.8" height="1.05" fill="#4959af"/>
<rect x="148.85" y="283" width="25.8" height="3.05" fill="#4959af"/>
<rect x="148.85" y="286" width="25.8" height="2.05" fill="#4153aa"/>
<rect x="148.85" y="288" width="25.8" height="1.35" fill="#5260b3"/>
<rect x="148.85" y="289.3" width="25.8" height="3.05" fill="#5d68b9"/>
<rect x="148.85" y="292.3" width="25.8" height="1.05" fill="#515fb3"/>
<rect x="148.85" y="293.3" width="25.8" height="1.65" fill="#4656ad"/>
<rect x="148.85" y="294.9" width="25.8" height="3.05" fill="#4a5aaf"/>
<rect x="148.85" y="297.9" width="25.8" height="1.35" fill="#4858ae"/>
<rect x="148.85" y="299.2" width="25.8" height="1.65" fill="#4656ad"/>
<rect x="148.85" y="300.8" width="25.8" height="1.05" fill="#515fb3"/>
<rect x="148.85" y="301.8" width="25.8" height="1.05" fill="#4a5aaf"/>
<rect x="148.85" y="302.8" width="25.8" height="2.05" fill="#515fb3"/>
<rect x="148.85" y="304.8" width="25.8" height="2.45" fill="#4354ac"/>
<rect x="148.85" y="307.2" width="25.8" height="1.65" fill="#5c68b9"/>
<rect x="148.85" y="308.8" width="25.8" height="1.65" fill="#5763b6"/>
<rect x="148.85" y="310.4" width="25.8" height="1.35" fill="#4e5db1"/>
<rect x="148.85" y="311.7" width="25.8" height="1.65" fill="#5360b4"/>
<rect x="148.85" y="313.3" width="25.8" height="1.35" fill="#4354ac"/>
<rect x="148.85" y="314.6" width="25.8" height="1.35" fill="#394ca4"/>
<rect x="148.85" y="315.9" width="25.8" height="1.15" fill="#525fb3"/>
<rect x="148.85" y="317" width="25.8" height="1.05" fill="#5b66b8"/>
<rect x="148.85" y="318" width="25.8" height="2.05" fill="#7a82c7"/>
<rect x="148.85" y="320" width="25.8" height="2.45" fill="#4d5cb1"/>
<rect x="148.85" y="322.4" width="25.8" height="2.45" fill="#7c83c8"/>
<rect x="148.85" y="324.8" width="25.8" height="2.45" fill="#5764b6"/>
<rect x="148.85" y="327.2" width="25.8" height="1.35" fill="#6d76c1"/>
<rect x="148.85" y="328.5" width="25.8" height="1.35" fill="#616bbb"/>
<rect x="148.85" y="329.8" width="25.8" height="2.45" fill="#5d68b9"/>
<rect x="148.85" y="332.2" width="25.8" height="2.05" fill="#5461b5"/>
<rect x="148.85" y="334.2" width="25.8" height="0.85" fill="#626cbc"/>
<rect x="148.85" y="335" width="25.8" height="1.65" fill="#4c5bb0"/>
<rect x="148.85" y="336.6" width="25.8" height="1.65" fill="#5764b6"/>
<rect x="148.85" y="338.2" width="25.8" height="3.05" fill="#606bbb"/>
<rect x="148.85" y="341.2" width="25.8" height="2.05" fill="#515fb3"/>
<rect x="148.85" y="343.2" width="25.8" height="1.35" fill="#747cc4"/>
<rect x="148.85" y="344.5" width="25.8" height="1.35" fill="#5b67b8"/>
<rect x="148.85" y="345.8" width="25.8" height="1.65" fill="#606abb"/>
<rect x="148.85" y="347.4" width="25.8" height="1.05" fill="#5f69ba"/>
<rect x="148.85" y="348.4" width="25.8" height="1.05" fill="#4858ae"/>
<rect x="148.85" y="349.4" width="25.8" height="3.05" fill="#5f6abb"/>
<rect x="148.85" y="352.4" width="25.8" height="3.05" fill="#5c67b9"/>
<rect x="148.85" y="355.4" width="25.8" height="1.05" fill="#5864b6"/>
<rect x="148.85" y="356.4" width="25.8" height="3.05" fill="#5361b4"/>
<rect x="148.85" y="359.4" width="25.8" height="1.15" fill="#4d5cb1"/>
<rect x="148.85" y="360.5" width="25.8" height="1.35" fill="#5965b7"/>
<rect x="148.85" y="361.8" width="25.8" height="2.05" fill="#646dbd"/>
<rect x="148.85" y="363.8" width="25.8" height="1.35" fill="#5562b5"/>
<rect x="148.85" y="365.1" width="25.8" height="1.65" fill="#646ebd"/>
<rect x="148.85" y="366.7" width="25.8" height="1.35" fill="#4d5cb1"/>
<rect x="148.85" y="368" width="25.8" height="2.45" fill="#5562b5"/>
<rect x="148.85" y="370.4" width="25.8" height="1.65" fill="#6770be"/>
<rect x="148.85" y="372" width="25.8" height="1.35" fill="#4a5ab0"/>
<rect x="148.85" y="373.3" width="25.8" height="1.05" fill="#5e69ba"/>
<rect x="148.85" y="374.3" width="25.8" height="1.35" fill="#4959af"/>
<rect x="148.85" y="375.6" width="25.8" height="3.05" fill="#e76d73"/>
<rect x="148.85" y="378.6" width="25.8" height="2.85" fill="#e76d73"/>
<rect x="148.85" y="381.4" width="25.8" height="2.05" fill="#f6e1e7"/>
<rect x="148.85" y="383.4" width="25.8" height="1.05" fill="#eea6ad"/>
<rect x="148.85" y="384.4" width="25.8" height="2.45" fill="#f5dae0"/>
<rect x="148.85" y="386.8" width="25.8" height="0.25" fill="#f6e5ea"/>
<rect x="148.85" y="387" width="25.8" height="3.05" fill="#e87278"/>
<rect x="148.85" y="390" width="25.8" height="2.05" fill="#e76066"/>
<rect x="148.85" y="392" width="25.8" height="1.05" fill="#e8747a"/>
<rect x="148.85" y="393" width="25.8" height="1.05" fill="#d3d3ec"/>
<rect x="148.85" y="394" width="25.8" height="1.05" fill="#bdbee3"/>
<rect x="148.85" y="395" width="25.8" height="1.05" fill="#e3e1f2"/>
<rect x="148.85" y="396" width="25.8" height="2.05" fill="#babce2"/>
<rect x="148.85" y="398" width="25.8" height="3.05" fill="#e87379"/>
<rect x="148.85" y="401" width="25.8" height="2.05" fill="#e8757b"/>
<rect x="148.85" y="403" width="25.8" height="2.05" fill="#ea848a"/>
<rect x="148.85" y="405" width="25.8" height="2.45" fill="#e8777d"/>
<rect x="148.85" y="407.4" width="25.8" height="1.65" fill="#e97f85"/>
<rect x="148.85" y="409" width="25.8" height="1.35" fill="#ea878d"/>
<rect x="148.85" y="410.3" width="25.8" height="3.05" fill="#f0b0b7"/>
<rect x="148.85" y="413.3" width="25.8" height="2.45" fill="#f2c0c6"/>
<rect x="148.85" y="415.7" width="25.8" height="1.65" fill="#ee9fa6"/>
<rect x="148.85" y="417.3" width="25.8" height="1.65" fill="#efabb2"/>
<rect x="148.85" y="418.9" width="25.8" height="1.65" fill="#eb8a90"/>
<rect x="148.85" y="420.5" width="25.8" height="2.05" fill="#ec979e"/>
<rect x="148.85" y="422.5" width="25.8" height="1.65" fill="#ea888e"/>
<rect x="148.85" y="424.1" width="25.8" height="2.05" fill="#ed9aa1"/>
<rect x="148.85" y="426.1" width="25.8" height="1.45" fill="#f2bfc6"/>
<rect x="148.85" y="427.5" width="25.8" height="1.05" fill="#f4d3d9"/>
<rect x="148.85" y="428.5" width="25.8" height="2.45" fill="#f2c5cc"/>
<rect x="148.85" y="430.9" width="25.8" height="3.05" fill="#f3ccd2"/>
<rect x="148.85" y="433.9" width="25.8" height="2.05" fill="#f7ebf0"/>
<rect x="148.85" y="435.9" width="25.8" height="1.65" fill="#f0b1b8"/>
<rect x="148.85" y="437.5" width="25.8" height="3.05" fill="#f5dee4"/>
<rect x="148.85" y="440.5" width="25.8" height="2.45" fill="#f2c5cc"/>
<rect x="148.85" y="442.9" width="25.8" height="1.65" fill="#f0b0b7"/>
<rect x="148.85" y="444.5" width="25.8" height="0.55" fill="#f7eaef"/>
<rect x="148.85" y="445" width="25.8" height="2.05" fill="#ea868c"/>
<rect x="148.85" y="447" width="25.8" height="2.05" fill="#ed989f"/>
<rect x="148.85" y="449" width="25.8" height="2.05" fill="#e8797f"/>
<rect x="148.85" y="451" width="25.8" height="1.45" fill="#e8777d"/>
<rect x="230.8" y="219" width="24.15" height="2.05" fill="#7d84c8"/>
<rect x="230.8" y="221" width="24.15" height="2.05" fill="#5865b7"/>
<rect x="230.8" y="223" width="24.15" height="0.85" fill="#5562b5"/>
<rect x="230.8" y="223.8" width="24.15" height="2.05" fill="#7f86c9"/>
<rect x="230.8" y="225.8" width="24.15" height="3.55" fill="#9095d0"/>
<rect x="230.8" y="229.3" width="24.15" height="3.55" fill="#7980c6"/>
<rect x="230.8" y="232.8" width="24.15" height="0.85" fill="#8a90ce"/>
<rect x="230.8" y="233.6" width="24.15" height="2.05" fill="#f7f0f5"/>
<rect x="230.8" y="235.6" width="24.15" height="2.95" fill="#f1eff7"/>
<rect x="230.8" y="238.5" width="24.15" height="0.55" fill="#e0dff1"/>
<rect x="230.8" y="239" width="24.15" height="3.55" fill="#898fcd"/>
<rect x="230.8" y="242.5" width="24.15" height="1.05" fill="#b4b6e0"/>
<rect x="230.8" y="243.5" width="24.15" height="2.95" fill="#4455ac"/>
<rect x="230.8" y="246.4" width="24.15" height="2.95" fill="#4354ab"/>
<rect x="230.8" y="249.3" width="24.15" height="2.95" fill="#4153aa"/>
<rect x="230.8" y="252.2" width="24.15" height="2.95" fill="#4758ae"/>
<rect x="230.8" y="255.1" width="24.15" height="3.55" fill="#3a4da5"/>
<rect x="230.8" y="258.6" width="24.15" height="4.45" fill="#4959af"/>
<rect x="230.8" y="263" width="24.15" height="2.95" fill="#3d50a8"/>
<rect x="230.8" y="265.9" width="24.15" height="1.65" fill="#4254ab"/>
<rect x="230.8" y="267.5" width="24.15" height="2.05" fill="#717ac3"/>
<rect x="230.8" y="269.5" width="24.15" height="2.95" fill="#767ec5"/>
<rect x="230.8" y="272.4" width="24.15" height="2.05" fill="#5462b5"/>
<rect x="230.8" y="274.4" width="24.15" height="2.95" fill="#5a66b8"/>
<rect x="230.8" y="277.3" width="24.15" height="3.55" fill="#4253ab"/>
<rect x="230.8" y="280.8" width="24.15" height="2.95" fill="#7078c2"/>
<rect x="230.8" y="283.7" width="24.15" height="1.35" fill="#6972bf"/>
<rect x="230.8" y="285" width="24.15" height="2.95" fill="#848acb"/>
<rect x="230.8" y="287.9" width="24.15" height="2.95" fill="#7880c6"/>
<rect x="230.8" y="290.8" width="24.15" height="1.75" fill="#848acb"/>
<rect x="230.8" y="292.5" width="24.15" height="4.45" fill="#a5a8da"/>
<rect x="230.8" y="296.9" width="24.15" height="2.05" fill="#ceceea"/>
<rect x="230.8" y="298.9" width="24.15" height="1.15" fill="#a1a5d8"/>
<rect x="230.8" y="300" width="24.15" height="2.05" fill="#9499d3"/>
<rect x="230.8" y="302" width="24.15" height="2.05" fill="#aaacdc"/>
<rect x="230.8" y="304" width="24.15" height="2.95" fill="#9398d2"/>
<rect x="230.8" y="306.9" width="24.15" height="2.95" fill="#9a9ed5"/>
<rect x="230.8" y="309.8" width="24.15" height="2.95" fill="#969ad3"/>
<rect x="230.8" y="312.7" width="24.15" height="0.35" fill="#959ad3"/>
<rect x="230.8" y="313" width="24.15" height="4.45" fill="#f6e6ec"/>
<rect x="230.8" y="317.4" width="24.15" height="0.35" fill="#f5dee4"/>
<rect x="230.8" y="317.7" width="24.15" height="3.55" fill="#767ec5"/>
<rect x="230.8" y="321.2" width="24.15" height="2.95" fill="#737cc4"/>
<rect x="230.8" y="324.1" width="24.15" height="2.05" fill="#8d93cf"/>
<rect x="230.8" y="326.1" width="24.15" height="2.95" fill="#747cc4"/>
<rect x="230.8" y="329" width="24.15" height="2.05" fill="#898fcd"/>
<rect x="230.8" y="331" width="24.15" height="2.95" fill="#848acb"/>
<rect x="230.8" y="333.9" width="24.15" height="2.05" fill="#5c67b9"/>
<rect x="230.8" y="335.9" width="24.15" height="2.05" fill="#959ad3"/>
<rect x="230.8" y="337.9" width="24.15" height="2.95" fill="#656ebd"/>
<rect x="230.8" y="340.8" width="24.15" height="3.05" fill="#8f94d0"/>
<rect x="230.8" y="343.8" width="24.15" height="2.95" fill="#e6e4f3"/>
<rect x="230.8" y="346.7" width="24.15" height="0.35" fill="#f4d1d7"/>
<rect x="230.8" y="347" width="24.15" height="3.55" fill="#a8abdb"/>
<rect x="230.8" y="350.5" width="24.15" height="2.95" fill="#b8bae1"/>
<rect x="230.8" y="353.4" width="24.15" height="3.55" fill="#a9abdb"/>
<rect x="230.8" y="356.9" width="24.15" height="4.45" fill="#8d92cf"/>
<rect x="230.8" y="361.3" width="24.15" height="2.95" fill="#3d50a8"/>
<rect x="230.8" y="364.2" width="24.15" height="2.05" fill="#4254ab"/>
<rect x="230.8" y="366.2" width="24.15" height="0.55" fill="#4052aa"/>
<rect x="230.8" y="366.7" width="24.15" height="2.05" fill="#7f86c9"/>
<rect x="230.8" y="368.7" width="24.15" height="2.05" fill="#5b67b8"/>
<rect x="230.8" y="370.7" width="24.15" height="2.95" fill="#5965b7"/>
<rect x="230.8" y="373.6" width="24.15" height="3.55" fill="#6b74c0"/>
<rect x="230.8" y="377.1" width="24.15" height="1.75" fill="#7980c6"/>
<rect x="230.8" y="378.8" width="24.15" height="2.95" fill="#dad9ee"/>
<rect x="230.8" y="381.7" width="24.15" height="2.65" fill="#e4e2f2"/>
<rect x="230.8" y="384.3" width="24.15" height="2.95" fill="#5c68b9"/>
<rect x="230.8" y="387.2" width="24.15" height="3.55" fill="#8e93d0"/>
<rect x="230.8" y="390.7" width="24.15" height="1.35" fill="#7c83c8"/>
<rect x="230.8" y="392" width="24.15" height="2.95" fill="#e65d63"/>
<rect x="230.8" y="394.9" width="24.15" height="4.45" fill="#e54a50"/>
<rect x="230.8" y="399.3" width="24.15" height="0.15" fill="#e53439"/>
<rect x="230.8" y="399.4" width="24.15" height="4.45" fill="#f0b3ba"/>
<rect x="230.8" y="403.8" width="24.15" height="3.55" fill="#eea4ab"/>
<rect x="230.8" y="407.3" width="24.15" height="0.75" fill="#f3c7ce"/>
<rect x="230.8" y="408" width="24.15" height="2.05" fill="#f8f4f9"/>
<rect x="230.8" y="410" width="24.15" height="2.05" fill="#f7eaf0"/>
<rect x="230.8" y="412" width="24.15" height="2.75" fill="#f7eff4"/>
<rect x="230.8" y="414.7" width="24.15" height="2.05" fill="#f1b7be"/>
<rect x="230.8" y="416.7" width="24.15" height="2.95" fill="#f0b4bb"/>
<rect x="230.8" y="419.6" width="24.15" height="2.05" fill="#f0afb6"/>
<rect x="230.8" y="421.6" width="24.15" height="0.85" fill="#f1b9bf"/>
<rect x="230.8" y="422.4" width="24.15" height="2.05" fill="#d0d0eb"/>
<rect x="230.8" y="424.4" width="24.15" height="1.25" fill="#9b9fd5"/>
<rect x="230.8" y="425.6" width="24.15" height="4.45" fill="#f2c0c6"/>
<rect x="230.8" y="430" width="24.15" height="3.55" fill="#f6e6ec"/>
<rect x="230.8" y="433.5" width="24.15" height="0.95" fill="#f5dde3"/>
<rect x="230.8" y="434.4" width="24.15" height="3.55" fill="#ea858b"/>
<rect x="230.8" y="437.9" width="24.15" height="2.95" fill="#eb8c92"/>
<rect x="230.8" y="440.8" width="24.15" height="2.95" fill="#ed9ea4"/>
<rect x="230.8" y="443.7" width="24.15" height="4.45" fill="#e87379"/>
<rect x="230.8" y="448.1" width="24.15" height="2.95" fill="#e98086"/>
<rect x="254.9" y="219" width="24.15" height="2.05" fill="#9398d2"/>
<rect x="254.9" y="221" width="24.15" height="2.85" fill="#838acb"/>
<rect x="254.9" y="223.8" width="24.15" height="2.95" fill="#5b67b9"/>
<rect x="254.9" y="226.7" width="24.15" height="3.55" fill="#4c5bb0"/>
<rect x="254.9" y="230.2" width="24.15" height="3.45" fill="#5b67b9"/>
<rect x="254.9" y="233.6" width="24.15" height="3.45" fill="#9ca0d6"/>
<rect x="254.9" y="237" width="24.15" height="4.05" fill="#3448a0"/>
<rect x="254.9" y="241" width="24.15" height="3.55" fill="#f7eef3"/>
<rect x="254.9" y="244.5" width="24.15" height="0.15" fill="#e7e5f3"/>
<rect x="254.9" y="244.6" width="24.15" height="2.95" fill="#4556ad"/>
<rect x="254.9" y="247.5" width="24.15" height="2.05" fill="#4455ac"/>
<rect x="254.9" y="249.5" width="24.15" height="2.95" fill="#4e5db1"/>
<rect x="254.9" y="252.4" width="24.15" height="2.05" fill="#4052aa"/>
<rect x="254.9" y="254.4" width="24.15" height="2.05" fill="#858bcb"/>
<rect x="254.9" y="256.4" width="24.15" height="4.45" fill="#b5b7e0"/>
<rect x="254.9" y="260.8" width="24.15" height="3.55" fill="#8289ca"/>
<rect x="254.9" y="264.3" width="24.15" height="3.25" fill="#777ec5"/>
<rect x="254.9" y="267.5" width="24.15" height="4.45" fill="#5a66b8"/>
<rect x="254.9" y="271.9" width="24.15" height="2.95" fill="#4d5cb1"/>
<rect x="254.9" y="274.8" width="24.15" height="2.95" fill="#606bbb"/>
<rect x="254.9" y="277.7" width="24.15" height="4.45" fill="#5764b6"/>
<rect x="254.9" y="282.1" width="24.15" height="3.55" fill="#7079c2"/>
<rect x="254.9" y="285.6" width="24.15" height="2.95" fill="#7179c3"/>
<rect x="254.9" y="288.5" width="24.15" height="2.05" fill="#616bbb"/>
<rect x="254.9" y="290.5" width="24.15" height="3.55" fill="#6770be"/>
<rect x="254.9" y="294" width="24.15" height="2.95" fill="#5965b7"/>
<rect x="254.9" y="296.9" width="24.15" height="0.15" fill="#7078c2"/>
<rect x="254.9" y="297" width="24.15" height="2.95" fill="#d4d3ec"/>
<rect x="254.9" y="299.9" width="24.15" height="2.55" fill="#dad9ef"/>
<rect x="254.9" y="302.4" width="24.15" height="2.95" fill="#646ebd"/>
<rect x="254.9" y="305.3" width="24.15" height="2.05" fill="#5f6aba"/>
<rect x="254.9" y="307.3" width="24.15" height="2.95" fill="#5965b7"/>
<rect x="254.9" y="310.2" width="24.15" height="1.85" fill="#5361b4"/>
<rect x="254.9" y="312" width="24.15" height="3.55" fill="#3d4fa7"/>
<rect x="254.9" y="315.5" width="24.15" height="2.25" fill="#3c4fa7"/>
<rect x="254.9" y="317.7" width="24.15" height="4.45" fill="#5b66b8"/>
<rect x="254.9" y="322.1" width="24.15" height="2.05" fill="#787fc6"/>
<rect x="254.9" y="324.1" width="24.15" height="4.45" fill="#6d76c1"/>
<rect x="254.9" y="328.5" width="24.15" height="2.95" fill="#6c75c1"/>
<rect x="254.9" y="331.4" width="24.15" height="2.05" fill="#4959af"/>
<rect x="254.9" y="333.4" width="24.15" height="4.45" fill="#606bbb"/>
<rect x="254.9" y="337.8" width="24.15" height="0.25" fill="#5663b6"/>
<rect x="254.9" y="338" width="24.15" height="2.05" fill="#cccce9"/>
<rect x="254.9" y="340" width="24.15" height="1.65" fill="#e3e1f2"/>
<rect x="254.9" y="341.6" width="24.15" height="4.45" fill="#6f78c2"/>
<rect x="254.9" y="346" width="24.15" height="3.55" fill="#5b67b8"/>
<rect x="254.9" y="349.5" width="24.15" height="2.95" fill="#6e77c1"/>
<rect x="254.9" y="352.4" width="24.15" height="2.05" fill="#616bbc"/>
<rect x="254.9" y="354.4" width="24.15" height="2.05" fill="#626cbc"/>
<rect x="254.9" y="356.4" width="24.15" height="2.95" fill="#636dbd"/>
<rect x="254.9" y="359.3" width="24.15" height="2.05" fill="#5e69ba"/>
<rect x="254.9" y="361.3" width="24.15" height="2.95" fill="#ceceea"/>
<rect x="254.9" y="364.2" width="24.15" height="2.95" fill="#ebe9f5"/>
<rect x="254.9" y="367.1" width="24.15" height="0.75" fill="#f5d8de"/>
<rect x="254.9" y="367.8" width="24.15" height="3.55" fill="#9ca0d6"/>
<rect x="254.9" y="371.3" width="24.15" height="2.95" fill="#9ea2d7"/>
<rect x="254.9" y="374.2" width="24.15" height="3.55" fill="#a6a9da"/>
<rect x="254.9" y="377.7" width="24.15" height="1.15" fill="#969bd3"/>
<rect x="254.9" y="378.8" width="24.15" height="4.45" fill="#5a66b8"/>
<rect x="254.9" y="383.2" width="24.15" height="2.95" fill="#4f5eb2"/>
<rect x="254.9" y="386.1" width="24.15" height="4.45" fill="#727ac3"/>
<rect x="254.9" y="390.5" width="24.15" height="1.55" fill="#5a66b8"/>
<rect x="254.9" y="392" width="24.15" height="2.05" fill="#f0edf7"/>
<rect x="254.9" y="394" width="24.15" height="1.25" fill="#f6f3f9"/>
<rect x="254.9" y="395.2" width="24.15" height="2.95" fill="#e76b71"/>
<rect x="254.9" y="398.1" width="24.15" height="0.25" fill="#e54d53"/>
<rect x="254.9" y="398.3" width="24.15" height="2.95" fill="#e5363b"/>
<rect x="254.9" y="401.2" width="24.15" height="4.45" fill="#e5353a"/>
<rect x="254.9" y="405.6" width="24.15" height="2.05" fill="#e53f45"/>
<rect x="254.9" y="407.6" width="24.15" height="0.45" fill="#e53b40"/>
<rect x="254.9" y="408" width="24.15" height="4.45" fill="#e97b81"/>
<rect x="254.9" y="412.4" width="24.15" height="4.45" fill="#e76167"/>
<rect x="254.9" y="416.8" width="24.15" height="2.95" fill="#ed9fa6"/>
<rect x="254.9" y="419.7" width="24.15" height="2.05" fill="#e87177"/>
<rect x="254.9" y="421.7" width="24.15" height="0.75" fill="#e97b81"/>
<rect x="254.9" y="422.4" width="24.15" height="2.05" fill="#e7676d"/>
<rect x="254.9" y="424.4" width="24.15" height="2.95" fill="#e5454b"/>
<rect x="254.9" y="427.3" width="24.15" height="2.95" fill="#e7656b"/>
<rect x="254.9" y="430.2" width="24.15" height="4.25" fill="#e6565c"/>
<rect x="254.9" y="434.4" width="24.15" height="3.35" fill="#b4b6e0"/>
<rect x="254.9" y="437.7" width="24.15" height="3.55" fill="#f4d5db"/>
<rect x="254.9" y="441.2" width="24.15" height="2.95" fill="#f6e8ed"/>
<rect x="254.9" y="444.1" width="24.15" height="2.05" fill="#dad9ee"/>
<rect x="254.9" y="446.1" width="24.15" height="2.05" fill="#f4d7dd"/>
<rect x="254.9" y="448.1" width="24.15" height="2.95" fill="#f3cad0"/>
<rect x="279" y="219" width="24.15" height="3.55" fill="#989dd4"/>
<rect x="279" y="222.5" width="24.15" height="1.35" fill="#9599d3"/>
<rect x="279" y="223.8" width="24.15" height="2.95" fill="#5663b6"/>
<rect x="279" y="226.7" width="24.15" height="3.55" fill="#4a5aaf"/>
<rect x="279" y="230.2" width="24.15" height="3.55" fill="#656fbd"/>
<rect x="279" y="233.7" width="24.15" height="4.45" fill="#606abb"/>
<rect x="279" y="238.1" width="24.15" height="2.95" fill="#6972bf"/>
<rect x="279" y="241" width="24.15" height="3.65" fill="#3f51a9"/>
<rect x="279" y="244.6" width="24.15" height="4.45" fill="#cfcfea"/>
<rect x="279" y="249" width="24.15" height="3.55" fill="#deddf0"/>
<rect x="279" y="252.5" width="24.15" height="2.95" fill="#a2a5d9"/>
<rect x="279" y="255.4" width="24.15" height="2.05" fill="#d9d8ee"/>
<rect x="279" y="257.4" width="24.15" height="0.35" fill="#c6c7e7"/>
<rect x="279" y="257.7" width="24.15" height="3.55" fill="#717ac3"/>
<rect x="279" y="261.2" width="24.15" height="3.55" fill="#626cbc"/>
<rect x="279" y="264.7" width="24.15" height="2.95" fill="#6871bf"/>
<rect x="279" y="267.6" width="24.15" height="2.05" fill="#717ac3"/>
<rect x="279" y="269.6" width="24.15" height="2.95" fill="#666fbe"/>
<rect x="279" y="272.5" width="24.15" height="2.95" fill="#6b74c0"/>
<rect x="279" y="275.4" width="24.15" height="2.95" fill="#5f6abb"/>
<rect x="279" y="278.3" width="24.15" height="1.75" fill="#5c68b9"/>
<rect x="279" y="280" width="24.15" height="3.55" fill="#4d5cb1"/>
<rect x="279" y="283.5" width="24.15" height="2.95" fill="#5663b6"/>
<rect x="279" y="286.4" width="24.15" height="2.95" fill="#7078c2"/>
<rect x="279" y="289.3" width="24.15" height="2.95" fill="#5663b6"/>
<rect x="279" y="292.2" width="24.15" height="2.55" fill="#7b83c7"/>
<rect x="279" y="294.7" width="24.15" height="2.95" fill="#4253ab"/>
<rect x="279" y="297.6" width="24.15" height="3.55" fill="#3b4ea6"/>
<rect x="279" y="301.1" width="24.15" height="2.45" fill="#3b4ea6"/>
<rect x="279" y="303.5" width="24.15" height="2.95" fill="#4c5bb0"/>
<rect x="279" y="306.4" width="24.15" height="3.55" fill="#5562b5"/>
<rect x="279" y="309.9" width="24.15" height="2.95" fill="#5865b7"/>
<rect x="279" y="312.8" width="24.15" height="2.95" fill="#5360b4"/>
<rect x="279" y="315.7" width="24.15" height="2.95" fill="#5260b4"/>
<rect x="279" y="318.6" width="24.15" height="2.05" fill="#5b66b8"/>
<rect x="279" y="320.6" width="24.15" height="4.45" fill="#5562b5"/>
<rect x="279" y="325" width="24.15" height="3.55" fill="#4656ad"/>
<rect x="279" y="328.5" width="24.15" height="2.95" fill="#4a59af"/>
<rect x="279" y="331.4" width="24.15" height="2.95" fill="#4d5cb1"/>
<rect x="279" y="334.3" width="24.15" height="3.55" fill="#5b67b8"/>
<rect x="279" y="337.8" width="24.15" height="2.25" fill="#5c68b9"/>
<rect x="279" y="340" width="24.15" height="2.95" fill="#5461b4"/>
<rect x="279" y="342.9" width="24.15" height="4.45" fill="#5a66b8"/>
<rect x="279" y="347.3" width="24.15" height="2.95" fill="#606bbb"/>
<rect x="279" y="350.2" width="24.15" height="3.55" fill="#5663b6"/>
<rect x="279" y="353.7" width="24.15" height="2.95" fill="#5562b5"/>
<rect x="279" y="356.6" width="24.15" height="3.55" fill="#4757ae"/>
<rect x="279" y="360.1" width="24.15" height="2.05" fill="#5764b6"/>
<rect x="279" y="362.1" width="24.15" height="3.55" fill="#5f6aba"/>
<rect x="279" y="365.6" width="24.15" height="2.95" fill="#5c68b9"/>
<rect x="279" y="368.5" width="24.15" height="2.05" fill="#626cbc"/>
<rect x="279" y="370.5" width="24.15" height="2.05" fill="#4858ae"/>
<rect x="279" y="372.5" width="24.15" height="1.95" fill="#4d5cb1"/>
<rect x="279" y="374.4" width="24.15" height="4.45" fill="#4757ad"/>
<rect x="279" y="378.8" width="24.15" height="2.05" fill="#4354ac"/>
<rect x="279" y="380.8" width="24.15" height="2.05" fill="#4b5ab0"/>
<rect x="279" y="382.8" width="24.15" height="1.55" fill="#4052aa"/>
<rect x="279" y="384.3" width="24.15" height="2.95" fill="#9297d2"/>
<rect x="279" y="387.2" width="24.15" height="2.95" fill="#9c9fd6"/>
<rect x="279" y="390.1" width="24.15" height="1.95" fill="#5a66b8"/>
<rect x="279" y="392" width="24.15" height="2.95" fill="#ceceea"/>
<rect x="279" y="394.9" width="24.15" height="4.45" fill="#c2c3e5"/>
<rect x="279" y="399.3" width="24.15" height="1.25" fill="#c4c5e6"/>
<rect x="279" y="400.5" width="24.15" height="2.05" fill="#f2c6cc"/>
<rect x="279" y="402.5" width="24.15" height="3.55" fill="#f2c6cc"/>
<rect x="279" y="406" width="24.15" height="2.95" fill="#f3ced4"/>
<rect x="279" y="408.9" width="24.15" height="0.35" fill="#f8f4f9"/>
<rect x="279" y="409.2" width="24.15" height="4.45" fill="#e76d73"/>
<rect x="279" y="413.6" width="24.15" height="4.45" fill="#e7646a"/>
<rect x="279" y="418" width="24.15" height="3.55" fill="#e7686e"/>
<rect x="279" y="421.5" width="24.15" height="4.45" fill="#e53f44"/>
<rect x="279" y="425.9" width="24.15" height="2.95" fill="#e76b71"/>
<rect x="279" y="428.8" width="24.15" height="2.95" fill="#e65157"/>
<rect x="279" y="431.7" width="24.15" height="4.45" fill="#e54b51"/>
<rect x="279" y="436.1" width="24.15" height="1.95" fill="#e65359"/>
<rect x="279" y="438" width="24.15" height="3.55" fill="#e53f45"/>
<rect x="279" y="441.5" width="24.15" height="3.55" fill="#e5363b"/>
<rect x="279" y="445" width="24.15" height="2.95" fill="#e65359"/>
<rect x="279" y="447.9" width="24.15" height="2.95" fill="#e65a60"/>
<rect x="279" y="450.8" width="24.15" height="0.25" fill="#e76066"/>
<rect x="303.1" y="219" width="24.15" height="2.05" fill="#e42327"/>
<rect x="303.1" y="221" width="24.15" height="2.95" fill="#e42c31"/>
<rect x="303.1" y="223.9" width="24.15" height="2.05" fill="#e42d32"/>
<rect x="303.1" y="225.9" width="24.15" height="2.95" fill="#e54045"/>
<rect x="303.1" y="228.8" width="24.15" height="4.45" fill="#e43035"/>
<rect x="303.1" y="233.2" width="24.15" height="2.95" fill="#e42d32"/>
<rect x="303.1" y="236.1" width="24.15" height="0.95" fill="#e53c42"/>
<rect x="303.1" y="237" width="24.15" height="2.95" fill="#e97b81"/>
<rect x="303.1" y="239.9" width="24.15" height="2.05" fill="#e6565c"/>
<rect x="303.1" y="241.9" width="24.15" height="2.95" fill="#e65b61"/>
<rect x="303.1" y="244.8" width="24.15" height="4.45" fill="#e7696f"/>
<rect x="303.1" y="249.2" width="24.15" height="2.95" fill="#e65b61"/>
<rect x="303.1" y="252.1" width="24.15" height="3.55" fill="#e7686e"/>
<rect x="303.1" y="255.6" width="24.15" height="2.05" fill="#e8747a"/>
<rect x="303.1" y="257.6" width="24.15" height="3.55" fill="#e87177"/>
<rect x="303.1" y="261.1" width="24.15" height="2.95" fill="#e76e74"/>
<rect x="303.1" y="264" width="24.15" height="2.05" fill="#e54e54"/>
<rect x="303.1" y="266" width="24.15" height="3.55" fill="#e7656b"/>
<rect x="303.1" y="269.5" width="24.15" height="0.55" fill="#e65e64"/>
<rect x="303.1" y="270" width="24.15" height="2.95" fill="#e7696f"/>
<rect x="303.1" y="272.9" width="24.15" height="2.05" fill="#ed9ba2"/>
<rect x="303.1" y="274.9" width="24.15" height="3.55" fill="#ed9ca2"/>
<rect x="303.1" y="278.4" width="24.15" height="2.95" fill="#ea848b"/>
<rect x="303.1" y="281.3" width="24.15" height="2.95" fill="#ec9298"/>
<rect x="303.1" y="284.2" width="24.15" height="2.05" fill="#e76d73"/>
<rect x="303.1" y="286.2" width="24.15" height="2.05" fill="#e97a80"/>
<rect x="303.1" y="288.2" width="24.15" height="2.95" fill="#e76167"/>
<rect x="303.1" y="291.1" width="24.15" height="1.45" fill="#e76a70"/>
<rect x="303.1" y="292.5" width="24.15" height="3.55" fill="#e6585e"/>
<rect x="303.1" y="296" width="24.15" height="2.95" fill="#e65056"/>
<rect x="303.1" y="298.9" width="24.15" height="3.55" fill="#e6585e"/>
<rect x="303.1" y="302.4" width="24.15" height="2.05" fill="#e76b71"/>
<rect x="303.1" y="304.4" width="24.15" height="2.95" fill="#e54a50"/>
<rect x="303.1" y="307.3" width="24.15" height="2.05" fill="#e7676d"/>
<rect x="303.1" y="309.3" width="24.15" height="3.55" fill="#ea8289"/>
<rect x="303.1" y="312.8" width="24.15" height="0.25" fill="#e65e64"/>
<rect x="303.1" y="313" width="24.15" height="2.95" fill="#e6575d"/>
<rect x="303.1" y="315.9" width="24.15" height="2.95" fill="#e8787e"/>
<rect x="303.1" y="318.8" width="24.15" height="2.05" fill="#e97e85"/>
<rect x="303.1" y="320.8" width="24.15" height="3.55" fill="#eb8c93"/>
<rect x="303.1" y="324.3" width="24.15" height="3.55" fill="#e8787e"/>
<rect x="303.1" y="327.8" width="24.15" height="1.95" fill="#e76e74"/>
<rect x="303.1" y="329.7" width="24.15" height="2.05" fill="#eea0a6"/>
<rect x="303.1" y="331.7" width="24.15" height="2.05" fill="#ed9ea5"/>
<rect x="303.1" y="333.7" width="24.15" height="2.95" fill="#eea4aa"/>
<rect x="303.1" y="336.6" width="24.15" height="2.95" fill="#f2c2c8"/>
<rect x="303.1" y="339.5" width="24.15" height="2.05" fill="#efadb4"/>
<rect x="303.1" y="341.5" width="24.15" height="2.05" fill="#ed9ca3"/>
<rect x="303.1" y="343.5" width="24.15" height="0.35" fill="#f0afb6"/>
<rect x="303.1" y="343.8" width="24.15" height="3.25" fill="#bbbce2"/>
<rect x="303.1" y="347" width="24.15" height="2.05" fill="#ea878e"/>
<rect x="303.1" y="349" width="24.15" height="3.55" fill="#f0b3ba"/>
<rect x="303.1" y="352.5" width="24.15" height="2.05" fill="#f7e8ee"/>
<rect x="303.1" y="354.5" width="24.15" height="4.45" fill="#f7eef4"/>
<rect x="303.1" y="358.9" width="24.15" height="0.15" fill="#f5e0e5"/>
<rect x="303.1" y="359" width="24.15" height="2.05" fill="#f4d6dc"/>
<rect x="303.1" y="361" width="24.15" height="2.95" fill="#f5dfe4"/>
<rect x="303.1" y="363.9" width="24.15" height="2.85" fill="#f0b1b8"/>
<rect x="303.1" y="366.7" width="24.15" height="4.35" fill="#d2d2eb"/>
<rect x="303.1" y="371" width="24.15" height="3.55" fill="#f3cbd2"/>
<rect x="303.1" y="374.5" width="24.15" height="2.95" fill="#f1bdc4"/>
<rect x="303.1" y="377.4" width="24.15" height="2.05" fill="#e97a80"/>
<rect x="303.1" y="379.4" width="24.15" height="1.65" fill="#eea4ab"/>
<rect x="303.1" y="381" width="24.15" height="2.05" fill="#f6e1e6"/>
<rect x="303.1" y="383" width="24.15" height="2.95" fill="#f6e0e6"/>
<rect x="303.1" y="385.9" width="24.15" height="4.45" fill="#f5dce2"/>
<rect x="303.1" y="390.3" width="24.15" height="1.75" fill="#f4d2d8"/>
<rect x="303.1" y="392" width="24.15" height="2.95" fill="#626cbc"/>
<rect x="303.1" y="394.9" width="24.15" height="3.15" fill="#5361b4"/>
<rect x="303.1" y="398" width="24.15" height="3.55" fill="#b3b5df"/>
<rect x="303.1" y="401.5" width="24.15" height="1.25" fill="#aaacdc"/>
<rect x="303.1" y="402.7" width="24.15" height="3.55" fill="#4e5db1"/>
<rect x="303.1" y="406.2" width="24.15" height="3.05" fill="#4f5db2"/>
<rect x="303.1" y="409.2" width="24.15" height="3.55" fill="#a6a9da"/>
<rect x="303.1" y="412.7" width="24.15" height="2.05" fill="#9096d1"/>
<rect x="303.1" y="414.7" width="24.15" height="2.95" fill="#7980c6"/>
<rect x="303.1" y="417.6" width="24.15" height="3.55" fill="#5562b5"/>
<rect x="303.1" y="421.1" width="24.15" height="2.95" fill="#6f78c2"/>
<rect x="303.1" y="424" width="24.15" height="0.65" fill="#6a73c0"/>
<rect x="303.1" y="424.6" width="24.15" height="4.45" fill="#4153ab"/>
<rect x="303.1" y="429" width="24.15" height="2.05" fill="#3f51a9"/>
<rect x="303.1" y="431" width="24.15" height="2.35" fill="#3b4ea6"/>
<rect x="303.1" y="433.3" width="24.15" height="3.55" fill="#e4e3f2"/>
<rect x="303.1" y="436.8" width="24.15" height="4.25" fill="#f2f0f8"/>
<rect x="303.1" y="441" width="24.15" height="3.55" fill="#5c67b9"/>
<rect x="303.1" y="444.5" width="24.15" height="2.95" fill="#9095d0"/>
<rect x="303.1" y="447.4" width="24.15" height="3.65" fill="#848bcb"/>
<rect x="327.2" y="219" width="24.15" height="3.55" fill="#e98086"/>
<rect x="327.2" y="222.5" width="24.15" height="2.35" fill="#f1bac1"/>
<rect x="327.2" y="224.8" width="24.15" height="2.95" fill="#ceceea"/>
<rect x="327.2" y="227.7" width="24.15" height="2.05" fill="#f5e0e6"/>
<rect x="327.2" y="229.7" width="24.15" height="3.95" fill="#f5d8de"/>
<rect x="327.2" y="233.6" width="24.15" height="2.05" fill="#eceaf5"/>
<rect x="327.2" y="235.6" width="24.15" height="1.45" fill="#d8d7ed"/>
<rect x="327.2" y="237" width="24.15" height="4.05" fill="#eb8f95"/>
<rect x="327.2" y="241" width="24.15" height="2.95" fill="#e6575d"/>
<rect x="327.2" y="243.9" width="24.15" height="2.95" fill="#e76167"/>
<rect x="327.2" y="246.8" width="24.15" height="2.95" fill="#e65d63"/>
<rect x="327.2" y="249.7" width="24.15" height="0.35" fill="#e65157"/>
<rect x="327.2" y="250" width="24.15" height="2.95" fill="#ea8288"/>
<rect x="327.2" y="252.9" width="24.15" height="2.95" fill="#e87379"/>
<rect x="327.2" y="255.8" width="24.15" height="2.95" fill="#ec9198"/>
<rect x="327.2" y="258.7" width="24.15" height="0.15" fill="#e7686e"/>
<rect x="327.2" y="258.8" width="24.15" height="2.05" fill="#eea5ab"/>
<rect x="327.2" y="260.8" width="24.15" height="4.45" fill="#f0afb6"/>
<rect x="327.2" y="265.2" width="24.15" height="2.35" fill="#f1b7be"/>
<rect x="327.2" y="267.5" width="24.15" height="4.45" fill="#e76d73"/>
<rect x="327.2" y="271.9" width="24.15" height="2.05" fill="#ed99a0"/>
<rect x="327.2" y="273.9" width="24.15" height="2.95" fill="#e7656b"/>
<rect x="327.2" y="276.8" width="24.15" height="3.55" fill="#e87278"/>
<rect x="327.2" y="280.3" width="24.15" height="3.55" fill="#e86f75"/>
<rect x="327.2" y="283.8" width="24.15" height="4.45" fill="#ea888e"/>
<rect x="327.2" y="288.2" width="24.15" height="3.55" fill="#ec969d"/>
<rect x="327.2" y="291.7" width="24.15" height="4.45" fill="#eb8c92"/>
<rect x="327.2" y="296.1" width="24.15" height="3.55" fill="#efadb4"/>
<rect x="327.2" y="299.6" width="24.15" height="3.55" fill="#ea858c"/>
<rect x="327.2" y="303.1" width="24.15" height="3.55" fill="#f0b0b7"/>
<rect x="327.2" y="306.6" width="24.15" height="2.05" fill="#e8777d"/>
<rect x="327.2" y="308.6" width="24.15" height="2.95" fill="#eea3aa"/>
<rect x="327.2" y="311.5" width="24.15" height="1.55" fill="#ea888e"/>
<rect x="327.2" y="313" width="24.15" height="4.45" fill="#e76066"/>
<rect x="327.2" y="317.4" width="24.15" height="3.55" fill="#e65d63"/>
<rect x="327.2" y="320.9" width="24.15" height="3.55" fill="#e76d73"/>
<rect x="327.2" y="324.4" width="24.15" height="4.45" fill="#e76369"/>
<rect x="327.2" y="328.8" width="24.15" height="0.95" fill="#e86f75"/>
<rect x="327.2" y="329.7" width="24.15" height="4.45" fill="#e42125"/>
<rect x="327.2" y="334.1" width="24.15" height="3.55" fill="#e42e33"/>
<rect x="327.2" y="337.6" width="24.15" height="2.05" fill="#e5383d"/>
<rect x="327.2" y="339.6" width="24.15" height="2.95" fill="#e42428"/>
<rect x="327.2" y="342.5" width="24.15" height="3.55" fill="#e4252a"/>
<rect x="327.2" y="346" width="24.15" height="2.95" fill="#e53f45"/>
<rect x="327.2" y="348.9" width="24.15" height="4.45" fill="#e53a40"/>
<rect x="327.2" y="353.3" width="24.15" height="2.95" fill="#e42024"/>
<rect x="327.2" y="356.2" width="24.15" height="3.55" fill="#e43338"/>
<rect x="327.2" y="359.7" width="24.15" height="1.65" fill="#e42f33"/>
<rect x="327.2" y="361.3" width="24.15" height="2.05" fill="#e6555b"/>
<rect x="327.2" y="363.3" width="24.15" height="3.55" fill="#e65e64"/>
<rect x="327.2" y="366.8" width="24.15" height="3.55" fill="#e54f55"/>
<rect x="327.2" y="370.3" width="24.15" height="1.95" fill="#e65b61"/>
<rect x="327.2" y="372.2" width="24.15" height="3.55" fill="#e8747a"/>
<rect x="327.2" y="375.7" width="24.15" height="2.95" fill="#efacb3"/>
<rect x="327.2" y="378.6" width="24.15" height="2.45" fill="#eb8b91"/>
<rect x="327.2" y="381" width="24.15" height="2.95" fill="#e7696f"/>
<rect x="327.2" y="383.9" width="24.15" height="4.45" fill="#e76369"/>
<rect x="327.2" y="388.3" width="24.15" height="3.55" fill="#e7666c"/>
<rect x="327.2" y="391.8" width="24.15" height="0.25" fill="#e7646a"/>
<rect x="327.2" y="392" width="24.15" height="3.55" fill="#7e86c9"/>
<rect x="327.2" y="395.5" width="24.15" height="2.05" fill="#8289ca"/>
<rect x="327.2" y="397.5" width="24.15" height="2.05" fill="#616bbc"/>
<rect x="327.2" y="399.5" width="24.15" height="2.95" fill="#7f86c9"/>
<rect x="327.2" y="402.4" width="24.15" height="2.95" fill="#6872bf"/>
<rect x="327.2" y="405.3" width="24.15" height="4.45" fill="#606bbb"/>
<rect x="327.2" y="409.7" width="24.15" height="2.95" fill="#858ccc"/>
<rect x="327.2" y="412.6" width="24.15" height="4.45" fill="#5f69ba"/>
<rect x="327.2" y="417" width="24.15" height="4.45" fill="#888ecd"/>
<rect x="327.2" y="421.4" width="24.15" height="1.05" fill="#646dbd"/>
<rect x="327.2" y="422.4" width="24.15" height="2.95" fill="#9da1d7"/>
<rect x="327.2" y="425.3" width="24.15" height="2.95" fill="#b2b4df"/>
<rect x="327.2" y="428.2" width="24.15" height="2.95" fill="#babce2"/>
<rect x="327.2" y="431.1" width="24.15" height="1.15" fill="#979cd4"/>
<rect x="327.2" y="432.2" width="24.15" height="2.95" fill="#5965b7"/>
<rect x="327.2" y="435.1" width="24.15" height="3.55" fill="#3f51a9"/>
<rect x="327.2" y="438.6" width="24.15" height="2.95" fill="#4354ac"/>
<rect x="327.2" y="441.5" width="24.15" height="2.95" fill="#3d4fa7"/>
<rect x="327.2" y="444.4" width="24.15" height="2.95" fill="#4455ac"/>
<rect x="327.2" y="447.3" width="24.15" height="2.05" fill="#4052aa"/>
<rect x="327.2" y="449.3" width="24.15" height="1.75" fill="#515fb3"/>
<rect x="351.3" y="219" width="24.15" height="3.55" fill="#9ca0d6"/>
<rect x="351.3" y="222.5" width="24.15" height="0.25" fill="#a6a9da"/>
<rect x="351.3" y="222.7" width="24.15" height="3.55" fill="#e87177"/>
<rect x="351.3" y="226.2" width="24.15" height="4.45" fill="#ea8188"/>
<rect x="351.3" y="230.6" width="24.15" height="2.95" fill="#e7646a"/>
<rect x="351.3" y="233.5" width="24.15" height="0.15" fill="#e7696f"/>
<rect x="351.3" y="233.6" width="24.15" height="2.95" fill="#f4d7dd"/>
<rect x="351.3" y="236.5" width="24.15" height="0.55" fill="#f2eff8"/>
<rect x="351.3" y="237" width="24.15" height="4.05" fill="#eb8b91"/>
<rect x="351.3" y="241" width="24.15" height="2.05" fill="#f4d1d7"/>
<rect x="351.3" y="243" width="24.15" height="4.45" fill="#f4d5db"/>
<rect x="351.3" y="247.4" width="24.15" height="2.95" fill="#f0b2b9"/>
<rect x="351.3" y="250.3" width="24.15" height="2.95" fill="#f2c6cc"/>
<rect x="351.3" y="253.2" width="24.15" height="2.95" fill="#f3c9cf"/>
<rect x="351.3" y="256.1" width="24.15" height="0.55" fill="#f4d7dd"/>
<rect x="351.3" y="256.6" width="24.15" height="4.45" fill="#e65e64"/>
<rect x="351.3" y="261" width="24.15" height="2.95" fill="#e76066"/>
<rect x="351.3" y="263.9" width="24.15" height="2.95" fill="#e87278"/>
<rect x="351.3" y="266.8" width="24.15" height="2.05" fill="#eb8c93"/>
<rect x="351.3" y="268.8" width="24.15" height="2.95" fill="#e86e74"/>
<rect x="351.3" y="271.7" width="24.15" height="2.05" fill="#e76e74"/>
<rect x="351.3" y="273.7" width="24.15" height="2.05" fill="#e8767c"/>
<rect x="351.3" y="275.7" width="24.15" height="4.45" fill="#e7686e"/>
<rect x="351.3" y="280.1" width="24.15" height="2.95" fill="#e7646a"/>
<rect x="351.3" y="283" width="24.15" height="3.55" fill="#e97c82"/>
<rect x="351.3" y="286.5" width="24.15" height="4.45" fill="#e7666c"/>
<rect x="351.3" y="290.9" width="24.15" height="2.05" fill="#e54f55"/>
<rect x="351.3" y="292.9" width="24.15" height="0.75" fill="#ea8288"/>
<rect x="351.3" y="293.6" width="24.15" height="2.95" fill="#ea888e"/>
<rect x="351.3" y="296.5" width="24.15" height="2.95" fill="#eb8f95"/>
<rect x="351.3" y="299.4" width="24.15" height="4.45" fill="#efacb3"/>
<rect x="351.3" y="303.8" width="24.15" height="2.05" fill="#eea4ab"/>
<rect x="351.3" y="305.8" width="24.15" height="3.55" fill="#ea898f"/>
<rect x="351.3" y="309.3" width="24.15" height="3.55" fill="#eb9096"/>
<rect x="351.3" y="312.8" width="24.15" height="2.75" fill="#e97f85"/>
<rect x="351.3" y="315.5" width="24.15" height="2.95" fill="#f3cbd2"/>
<rect x="351.3" y="318.4" width="24.15" height="3.55" fill="#f3c7ce"/>
<rect x="351.3" y="321.9" width="24.15" height="2.95" fill="#efa8af"/>
<rect x="351.3" y="324.8" width="24.15" height="2.95" fill="#f1bec4"/>
<rect x="351.3" y="327.7" width="24.15" height="2.05" fill="#f0b3ba"/>
<rect x="351.3" y="329.7" width="24.15" height="1.15" fill="#eea3aa"/>
<rect x="351.3" y="330.8" width="24.15" height="3.25" fill="#e8767c"/>
<rect x="351.3" y="334" width="24.15" height="2.95" fill="#f5f2f9"/>
<rect x="351.3" y="336.9" width="24.15" height="2.95" fill="#f5dfe5"/>
<rect x="351.3" y="339.8" width="24.15" height="3.55" fill="#f5d8de"/>
<rect x="351.3" y="343.3" width="24.15" height="0.55" fill="#f7e9ef"/>
<rect x="351.3" y="343.8" width="24.15" height="2.05" fill="#eea2a8"/>
<rect x="351.3" y="345.8" width="24.15" height="2.95" fill="#f3cdd3"/>
<rect x="351.3" y="348.7" width="24.15" height="2.95" fill="#ec9399"/>
<rect x="351.3" y="351.6" width="24.15" height="4.45" fill="#ed9ea4"/>
<rect x="351.3" y="356" width="24.15" height="2.95" fill="#f0b6bd"/>
<rect x="351.3" y="358.9" width="24.15" height="2.45" fill="#ec9097"/>
<rect x="351.3" y="361.3" width="24.15" height="2.95" fill="#e98187"/>
<rect x="351.3" y="364.2" width="24.15" height="3.55" fill="#e87278"/>
<rect x="351.3" y="367.7" width="24.15" height="2.05" fill="#e8747a"/>
<rect x="351.3" y="369.7" width="24.15" height="1.35" fill="#e76c72"/>
<rect x="351.3" y="371" width="24.15" height="2.95" fill="#e5464c"/>
<rect x="351.3" y="373.9" width="24.15" height="2.95" fill="#e54c52"/>
<rect x="351.3" y="376.8" width="24.15" height="3.55" fill="#e5454b"/>
<rect x="351.3" y="380.3" width="24.15" height="2.95" fill="#e54f55"/>
<rect x="351.3" y="383.2" width="24.15" height="3.55" fill="#e5484e"/>
<rect x="351.3" y="386.7" width="24.15" height="2.95" fill="#e65359"/>
<rect x="351.3" y="389.6" width="24.15" height="2.05" fill="#e53c41"/>
<rect x="351.3" y="391.6" width="24.15" height="0.45" fill="#e65258"/>
<rect x="351.3" y="392" width="24.15" height="4.05" fill="#9ea1d7"/>
<rect x="351.3" y="396" width="24.15" height="2.05" fill="#6b74c0"/>
<rect x="351.3" y="398" width="24.15" height="2.05" fill="#5e69ba"/>
<rect x="351.3" y="400" width="24.15" height="3.55" fill="#5e69ba"/>
<rect x="351.3" y="403.5" width="24.15" height="2.95" fill="#4f5db2"/>
<rect x="351.3" y="406.4" width="24.15" height="2.95" fill="#6872bf"/>
<rect x="351.3" y="409.3" width="24.15" height="2.05" fill="#616bbb"/>
<rect x="351.3" y="411.3" width="24.15" height="2.95" fill="#5e69ba"/>
<rect x="351.3" y="414.2" width="24.15" height="2.95" fill="#4253ab"/>
<rect x="351.3" y="417.1" width="24.15" height="2.95" fill="#5a66b8"/>
<rect x="351.3" y="420" width="24.15" height="4.45" fill="#4556ad"/>
<rect x="351.3" y="424.4" width="24.15" height="0.25" fill="#5f6abb"/>
<rect x="351.3" y="424.6" width="24.15" height="2.95" fill="#bec0e4"/>
<rect x="351.3" y="427.5" width="24.15" height="2.95" fill="#b5b7e0"/>
<rect x="351.3" y="430.4" width="24.15" height="2.95" fill="#bcbee3"/>
<rect x="351.3" y="433.3" width="24.15" height="2.95" fill="#5c68b9"/>
<rect x="351.3" y="436.2" width="24.15" height="2.95" fill="#515fb3"/>
<rect x="351.3" y="439.1" width="24.15" height="2.95" fill="#5864b7"/>
<rect x="351.3" y="442" width="24.15" height="4.45" fill="#d7d7ed"/>
<rect x="351.3" y="446.4" width="24.15" height="2.95" fill="#e2e0f1"/>
<rect x="351.3" y="449.3" width="24.15" height="1.75" fill="#c6c7e7"/>
<defs><linearGradient id="hg" x1="0" y1="0" x2="0" y2="1"><stop offset="0" stop-color="#e42024"/><stop offset="0.5" stop-color="#f8f5fa"/><stop offset="1" stop-color="#3448a0"/></linearGradient></defs>
<rect x="195.4" y="221.9" width="6.1" height="33.6" fill="url(#hg)"/>
<text x="203.6" y="224.8" font-size="3.6" text-anchor="start" fill="#333" stroke="#333" stroke-width="0.05">2</text>
<text x="203.6" y="233.2" font-size="3.6" text-anchor="start" fill="#333" stroke="#333" stroke-width="0.05">1</text>
<text x="203.6" y="241.6" font-size="3.6" text-anchor="start" fill="#333" stroke="#333" stroke-width="0.05">0</text>
<text x="203.6" y="249.4" font-size="3.6" text-anchor="start" fill="#333" stroke="#333" stroke-width="0.05">-1</text>
<text x="34" y="455" font-size="3.8" text-anchor="end" fill="#333" transform="rotate(-58 34 455)" stroke="#333" stroke-width="0.05">SI_C3</text>
<text x="59.75" y="455" font-size="3.8" text-anchor="end" fill="#333" transform="rotate(-58 59.75 455)" stroke="#333" stroke-width="0.05">SI_C1</text>
<text x="85.5" y="455" font-size="3.8" text-anchor="end" fill="#333" transform="rotate(-58 85.5 455)" stroke="#333" stroke-width="0.05">SI_C2</text>
<text x="111.25" y="455" font-size="3.8" text-anchor="end" fill="#333" transform="rotate(-58 111.25 455)" stroke="#333" stroke-width="0.05">SI_A1</text>
<text x="137" y="455" font-size="3.8" text-anchor="end" fill="#333" transform="rotate(-58 137 455)" stroke="#333" stroke-width="0.05">SI_A3</text>
<text x="162.75" y="455" font-size="3.8" text-anchor="end" fill="#333" transform="rotate(-58 162.75 455)" stroke="#333" stroke-width="0.05">SI_A2</text>
<text x="245.3" y="454" font-size="3.8" text-anchor="end" fill="#333" transform="rotate(-58 245.3 454)" stroke="#333" stroke-width="0.05">OE_C1</text>
<text x="269.4" y="454" font-size="3.8" text-anchor="end" fill="#333" transform="rotate(-58 269.4 454)" stroke="#333" stroke-width="0.05">OE_C2</text>
<text x="293.5" y="454" font-size="3.8" text-anchor="end" fill="#333" transform="rotate(-58 293.5 454)" stroke="#333" stroke-width="0.05">OE_C3</text>
<text x="317.6" y="454" font-size="3.8" text-anchor="end" fill="#333" transform="rotate(-58 317.6 454)" stroke="#333" stroke-width="0.05">OE_A2</text>
<text x="341.7" y="454" font-size="3.8" text-anchor="end" fill="#333" transform="rotate(-58 341.7 454)" stroke="#333" stroke-width="0.05">OE_A1</text>
<text x="365.8" y="454" font-size="3.8" text-anchor="end" fill="#333" transform="rotate(-58 365.8 454)" stroke="#333" stroke-width="0.05">OE_A3</text>
<text x="427.9" y="226.1" font-size="22" text-anchor="start" fill="#000">E</text>
<text x="539.5" y="228.8" font-size="8.3" text-anchor="middle" font-weight="bold" fill="#000">Venn</text>
<circle cx="509" cy="362.2" r="72.5" fill="#d9766c"/>
<circle cx="581.6" cy="362.2" r="72.5" fill="#8cd1d9"/>
<path d="M 545.3 299.44 A 72.5 72.5 0 0 1 545.3 424.96 A 72.5 72.5 0 0 1 545.3 299.44 Z" fill="#7fa8ad"/>
<circle cx="509" cy="362.2" r="72.5" fill="none" stroke="#3a3a3a" stroke-width="0.6"/>
<circle cx="581.6" cy="362.2" r="72.5" fill="none" stroke="#3a3a3a" stroke-width="0.6"/>
<text x="418.6" y="290.3" font-size="10.5" text-anchor="start" fill="#000">NC vs SI-AMH</text>
<text x="580.3" y="290.3" font-size="10.5" text-anchor="start" fill="#000">OE vs OE-AMH</text>
<text x="472.8" y="362.3" font-size="5.6" text-anchor="middle" fill="#222" stroke="#222" stroke-width="0.05">1449</text>
<text x="472.8" y="368.2" font-size="5.6" text-anchor="middle" fill="#222" stroke="#222" stroke-width="0.05">(81.73%)</text>
<text x="545.3" y="362.3" font-size="5.6" text-anchor="middle" fill="#222" stroke="#222" stroke-width="0.05">37</text>
<text x="545.3" y="368.2" font-size="5.6" text-anchor="middle" fill="#222" stroke="#222" stroke-width="0.05">(2.09%)</text>
<text x="617.7" y="362.3" font-size="5.6" text-anchor="middle" fill="#222" stroke="#222" stroke-width="0.05">287</text>
<text x="617.7" y="368.2" font-size="5.6" text-anchor="middle" fill="#222" stroke="#222" stroke-width="0.05">(16.19%)</text>
<circle cx="661.6" cy="361" r="0.4" fill="#888"/>
<text x="-0.1" y="487.6" font-size="22" text-anchor="start" fill="#000">F</text>
<line x1="125.49" y1="502.1" x2="125.49" y2="689.7" stroke="#e6e6e6" stroke-width="0.6"/>
<line x1="141.68" y1="502.1" x2="141.68" y2="689.7" stroke="#e6e6e6" stroke-width="0.6"/>
<line x1="157.87" y1="502.1" x2="157.87" y2="689.7" stroke="#e6e6e6" stroke-width="0.6"/>
<line x1="174.06" y1="502.1" x2="174.06" y2="689.7" stroke="#e6e6e6" stroke-width="0.6"/>
<line x1="190.25" y1="502.1" x2="190.25" y2="689.7" stroke="#e6e6e6" stroke-width="0.6"/>
<line x1="206.45" y1="502.1" x2="206.45" y2="689.7" stroke="#e6e6e6" stroke-width="0.6"/>
<line x1="222.64" y1="502.1" x2="222.64" y2="689.7" stroke="#e6e6e6" stroke-width="0.6"/>
<line x1="238.83" y1="502.1" x2="238.83" y2="689.7" stroke="#e6e6e6" stroke-width="0.6"/>
<line x1="255.02" y1="502.1" x2="255.02" y2="689.7" stroke="#e6e6e6" stroke-width="0.6"/>
<line x1="271.21" y1="502.1" x2="271.21" y2="689.7" stroke="#e6e6e6" stroke-width="0.6"/>
<line x1="109.3" y1="506.4" x2="287.4" y2="506.4" stroke="#e6e6e6" stroke-width="0.6"/>
<line x1="109.3" y1="515.81" x2="287.4" y2="515.81" stroke="#e6e6e6" stroke-width="0.6"/>
<line x1="109.3" y1="525.23" x2="287.4" y2="525.23" stroke="#e6e6e6" stroke-width="0.6"/>
<line x1="109.3" y1="534.64" x2="287.4" y2="534.64" stroke="#e6e6e6" stroke-width="0.6"/>
<line x1="109.3" y1="544.05" x2="287.4" y2="544.05" stroke="#e6e6e6" stroke-width="0.6"/>
<line x1="109.3" y1="553.46" x2="287.4" y2="553.46" stroke="#e6e6e6" stroke-width="0.6"/>
<line x1="109.3" y1="562.88" x2="287.4" y2="562.88" stroke="#e6e6e6" stroke-width="0.6"/>
<line x1="109.3" y1="572.29" x2="287.4" y2="572.29" stroke="#e6e6e6" stroke-width="0.6"/>
<line x1="109.3" y1="581.7" x2="287.4" y2="581.7" stroke="#e6e6e6" stroke-width="0.6"/>
<line x1="109.3" y1="591.12" x2="287.4" y2="591.12" stroke="#e6e6e6" stroke-width="0.6"/>
<line x1="109.3" y1="600.53" x2="287.4" y2="600.53" stroke="#e6e6e6" stroke-width="0.6"/>
<line x1="109.3" y1="609.94" x2="287.4" y2="609.94" stroke="#e6e6e6" stroke-width="0.6"/>
<line x1="109.3" y1="619.36" x2="287.4" y2="619.36" stroke="#e6e6e6" stroke-width="0.6"/>
<line x1="109.3" y1="628.77" x2="287.4" y2="628.77" stroke="#e6e6e6" stroke-width="0.6"/>
<line x1="109.3" y1="638.18" x2="287.4" y2="638.18" stroke="#e6e6e6" stroke-width="0.6"/>
<line x1="109.3" y1="647.6" x2="287.4" y2="647.6" stroke="#e6e6e6" stroke-width="0.6"/>
<line x1="109.3" y1="657.01" x2="287.4" y2="657.01" stroke="#e6e6e6" stroke-width="0.6"/>
<line x1="109.3" y1="666.42" x2="287.4" y2="666.42" stroke="#e6e6e6" stroke-width="0.6"/>
<line x1="109.3" y1="675.83" x2="287.4" y2="675.83" stroke="#e6e6e6" stroke-width="0.6"/>
<line x1="109.3" y1="685.25" x2="287.4" y2="685.25" stroke="#e6e6e6" stroke-width="0.6"/>
<circle cx="231.93" cy="506.4" r="1.2" fill="#e12e38"/>
<circle cx="154.47" cy="515.81" r="1.6" fill="#df2e3a"/>
<circle cx="143.58" cy="525.23" r="2" fill="#de2d3c"/>
<circle cx="161.57" cy="534.64" r="1.5" fill="#d42d47"/>
<circle cx="134.69" cy="544.05" r="2.3" fill="#b82b66"/>
<circle cx="267.21" cy="553.46" r="1" fill="#922990"/>
<circle cx="127.99" cy="562.88" r="2.9" fill="#8f2895"/>
<circle cx="137.88" cy="572.29" r="2" fill="#89289b"/>
<circle cx="131.39" cy="581.7" r="2.4" fill="#86299b"/>
<circle cx="127.19" cy="591.12" r="2.9" fill="#842a9b"/>
<circle cx="124.59" cy="600.53" r="3.5" fill="#86299b"/>
<circle cx="124.69" cy="609.94" r="3.5" fill="#842a9b"/>
<circle cx="124.09" cy="619.36" r="3.4" fill="#832b9b"/>
<circle cx="128.79" cy="628.77" r="2.8" fill="#792f9c"/>
<circle cx="150.08" cy="638.18" r="1.6" fill="#5d3c9e"/>
<circle cx="127.89" cy="647.6" r="3.4" fill="#6d359d"/>
<circle cx="128.79" cy="657.01" r="3.2" fill="#603a9e"/>
<circle cx="127.29" cy="666.42" r="2.9" fill="#53409e"/>
<circle cx="123.19" cy="675.83" r="3.9" fill="#4d439f"/>
<circle cx="129.29" cy="685.25" r="2.8" fill="#4a449f"/>
<rect x="109.3" y="502.1" width="178.1" height="187.6" fill="none" stroke="#6e6e6e" stroke-width="0.9"/>
<line x1="107.3" y1="506.4" x2="109.3" y2="506.4" stroke="#444" stroke-width="0.6"/>
<text x="105.6" y="508.15" font-size="4.64" text-anchor="end" fill="#1a1a1a" stroke="#1a1a1a" stroke-width="0.05">DNA replication initiation</text>
<line x1="107.3" y1="515.81" x2="109.3" y2="515.81" stroke="#444" stroke-width="0.6"/>
<text x="105.6" y="517.56" font-size="4.64" text-anchor="end" fill="#1a1a1a" stroke="#1a1a1a" stroke-width="0.05">cellular response to oxidative stress</text>
<line x1="107.3" y1="525.23" x2="109.3" y2="525.23" stroke="#444" stroke-width="0.6"/>
<text x="105.6" y="526.98" font-size="4.64" text-anchor="end" fill="#1a1a1a" stroke="#1a1a1a" stroke-width="0.05">regulation of microtubule-based process</text>
<line x1="107.3" y1="534.64" x2="109.3" y2="534.64" stroke="#444" stroke-width="0.6"/>
<text x="105.6" y="536.39" font-size="4.64" text-anchor="end" fill="#1a1a1a" stroke="#1a1a1a" stroke-width="0.05">regulation of DNA replication</text>
<line x1="107.3" y1="544.05" x2="109.3" y2="544.05" stroke="#444" stroke-width="0.6"/>
<text x="105.6" y="545.8" font-size="4.64" text-anchor="end" fill="#1a1a1a" stroke="#1a1a1a" stroke-width="0.05">positive regulation of cell adhesion</text>
<line x1="107.3" y1="553.46" x2="109.3" y2="553.46" stroke="#444" stroke-width="0.6"/>
<text x="105.6" y="555.21" font-size="4.64" text-anchor="end" fill="#1a1a1a" stroke="#1a1a1a" stroke-width="0.05">trophoblast giant cell differentiation</text>
<line x1="107.3" y1="562.88" x2="109.3" y2="562.88" stroke="#444" stroke-width="0.6"/>
<text x="105.6" y="564.63" font-size="4.64" text-anchor="end" fill="#1a1a1a" stroke="#1a1a1a" stroke-width="0.05">regulation of cell cycle process</text>
<line x1="107.3" y1="572.29" x2="109.3" y2="572.29" stroke="#444" stroke-width="0.6"/>
<text x="105.6" y="574.04" font-size="4.64" text-anchor="end" fill="#1a1a1a" stroke="#1a1a1a" stroke-width="0.05">response to oxidative stress</text>
<line x1="107.3" y1="581.7" x2="109.3" y2="581.7" stroke="#444" stroke-width="0.6"/>
<text x="105.6" y="583.45" font-size="4.64" text-anchor="end" fill="#1a1a1a" stroke="#1a1a1a" stroke-width="0.05">regulation of protein kinase activity</text>
<line x1="107.3" y1="591.12" x2="109.3" y2="591.12" stroke="#444" stroke-width="0.6"/>
<text x="105.6" y="592.87" font-size="4.64" text-anchor="end" fill="#1a1a1a" stroke="#1a1a1a" stroke-width="0.05">regulation of protein phosphorylation</text>
<line x1="107.3" y1="600.53" x2="109.3" y2="600.53" stroke="#444" stroke-width="0.6"/>
<text x="105.6" y="602.28" font-size="4.64" text-anchor="end" fill="#1a1a1a" stroke="#1a1a1a" stroke-width="0.05">regulation of phosphate metabolic process</text>
<line x1="107.3" y1="609.94" x2="109.3" y2="609.94" stroke="#444" stroke-width="0.6"/>
<text x="105.6" y="611.69" font-size="4.64" text-anchor="end" fill="#1a1a1a" stroke="#1a1a1a" stroke-width="0.05">regulation of phosphorus metabolic process</text>
<line x1="107.3" y1="619.36" x2="109.3" y2="619.36" stroke="#444" stroke-width="0.6"/>
<text x="105.6" y="621.11" font-size="4.64" text-anchor="end" fill="#1a1a1a" stroke="#1a1a1a" stroke-width="0.05">positive regulation of developmental process</text>
<line x1="107.3" y1="628.77" x2="109.3" y2="628.77" stroke="#444" stroke-width="0.6"/>
<text x="105.6" y="630.52" font-size="4.64" text-anchor="end" fill="#1a1a1a" stroke="#1a1a1a" stroke-width="0.05">microtubule organizing center</text>
<line x1="107.3" y1="638.18" x2="109.3" y2="638.18" stroke="#444" stroke-width="0.6"/>
<text x="105.6" y="639.93" font-size="4.64" text-anchor="end" fill="#1a1a1a" stroke="#1a1a1a" stroke-width="0.05">regulation of nuclear division</text>
<line x1="107.3" y1="647.6" x2="109.3" y2="647.6" stroke="#444" stroke-width="0.6"/>
<text x="105.6" y="649.35" font-size="4.64" text-anchor="end" fill="#1a1a1a" stroke="#1a1a1a" stroke-width="0.05">regulation of cell cycle</text>
<line x1="107.3" y1="657.01" x2="109.3" y2="657.01" stroke="#444" stroke-width="0.6"/>
<text x="105.6" y="658.76" font-size="4.64" text-anchor="end" fill="#1a1a1a" stroke="#1a1a1a" stroke-width="0.05">cell cycle process</text>
<line x1="107.3" y1="666.42" x2="109.3" y2="666.42" stroke="#444" stroke-width="0.6"/>
<text x="105.6" y="668.17" font-size="4.64" text-anchor="end" fill="#1a1a1a" stroke="#1a1a1a" stroke-width="0.05">regulation of cell migration</text>
<line x1="107.3" y1="675.83" x2="109.3" y2="675.83" stroke="#444" stroke-width="0.6"/>
<text x="105.6" y="677.58" font-size="4.64" text-anchor="end" fill="#1a1a1a" stroke="#1a1a1a" stroke-width="0.05">cellular response to chemical stimulus</text>
<line x1="107.3" y1="685.25" x2="109.3" y2="685.25" stroke="#444" stroke-width="0.6"/>
<text x="105.6" y="687" font-size="4.64" text-anchor="end" fill="#1a1a1a" stroke="#1a1a1a" stroke-width="0.05">mitotic cell cycle process</text>
<line x1="109.3" y1="689.7" x2="109.3" y2="691.5" stroke="#444" stroke-width="0.6"/>
<text x="109.3" y="696.6" font-size="4.5" text-anchor="middle" fill="#222" stroke="#222" stroke-width="0.05">0.05</text>
<line x1="125.49" y1="689.7" x2="125.49" y2="691.5" stroke="#444" stroke-width="0.6"/>
<text x="125.49" y="696.6" font-size="4.5" text-anchor="middle" fill="#222" stroke="#222" stroke-width="0.05">0.1</text>
<line x1="141.68" y1="689.7" x2="141.68" y2="691.5" stroke="#444" stroke-width="0.6"/>
<text x="141.68" y="696.6" font-size="4.5" text-anchor="middle" fill="#222" stroke="#222" stroke-width="0.05">0.15</text>
<line x1="157.87" y1="689.7" x2="157.87" y2="691.5" stroke="#444" stroke-width="0.6"/>
<text x="157.87" y="696.6" font-size="4.5" text-anchor="middle" fill="#222" stroke="#222" stroke-width="0.05">0.2</text>
<line x1="174.06" y1="689.7" x2="174.06" y2="691.5" stroke="#444" stroke-width="0.6"/>
<text x="174.06" y="696.6" font-size="4.5" text-anchor="middle" fill="#222" stroke="#222" stroke-width="0.05">0.25</text>
<line x1="190.25" y1="689.7" x2="190.25" y2="691.5" stroke="#444" stroke-width="0.6"/>
<text x="190.25" y="696.6" font-size="4.5" text-anchor="middle" fill="#222" stroke="#222" stroke-width="0.05">0.3</text>
<line x1="206.45" y1="689.7" x2="206.45" y2="691.5" stroke="#444" stroke-width="0.6"/>
<text x="206.45" y="696.6" font-size="4.5" text-anchor="middle" fill="#222" stroke="#222" stroke-width="0.05">0.35</text>
<line x1="222.64" y1="689.7" x2="222.64" y2="691.5" stroke="#444" stroke-width="0.6"/>
<text x="222.64" y="696.6" font-size="4.5" text-anchor="middle" fill="#222" stroke="#222" stroke-width="0.05">0.4</text>
<line x1="238.83" y1="689.7" x2="238.83" y2="691.5" stroke="#444" stroke-width="0.6"/>
<text x="238.83" y="696.6" font-size="4.5" text-anchor="middle" fill="#222" stroke="#222" stroke-width="0.05">0.45</text>
<line x1="255.02" y1="689.7" x2="255.02" y2="691.5" stroke="#444" stroke-width="0.6"/>
<text x="255.02" y="696.6" font-size="4.5" text-anchor="middle" fill="#222" stroke="#222" stroke-width="0.05">0.5</text>
<line x1="271.21" y1="689.7" x2="271.21" y2="691.5" stroke="#444" stroke-width="0.6"/>
<text x="271.21" y="696.6" font-size="4.5" text-anchor="middle" fill="#222" stroke="#222" stroke-width="0.05">0.55</text>
<line x1="287.4" y1="689.7" x2="287.4" y2="691.5" stroke="#444" stroke-width="0.6"/>
<text x="287.4" y="696.6" font-size="4.5" text-anchor="middle" fill="#222" stroke="#222" stroke-width="0.05">0.6</text>
<text x="101.5" y="493.2" font-size="10.5" text-anchor="start" fill="#000">GO enrichment analysis (NC vs SI-AMH)</text>
<text x="10.5" y="596.9" font-size="5.3" text-anchor="middle" font-weight="bold" fill="#000" transform="rotate(-90 10.5 596.9)" stroke="#000" stroke-width="0.05">GO term</text>
<text x="198.35" y="703.2" font-size="5.45" text-anchor="middle" font-weight="bold" fill="#000" stroke="#000" stroke-width="0.05">Rich factor</text>
<text x="294.7" y="540.6" font-size="4.6" text-anchor="start" font-weight="bold" fill="#000" stroke="#000" stroke-width="0.05">Pvalue</text>
<defs><linearGradient id="g1595" x1="0" y1="0" x2="0" y2="1"><stop offset="0" stop-color="#3a4ba0"/><stop offset="0.5" stop-color="#89289b"/><stop offset="1" stop-color="#e72e32"/></linearGradient></defs>
<rect x="296.2" y="546.2" width="7.9" height="39.1" fill="url(#g1595)"/>
<line x1="304.1" y1="546.7" x2="305.2" y2="546.7" stroke="#333" stroke-width="0.4"/>
<text x="306" y="548.2" font-size="4.3" text-anchor="start" fill="#222" stroke="#222" stroke-width="0.05">0.00000300</text>
<line x1="304.1" y1="554.7" x2="305.2" y2="554.7" stroke="#333" stroke-width="0.4"/>
<text x="306" y="556.2" font-size="4.3" text-anchor="start" fill="#222" stroke="#222" stroke-width="0.05">0.00000250</text>
<line x1="304.1" y1="562.9" x2="305.2" y2="562.9" stroke="#333" stroke-width="0.4"/>
<text x="306" y="564.4" font-size="4.3" text-anchor="start" fill="#222" stroke="#222" stroke-width="0.05">0.00000200</text>
<line x1="304.1" y1="571.1" x2="305.2" y2="571.1" stroke="#333" stroke-width="0.4"/>
<text x="306" y="572.6" font-size="4.3" text-anchor="start" fill="#222" stroke="#222" stroke-width="0.05">0.00000150</text>
<line x1="304.1" y1="578.9" x2="305.2" y2="578.9" stroke="#333" stroke-width="0.4"/>
<text x="306" y="580.4" font-size="4.3" text-anchor="start" fill="#222" stroke="#222" stroke-width="0.05">0.00000100</text>
<text x="294.7" y="598.6" font-size="4.6" text-anchor="start" font-weight="bold" fill="#000" stroke="#000" stroke-width="0.05">Number</text>
<circle cx="296.8" cy="604.7" r="1.3" fill="#000"/>
<text x="303.4" y="606.2" font-size="4.3" text-anchor="start" fill="#222" stroke="#222" stroke-width="0.05">7</text>
<circle cx="296.8" cy="612" r="2.4" fill="#000"/>
<text x="303.4" y="613.5" font-size="4.3" text-anchor="start" fill="#222" stroke="#222" stroke-width="0.05">38</text>
<circle cx="296.8" cy="619.6" r="3" fill="#000"/>
<text x="303.4" y="621.1" font-size="4.3" text-anchor="start" fill="#222" stroke="#222" stroke-width="0.05">68</text>
<circle cx="296.8" cy="628.4" r="3.7" fill="#000"/>
<text x="303.4" y="629.9" font-size="4.3" text-anchor="start" fill="#222" stroke="#222" stroke-width="0.05">100</text>
<text x="356.4" y="492.9" font-size="22" text-anchor="start" fill="#000">G</text>
<line x1="495.8" y1="501.7" x2="495.8" y2="689.7" stroke="#e6e6e6" stroke-width="0.6"/>
<line x1="508.5" y1="501.7" x2="508.5" y2="689.7" stroke="#e6e6e6" stroke-width="0.6"/>
<line x1="521.2" y1="501.7" x2="521.2" y2="689.7" stroke="#e6e6e6" stroke-width="0.6"/>
<line x1="533.9" y1="501.7" x2="533.9" y2="689.7" stroke="#e6e6e6" stroke-width="0.6"/>
<line x1="546.6" y1="501.7" x2="546.6" y2="689.7" stroke="#e6e6e6" stroke-width="0.6"/>
<line x1="559.3" y1="501.7" x2="559.3" y2="689.7" stroke="#e6e6e6" stroke-width="0.6"/>
<line x1="572" y1="501.7" x2="572" y2="689.7" stroke="#e6e6e6" stroke-width="0.6"/>
<line x1="584.7" y1="501.7" x2="584.7" y2="689.7" stroke="#e6e6e6" stroke-width="0.6"/>
<line x1="597.4" y1="501.7" x2="597.4" y2="689.7" stroke="#e6e6e6" stroke-width="0.6"/>
<line x1="610.1" y1="501.7" x2="610.1" y2="689.7" stroke="#e6e6e6" stroke-width="0.6"/>
<line x1="622.8" y1="501.7" x2="622.8" y2="689.7" stroke="#e6e6e6" stroke-width="0.6"/>
<line x1="483.1" y1="506.4" x2="635.5" y2="506.4" stroke="#e6e6e6" stroke-width="0.6"/>
<line x1="483.1" y1="515.81" x2="635.5" y2="515.81" stroke="#e6e6e6" stroke-width="0.6"/>
<line x1="483.1" y1="525.23" x2="635.5" y2="525.23" stroke="#e6e6e6" stroke-width="0.6"/>
<line x1="483.1" y1="534.64" x2="635.5" y2="534.64" stroke="#e6e6e6" stroke-width="0.6"/>
<line x1="483.1" y1="544.05" x2="635.5" y2="544.05" stroke="#e6e6e6" stroke-width="0.6"/>
<line x1="483.1" y1="553.46" x2="635.5" y2="553.46" stroke="#e6e6e6" stroke-width="0.6"/>
<line x1="483.1" y1="562.88" x2="635.5" y2="562.88" stroke="#e6e6e6" stroke-width="0.6"/>
<line x1="483.1" y1="572.29" x2="635.5" y2="572.29" stroke="#e6e6e6" stroke-width="0.6"/>
<line x1="483.1" y1="581.7" x2="635.5" y2="581.7" stroke="#e6e6e6" stroke-width="0.6"/>
<line x1="483.1" y1="591.12" x2="635.5" y2="591.12" stroke="#e6e6e6" stroke-width="0.6"/>
<line x1="483.1" y1="600.53" x2="635.5" y2="600.53" stroke="#e6e6e6" stroke-width="0.6"/>
<line x1="483.1" y1="609.94" x2="635.5" y2="609.94" stroke="#e6e6e6" stroke-width="0.6"/>
<line x1="483.1" y1="619.36" x2="635.5" y2="619.36" stroke="#e6e6e6" stroke-width="0.6"/>
<line x1="483.1" y1="628.77" x2="635.5" y2="628.77" stroke="#e6e6e6" stroke-width="0.6"/>
<line x1="483.1" y1="638.18" x2="635.5" y2="638.18" stroke="#e6e6e6" stroke-width="0.6"/>
<line x1="483.1" y1="647.6" x2="635.5" y2="647.6" stroke="#e6e6e6" stroke-width="0.6"/>
<line x1="483.1" y1="657.01" x2="635.5" y2="657.01" stroke="#e6e6e6" stroke-width="0.6"/>
<line x1="483.1" y1="666.42" x2="635.5" y2="666.42" stroke="#e6e6e6" stroke-width="0.6"/>
<line x1="483.1" y1="675.83" x2="635.5" y2="675.83" stroke="#e6e6e6" stroke-width="0.6"/>
<line x1="483.1" y1="685.25" x2="635.5" y2="685.25" stroke="#e6e6e6" stroke-width="0.6"/>
<circle cx="519.17" cy="506.4" r="1.3" fill="#dc2d3f"/>
<circle cx="622.8" cy="515.81" r="1.2" fill="#df2e3a"/>
<circle cx="508.12" cy="525.23" r="1.5" fill="#d02d4b"/>
<circle cx="501.13" cy="534.64" r="2" fill="#c52c58"/>
<circle cx="580.89" cy="544.05" r="1.2" fill="#d42d47"/>
<circle cx="498.21" cy="553.46" r="4.3" fill="#be2b60"/>
<circle cx="504.56" cy="562.88" r="1.6" fill="#be2b60"/>
<circle cx="521.2" cy="572.29" r="1.3" fill="#af2a71"/>
<circle cx="505.96" cy="581.7" r="1.6" fill="#a52a7c"/>
<circle cx="510.02" cy="591.12" r="1.5" fill="#9c2986"/>
<circle cx="559.3" cy="600.53" r="1.2" fill="#98298a"/>
<circle cx="559.3" cy="609.94" r="1.2" fill="#98298a"/>
<circle cx="559.3" cy="619.36" r="1.2" fill="#98298a"/>
<circle cx="509.13" cy="628.77" r="1.5" fill="#89289b"/>
<circle cx="509.13" cy="638.18" r="1.5" fill="#89289b"/>
<circle cx="507.74" cy="647.6" r="1.6" fill="#69369d"/>
<circle cx="514.98" cy="657.01" r="1.5" fill="#5a3d9e"/>
<circle cx="504.44" cy="666.42" r="1.6" fill="#563e9e"/>
<circle cx="507.36" cy="675.83" r="1.6" fill="#52409e"/>
<circle cx="514.09" cy="685.25" r="1.5" fill="#52409e"/>
<rect x="483.1" y="501.7" width="152.4" height="188" fill="none" stroke="#6e6e6e" stroke-width="0.9"/>
<line x1="481.1" y1="506.4" x2="483.1" y2="506.4" stroke="#444" stroke-width="0.6"/>
<text x="479.4" y="508.15" font-size="4.64" text-anchor="end" fill="#1a1a1a" stroke="#1a1a1a" stroke-width="0.05">regulation of axon extension involved in axon guidan...</text>
<line x1="481.1" y1="515.81" x2="483.1" y2="515.81" stroke="#444" stroke-width="0.6"/>
<text x="479.4" y="517.56" font-size="4.64" text-anchor="end" fill="#1a1a1a" stroke="#1a1a1a" stroke-width="0.05">septin cytoskeleton organization</text>
<line x1="481.1" y1="525.23" x2="483.1" y2="525.23" stroke="#444" stroke-width="0.6"/>
<text x="479.4" y="526.98" font-size="4.64" text-anchor="end" fill="#1a1a1a" stroke="#1a1a1a" stroke-width="0.05">regulation of axon extension</text>
<line x1="481.1" y1="534.64" x2="483.1" y2="534.64" stroke="#444" stroke-width="0.6"/>
<text x="479.4" y="536.39" font-size="4.64" text-anchor="end" fill="#1a1a1a" stroke="#1a1a1a" stroke-width="0.05">response to virus</text>
<line x1="481.1" y1="544.05" x2="483.1" y2="544.05" stroke="#444" stroke-width="0.6"/>
<text x="479.4" y="545.8" font-size="4.64" text-anchor="end" fill="#1a1a1a" stroke="#1a1a1a" stroke-width="0.05">lateral motor column neuron migration</text>
<line x1="481.1" y1="553.46" x2="483.1" y2="553.46" stroke="#444" stroke-width="0.6"/>
<text x="479.4" y="555.21" font-size="4.64" text-anchor="end" fill="#1a1a1a" stroke="#1a1a1a" stroke-width="0.05">protein binding</text>
<line x1="481.1" y1="562.88" x2="483.1" y2="562.88" stroke="#444" stroke-width="0.6"/>
<text x="479.4" y="564.63" font-size="4.64" text-anchor="end" fill="#1a1a1a" stroke="#1a1a1a" stroke-width="0.05">regulation of axonogenesis</text>
<line x1="481.1" y1="572.29" x2="483.1" y2="572.29" stroke="#444" stroke-width="0.6"/>
<text x="479.4" y="574.04" font-size="4.64" text-anchor="end" fill="#1a1a1a" stroke="#1a1a1a" stroke-width="0.05">magnesium ion transport</text>
<line x1="481.1" y1="581.7" x2="483.1" y2="581.7" stroke="#444" stroke-width="0.6"/>
<text x="479.4" y="583.45" font-size="4.64" text-anchor="end" fill="#1a1a1a" stroke="#1a1a1a" stroke-width="0.05">regulation of extent of cell growth</text>
<line x1="481.1" y1="591.12" x2="483.1" y2="591.12" stroke="#444" stroke-width="0.6"/>
<text x="479.4" y="592.87" font-size="4.64" text-anchor="end" fill="#1a1a1a" stroke="#1a1a1a" stroke-width="0.05">negative regulation of axon extension</text>
<line x1="481.1" y1="600.53" x2="483.1" y2="600.53" stroke="#444" stroke-width="0.6"/>
<text x="479.4" y="602.28" font-size="4.64" text-anchor="end" fill="#1a1a1a" stroke="#1a1a1a" stroke-width="0.05">spinal cord motor neuron migration</text>
<line x1="481.1" y1="609.94" x2="483.1" y2="609.94" stroke="#444" stroke-width="0.6"/>
<text x="479.4" y="611.69" font-size="4.64" text-anchor="end" fill="#1a1a1a" stroke="#1a1a1a" stroke-width="0.05">negative regulation of cytoplasmic translation</text>
<line x1="481.1" y1="619.36" x2="483.1" y2="619.36" stroke="#444" stroke-width="0.6"/>
<text x="479.4" y="621.11" font-size="4.64" text-anchor="end" fill="#1a1a1a" stroke="#1a1a1a" stroke-width="0.05">motor neuron migration</text>
<line x1="481.1" y1="628.77" x2="483.1" y2="628.77" stroke="#444" stroke-width="0.6"/>
<text x="479.4" y="630.52" font-size="4.64" text-anchor="end" fill="#1a1a1a" stroke="#1a1a1a" stroke-width="0.05">negative regulation of cysteine-type endopeptidase ...</text>
<line x1="481.1" y1="638.18" x2="483.1" y2="638.18" stroke="#444" stroke-width="0.6"/>
<text x="479.4" y="639.93" font-size="4.64" text-anchor="end" fill="#1a1a1a" stroke="#1a1a1a" stroke-width="0.05">negative regulation of cysteine-type endopeptidase ...</text>
<line x1="481.1" y1="647.6" x2="483.1" y2="647.6" stroke="#444" stroke-width="0.6"/>
<text x="479.4" y="649.35" font-size="4.64" text-anchor="end" fill="#1a1a1a" stroke="#1a1a1a" stroke-width="0.05">negative regulation of axonogenesis</text>
<line x1="481.1" y1="657.01" x2="483.1" y2="657.01" stroke="#444" stroke-width="0.6"/>
<text x="479.4" y="658.76" font-size="4.64" text-anchor="end" fill="#1a1a1a" stroke="#1a1a1a" stroke-width="0.05">central nervous system neuron axonogenesis</text>
<line x1="481.1" y1="666.42" x2="483.1" y2="666.42" stroke="#444" stroke-width="0.6"/>
<text x="479.4" y="668.17" font-size="4.64" text-anchor="end" fill="#1a1a1a" stroke="#1a1a1a" stroke-width="0.05">cellular response to tumor necrosis factor</text>
<line x1="481.1" y1="675.83" x2="483.1" y2="675.83" stroke="#444" stroke-width="0.6"/>
<text x="479.4" y="677.58" font-size="4.64" text-anchor="end" fill="#1a1a1a" stroke="#1a1a1a" stroke-width="0.05">cartilage development</text>
<line x1="481.1" y1="685.25" x2="483.1" y2="685.25" stroke="#444" stroke-width="0.6"/>
<text x="479.4" y="687" font-size="4.64" text-anchor="end" fill="#1a1a1a" stroke="#1a1a1a" stroke-width="0.05">negative regulation of axon extension involved in ax...</text>
<line x1="483.1" y1="689.7" x2="483.1" y2="691.5" stroke="#444" stroke-width="0.6"/>
<text x="483.1" y="696.6" font-size="4.5" text-anchor="middle" fill="#222" stroke="#222" stroke-width="0.05">-0.1</text>
<line x1="495.8" y1="689.7" x2="495.8" y2="691.5" stroke="#444" stroke-width="0.6"/>
<text x="495.8" y="696.6" font-size="4.5" text-anchor="middle" fill="#222" stroke="#222" stroke-width="0.05">0</text>
<line x1="508.5" y1="689.7" x2="508.5" y2="691.5" stroke="#444" stroke-width="0.6"/>
<text x="508.5" y="696.6" font-size="4.5" text-anchor="middle" fill="#222" stroke="#222" stroke-width="0.05">0.1</text>
<line x1="521.2" y1="689.7" x2="521.2" y2="691.5" stroke="#444" stroke-width="0.6"/>
<text x="521.2" y="696.6" font-size="4.5" text-anchor="middle" fill="#222" stroke="#222" stroke-width="0.05">0.2</text>
<line x1="533.9" y1="689.7" x2="533.9" y2="691.5" stroke="#444" stroke-width="0.6"/>
<text x="533.9" y="696.6" font-size="4.5" text-anchor="middle" fill="#222" stroke="#222" stroke-width="0.05">0.3</text>
<line x1="546.6" y1="689.7" x2="546.6" y2="691.5" stroke="#444" stroke-width="0.6"/>
<text x="546.6" y="696.6" font-size="4.5" text-anchor="middle" fill="#222" stroke="#222" stroke-width="0.05">0.4</text>
<line x1="559.3" y1="689.7" x2="559.3" y2="691.5" stroke="#444" stroke-width="0.6"/>
<text x="559.3" y="696.6" font-size="4.5" text-anchor="middle" fill="#222" stroke="#222" stroke-width="0.05">0.5</text>
<line x1="572" y1="689.7" x2="572" y2="691.5" stroke="#444" stroke-width="0.6"/>
<text x="572" y="696.6" font-size="4.5" text-anchor="middle" fill="#222" stroke="#222" stroke-width="0.05">0.6</text>
<line x1="584.7" y1="689.7" x2="584.7" y2="691.5" stroke="#444" stroke-width="0.6"/>
<text x="584.7" y="696.6" font-size="4.5" text-anchor="middle" fill="#222" stroke="#222" stroke-width="0.05">0.7</text>
<line x1="597.4" y1="689.7" x2="597.4" y2="691.5" stroke="#444" stroke-width="0.6"/>
<text x="597.4" y="696.6" font-size="4.5" text-anchor="middle" fill="#222" stroke="#222" stroke-width="0.05">0.8</text>
<line x1="610.1" y1="689.7" x2="610.1" y2="691.5" stroke="#444" stroke-width="0.6"/>
<text x="610.1" y="696.6" font-size="4.5" text-anchor="middle" fill="#222" stroke="#222" stroke-width="0.05">0.9</text>
<line x1="622.8" y1="689.7" x2="622.8" y2="691.5" stroke="#444" stroke-width="0.6"/>
<text x="622.8" y="696.6" font-size="4.5" text-anchor="middle" fill="#222" stroke="#222" stroke-width="0.05">1</text>
<line x1="635.5" y1="689.7" x2="635.5" y2="691.5" stroke="#444" stroke-width="0.6"/>
<text x="635.5" y="696.6" font-size="4.5" text-anchor="middle" fill="#222" stroke="#222" stroke-width="0.05">1.1</text>
<text x="448.6" y="492.9" font-size="10.5" text-anchor="start" fill="#000">GO enrichment analysis (OE vs OE-AMH)</text>
<text x="364" y="596.7" font-size="5.3" text-anchor="middle" font-weight="bold" fill="#000" transform="rotate(-90 364 596.7)" stroke="#000" stroke-width="0.05">GO term</text>
<text x="559.3" y="703.2" font-size="5.45" text-anchor="middle" font-weight="bold" fill="#000" stroke="#000" stroke-width="0.05">Rich factor</text>
<text x="642.2" y="540.6" font-size="4.6" text-anchor="start" font-weight="bold" fill="#000" stroke="#000" stroke-width="0.05">Pvalue</text>
<defs><linearGradient id="g5332" x1="0" y1="0" x2="0" y2="1"><stop offset="0" stop-color="#3a4ba0"/><stop offset="0.5" stop-color="#89289b"/><stop offset="1" stop-color="#e72e32"/></linearGradient></defs>
<rect x="644.1" y="546.2" width="7.9" height="39.4" fill="url(#g5332)"/>
<line x1="652" y1="553.2" x2="653.1" y2="553.2" stroke="#333" stroke-width="0.4"/>
<text x="653.9" y="554.7" font-size="4.3" text-anchor="start" fill="#222" stroke="#222" stroke-width="0.05">0.00150</text>
<line x1="652" y1="563.9" x2="653.1" y2="563.9" stroke="#333" stroke-width="0.4"/>
<text x="653.9" y="565.4" font-size="4.3" text-anchor="start" fill="#222" stroke="#222" stroke-width="0.05">0.00100</text>
<line x1="652" y1="574.5" x2="653.1" y2="574.5" stroke="#333" stroke-width="0.4"/>
<text x="653.9" y="576" font-size="4.3" text-anchor="start" fill="#222" stroke="#222" stroke-width="0.05">0.000500</text>
<line x1="652" y1="585.3" x2="653.1" y2="585.3" stroke="#333" stroke-width="0.4"/>
<text x="653.9" y="586.8" font-size="4.3" text-anchor="start" fill="#222" stroke="#222" stroke-width="0.05">0.00</text>
<text x="642.2" y="598.6" font-size="4.6" text-anchor="start" font-weight="bold" fill="#000" stroke="#000" stroke-width="0.05">Number</text>
<circle cx="644.7" cy="604.6" r="1.2" fill="#000"/>
<text x="651.3" y="606.1" font-size="4.3" text-anchor="start" fill="#222" stroke="#222" stroke-width="0.05">2</text>
<circle cx="644.7" cy="612" r="2.3" fill="#000"/>
<text x="651.3" y="613.5" font-size="4.3" text-anchor="start" fill="#222" stroke="#222" stroke-width="0.05">32</text>
<circle cx="644.7" cy="619.4" r="3" fill="#000"/>
<text x="651.3" y="620.9" font-size="4.3" text-anchor="start" fill="#222" stroke="#222" stroke-width="0.05">61</text>
<circle cx="644.7" cy="628" r="3.7" fill="#000"/>
<text x="651.3" y="629.5" font-size="4.3" text-anchor="start" fill="#222" stroke="#222" stroke-width="0.05">92</text>
<text x="1.7" y="733.9" font-size="22" text-anchor="start" fill="#000">H</text>
<line x1="139.22" y1="747.9" x2="139.22" y2="936.1" stroke="#e6e6e6" stroke-width="0.6"/>
<line x1="156.04" y1="747.9" x2="156.04" y2="936.1" stroke="#e6e6e6" stroke-width="0.6"/>
<line x1="172.86" y1="747.9" x2="172.86" y2="936.1" stroke="#e6e6e6" stroke-width="0.6"/>
<line x1="189.68" y1="747.9" x2="189.68" y2="936.1" stroke="#e6e6e6" stroke-width="0.6"/>
<line x1="206.5" y1="747.9" x2="206.5" y2="936.1" stroke="#e6e6e6" stroke-width="0.6"/>
<line x1="223.32" y1="747.9" x2="223.32" y2="936.1" stroke="#e6e6e6" stroke-width="0.6"/>
<line x1="240.14" y1="747.9" x2="240.14" y2="936.1" stroke="#e6e6e6" stroke-width="0.6"/>
<line x1="256.96" y1="747.9" x2="256.96" y2="936.1" stroke="#e6e6e6" stroke-width="0.6"/>
<line x1="273.78" y1="747.9" x2="273.78" y2="936.1" stroke="#e6e6e6" stroke-width="0.6"/>
<line x1="122.4" y1="752.6" x2="290.6" y2="752.6" stroke="#e6e6e6" stroke-width="0.6"/>
<line x1="122.4" y1="762" x2="290.6" y2="762" stroke="#e6e6e6" stroke-width="0.6"/>
<line x1="122.4" y1="771.4" x2="290.6" y2="771.4" stroke="#e6e6e6" stroke-width="0.6"/>
<line x1="122.4" y1="780.79" x2="290.6" y2="780.79" stroke="#e6e6e6" stroke-width="0.6"/>
<line x1="122.4" y1="790.19" x2="290.6" y2="790.19" stroke="#e6e6e6" stroke-width="0.6"/>
<line x1="122.4" y1="799.59" x2="290.6" y2="799.59" stroke="#e6e6e6" stroke-width="0.6"/>
<line x1="122.4" y1="808.99" x2="290.6" y2="808.99" stroke="#e6e6e6" stroke-width="0.6"/>
<line x1="122.4" y1="818.39" x2="290.6" y2="818.39" stroke="#e6e6e6" stroke-width="0.6"/>
<line x1="122.4" y1="827.78" x2="290.6" y2="827.78" stroke="#e6e6e6" stroke-width="0.6"/>
<line x1="122.4" y1="837.18" x2="290.6" y2="837.18" stroke="#e6e6e6" stroke-width="0.6"/>
<line x1="122.4" y1="846.58" x2="290.6" y2="846.58" stroke="#e6e6e6" stroke-width="0.6"/>
<line x1="122.4" y1="855.98" x2="290.6" y2="855.98" stroke="#e6e6e6" stroke-width="0.6"/>
<line x1="122.4" y1="865.38" x2="290.6" y2="865.38" stroke="#e6e6e6" stroke-width="0.6"/>
<line x1="122.4" y1="874.77" x2="290.6" y2="874.77" stroke="#e6e6e6" stroke-width="0.6"/>
<line x1="122.4" y1="884.17" x2="290.6" y2="884.17" stroke="#e6e6e6" stroke-width="0.6"/>
<line x1="122.4" y1="893.57" x2="290.6" y2="893.57" stroke="#e6e6e6" stroke-width="0.6"/>
<line x1="122.4" y1="902.97" x2="290.6" y2="902.97" stroke="#e6e6e6" stroke-width="0.6"/>
<line x1="122.4" y1="912.37" x2="290.6" y2="912.37" stroke="#e6e6e6" stroke-width="0.6"/>
<line x1="122.4" y1="921.76" x2="290.6" y2="921.76" stroke="#e6e6e6" stroke-width="0.6"/>
<line x1="122.4" y1="931.16" x2="290.6" y2="931.16" stroke="#e6e6e6" stroke-width="0.6"/>
<circle cx="254.94" cy="752.6" r="2.3" fill="#e72e32"/>
<circle cx="185.14" cy="762" r="3" fill="#e52e34"/>
<circle cx="234.08" cy="771.4" r="2" fill="#e32e36"/>
<circle cx="229.04" cy="780.79" r="2" fill="#e12e38"/>
<circle cx="234.59" cy="790.19" r="2" fill="#e32e36"/>
<circle cx="198.09" cy="799.59" r="2.3" fill="#df2e3a"/>
<circle cx="164.45" cy="808.99" r="3.2" fill="#de2d3c"/>
<circle cx="204.15" cy="818.39" r="2" fill="#da2d41"/>
<circle cx="274.45" cy="827.78" r="1" fill="#dc2d3f"/>
<circle cx="205.83" cy="837.18" r="2" fill="#d82d43"/>
<circle cx="144.1" cy="846.58" r="3.8" fill="#c52c58"/>
<circle cx="186.32" cy="855.98" r="2.5" fill="#cb2c52"/>
<circle cx="189.68" cy="865.38" r="2.3" fill="#c72c56"/>
<circle cx="183.79" cy="874.77" r="2.3" fill="#be2b60"/>
<circle cx="172.52" cy="884.17" r="2.7" fill="#ab2a75"/>
<circle cx="232.23" cy="893.57" r="1.2" fill="#5d3c9e"/>
<circle cx="220.46" cy="902.97" r="1.3" fill="#5a3d9e"/>
<circle cx="191.53" cy="912.37" r="2" fill="#52409e"/>
<circle cx="195.06" cy="921.76" r="1.8" fill="#4d439f"/>
<circle cx="176.56" cy="931.16" r="2.3" fill="#47459f"/>
<rect x="122.4" y="747.9" width="168.2" height="188.2" fill="none" stroke="#6e6e6e" stroke-width="0.9"/>
<line x1="120.4" y1="752.6" x2="122.4" y2="752.6" stroke="#444" stroke-width="0.6"/>
<text x="118.7" y="754.35" font-size="4.64" text-anchor="end" fill="#1a1a1a" stroke="#1a1a1a" stroke-width="0.05">Cell cycle</text>
<line x1="120.4" y1="762" x2="122.4" y2="762" stroke="#444" stroke-width="0.6"/>
<text x="118.7" y="763.75" font-size="4.64" text-anchor="end" fill="#1a1a1a" stroke="#1a1a1a" stroke-width="0.05">MAPK signaling pathway</text>
<line x1="120.4" y1="771.4" x2="122.4" y2="771.4" stroke="#444" stroke-width="0.6"/>
<text x="118.7" y="773.15" font-size="4.64" text-anchor="end" fill="#1a1a1a" stroke="#1a1a1a" stroke-width="0.05">Sphingolipid signaling pathway</text>
<line x1="120.4" y1="780.79" x2="122.4" y2="780.79" stroke="#444" stroke-width="0.6"/>
<text x="118.7" y="782.54" font-size="4.64" text-anchor="end" fill="#1a1a1a" stroke="#1a1a1a" stroke-width="0.05">Small cell lung cancer</text>
<line x1="120.4" y1="790.19" x2="122.4" y2="790.19" stroke="#444" stroke-width="0.6"/>
<text x="118.7" y="791.94" font-size="4.64" text-anchor="end" fill="#1a1a1a" stroke="#1a1a1a" stroke-width="0.05">AGE-RAGE signaling pathway in diabetic co...</text>
<line x1="120.4" y1="799.59" x2="122.4" y2="799.59" stroke="#444" stroke-width="0.6"/>
<text x="118.7" y="801.34" font-size="4.64" text-anchor="end" fill="#1a1a1a" stroke="#1a1a1a" stroke-width="0.05">Focal adhesion</text>
<line x1="120.4" y1="808.99" x2="122.4" y2="808.99" stroke="#444" stroke-width="0.6"/>
<text x="118.7" y="810.74" font-size="4.64" text-anchor="end" fill="#1a1a1a" stroke="#1a1a1a" stroke-width="0.05">Human papillomavirus infection</text>
<line x1="120.4" y1="818.39" x2="122.4" y2="818.39" stroke="#444" stroke-width="0.6"/>
<text x="118.7" y="820.14" font-size="4.64" text-anchor="end" fill="#1a1a1a" stroke="#1a1a1a" stroke-width="0.05">Breast cancer</text>
<line x1="120.4" y1="827.78" x2="122.4" y2="827.78" stroke="#444" stroke-width="0.6"/>
<text x="118.7" y="829.53" font-size="4.64" text-anchor="end" fill="#1a1a1a" stroke="#1a1a1a" stroke-width="0.05">Glutathione metabolism</text>
<line x1="120.4" y1="837.18" x2="122.4" y2="837.18" stroke="#444" stroke-width="0.6"/>
<text x="118.7" y="838.93" font-size="4.64" text-anchor="end" fill="#1a1a1a" stroke="#1a1a1a" stroke-width="0.05">Fluid shear stress and atherosclerosis</text>
<line x1="120.4" y1="846.58" x2="122.4" y2="846.58" stroke="#444" stroke-width="0.6"/>
<text x="118.7" y="848.33" font-size="4.64" text-anchor="end" fill="#1a1a1a" stroke="#1a1a1a" stroke-width="0.05">Pathways in cancer</text>
<line x1="120.4" y1="855.98" x2="122.4" y2="855.98" stroke="#444" stroke-width="0.6"/>
<text x="118.7" y="857.73" font-size="4.64" text-anchor="end" fill="#1a1a1a" stroke="#1a1a1a" stroke-width="0.05">MicroRNAs in cancer</text>
<line x1="120.4" y1="865.38" x2="122.4" y2="865.38" stroke="#444" stroke-width="0.6"/>
<text x="118.7" y="867.13" font-size="4.64" text-anchor="end" fill="#1a1a1a" stroke="#1a1a1a" stroke-width="0.05">Hepatocellular carcinoma</text>
<line x1="120.4" y1="874.77" x2="122.4" y2="874.77" stroke="#444" stroke-width="0.6"/>
<text x="118.7" y="876.52" font-size="4.64" text-anchor="end" fill="#1a1a1a" stroke="#1a1a1a" stroke-width="0.05">Tight junction</text>
<line x1="120.4" y1="884.17" x2="122.4" y2="884.17" stroke="#444" stroke-width="0.6"/>
<text x="118.7" y="885.92" font-size="4.64" text-anchor="end" fill="#1a1a1a" stroke="#1a1a1a" stroke-width="0.05">Viral carcinogenesis</text>
<line x1="120.4" y1="893.57" x2="122.4" y2="893.57" stroke="#444" stroke-width="0.6"/>
<text x="118.7" y="895.32" font-size="4.64" text-anchor="end" fill="#1a1a1a" stroke="#1a1a1a" stroke-width="0.05">Non-small cell lung cancer</text>
<line x1="120.4" y1="902.97" x2="122.4" y2="902.97" stroke="#444" stroke-width="0.6"/>
<text x="118.7" y="904.72" font-size="4.64" text-anchor="end" fill="#1a1a1a" stroke="#1a1a1a" stroke-width="0.05">Prostate cancer</text>
<line x1="120.4" y1="912.37" x2="122.4" y2="912.37" stroke="#444" stroke-width="0.6"/>
<text x="118.7" y="914.12" font-size="4.64" text-anchor="end" fill="#1a1a1a" stroke="#1a1a1a" stroke-width="0.05">Purine metabolism</text>
<line x1="120.4" y1="921.76" x2="122.4" y2="921.76" stroke="#444" stroke-width="0.6"/>
<text x="118.7" y="923.51" font-size="4.64" text-anchor="end" fill="#1a1a1a" stroke="#1a1a1a" stroke-width="0.05">FoxO signaling pathway</text>
<line x1="120.4" y1="931.16" x2="122.4" y2="931.16" stroke="#444" stroke-width="0.6"/>
<text x="118.7" y="932.91" font-size="4.64" text-anchor="end" fill="#1a1a1a" stroke="#1a1a1a" stroke-width="0.05">Cellular senescence</text>
<line x1="122.4" y1="936.1" x2="122.4" y2="937.9" stroke="#444" stroke-width="0.6"/>
<text x="122.4" y="943" font-size="4.5" text-anchor="middle" fill="#222" stroke="#222" stroke-width="0.05"></text>
<line x1="139.22" y1="936.1" x2="139.22" y2="937.9" stroke="#444" stroke-width="0.6"/>
<text x="139.22" y="943" font-size="4.5" text-anchor="middle" fill="#222" stroke="#222" stroke-width="0.05">0.08</text>
<line x1="156.04" y1="936.1" x2="156.04" y2="937.9" stroke="#444" stroke-width="0.6"/>
<text x="156.04" y="943" font-size="4.5" text-anchor="middle" fill="#222" stroke="#222" stroke-width="0.05">0.09</text>
<line x1="172.86" y1="936.1" x2="172.86" y2="937.9" stroke="#444" stroke-width="0.6"/>
<text x="172.86" y="943" font-size="4.5" text-anchor="middle" fill="#222" stroke="#222" stroke-width="0.05">0.1</text>
<line x1="189.68" y1="936.1" x2="189.68" y2="937.9" stroke="#444" stroke-width="0.6"/>
<text x="189.68" y="943" font-size="4.5" text-anchor="middle" fill="#222" stroke="#222" stroke-width="0.05">0.11</text>
<line x1="206.5" y1="936.1" x2="206.5" y2="937.9" stroke="#444" stroke-width="0.6"/>
<text x="206.5" y="943" font-size="4.5" text-anchor="middle" fill="#222" stroke="#222" stroke-width="0.05">0.12</text>
<line x1="223.32" y1="936.1" x2="223.32" y2="937.9" stroke="#444" stroke-width="0.6"/>
<text x="223.32" y="943" font-size="4.5" text-anchor="middle" fill="#222" stroke="#222" stroke-width="0.05">0.13</text>
<line x1="240.14" y1="936.1" x2="240.14" y2="937.9" stroke="#444" stroke-width="0.6"/>
<text x="240.14" y="943" font-size="4.5" text-anchor="middle" fill="#222" stroke="#222" stroke-width="0.05">0.14</text>
<line x1="256.96" y1="936.1" x2="256.96" y2="937.9" stroke="#444" stroke-width="0.6"/>
<text x="256.96" y="943" font-size="4.5" text-anchor="middle" fill="#222" stroke="#222" stroke-width="0.05">0.15</text>
<line x1="273.78" y1="936.1" x2="273.78" y2="937.9" stroke="#444" stroke-width="0.6"/>
<text x="273.78" y="943" font-size="4.5" text-anchor="middle" fill="#222" stroke="#222" stroke-width="0.05">0.16</text>
<line x1="290.6" y1="936.1" x2="290.6" y2="937.9" stroke="#444" stroke-width="0.6"/>
<text x="290.6" y="943" font-size="4.5" text-anchor="middle" fill="#222" stroke="#222" stroke-width="0.05">0.17</text>
<text x="101.6" y="739.7" font-size="10.5" text-anchor="start" fill="#000">KEGG enrichment analysis (NC vs SI-AMH)</text>
<text x="19.8" y="843" font-size="5.3" text-anchor="middle" font-weight="bold" fill="#000" transform="rotate(-90 19.8 843)" stroke="#000" stroke-width="0.05">KEGG pathway</text>
<text x="206.5" y="949.6" font-size="5.45" text-anchor="middle" font-weight="bold" fill="#000" stroke="#000" stroke-width="0.05">Rich Factor</text>
<text x="297.4" y="786.6" font-size="4.6" text-anchor="start" font-weight="bold" fill="#000" stroke="#000" stroke-width="0.05">Pvalue</text>
<defs><linearGradient id="g1971" x1="0" y1="0" x2="0" y2="1"><stop offset="0" stop-color="#3a4ba0"/><stop offset="0.5" stop-color="#89289b"/><stop offset="1" stop-color="#e72e32"/></linearGradient></defs>
<rect x="299.2" y="792.6" width="7.9" height="38.3" fill="url(#g1971)"/>
<line x1="307.1" y1="797.6" x2="308.2" y2="797.6" stroke="#333" stroke-width="0.4"/>
<text x="309" y="799.1" font-size="4.3" text-anchor="start" fill="#222" stroke="#222" stroke-width="0.05">0.00200</text>
<line x1="307.1" y1="805.8" x2="308.2" y2="805.8" stroke="#333" stroke-width="0.4"/>
<text x="309" y="807.3" font-size="4.3" text-anchor="start" fill="#222" stroke="#222" stroke-width="0.05">0.00150</text>
<line x1="307.1" y1="815.1" x2="308.2" y2="815.1" stroke="#333" stroke-width="0.4"/>
<text x="309" y="816.6" font-size="4.3" text-anchor="start" fill="#222" stroke="#222" stroke-width="0.05">0.00100</text>
<line x1="307.1" y1="823" x2="308.2" y2="823" stroke="#333" stroke-width="0.4"/>
<text x="309" y="824.5" font-size="4.3" text-anchor="start" fill="#222" stroke="#222" stroke-width="0.05">0.000500</text>
<line x1="307.1" y1="831.2" x2="308.2" y2="831.2" stroke="#333" stroke-width="0.4"/>
<text x="309" y="832.7" font-size="4.3" text-anchor="start" fill="#222" stroke="#222" stroke-width="0.05">0.00</text>
<text x="297.4" y="844.8" font-size="4.6" text-anchor="start" font-weight="bold" fill="#000" stroke="#000" stroke-width="0.05">Number</text>
<circle cx="299.8" cy="850.9" r="1.2" fill="#000"/>
<text x="306.4" y="852.4" font-size="4.3" text-anchor="start" fill="#222" stroke="#222" stroke-width="0.05">13</text>
<circle cx="299.8" cy="857.3" r="2.1" fill="#000"/>
<text x="306.4" y="858.8" font-size="4.3" text-anchor="start" fill="#222" stroke="#222" stroke-width="0.05">30</text>
<circle cx="299.8" cy="865.2" r="2.7" fill="#000"/>
<text x="306.4" y="866.7" font-size="4.3" text-anchor="start" fill="#222" stroke="#222" stroke-width="0.05">46</text>
<circle cx="299.8" cy="874.5" r="3.6" fill="#000"/>
<text x="306.4" y="876" font-size="4.3" text-anchor="start" fill="#222" stroke="#222" stroke-width="0.05">63</text>
<text x="357.9" y="734" font-size="22" text-anchor="start" fill="#000">I</text>
<line x1="483.2" y1="747.6" x2="483.2" y2="936" stroke="#e6e6e6" stroke-width="0.6"/>
<line x1="504.2" y1="747.6" x2="504.2" y2="936" stroke="#e6e6e6" stroke-width="0.6"/>
<line x1="525.2" y1="747.6" x2="525.2" y2="936" stroke="#e6e6e6" stroke-width="0.6"/>
<line x1="546.2" y1="747.6" x2="546.2" y2="936" stroke="#e6e6e6" stroke-width="0.6"/>
<line x1="567.2" y1="747.6" x2="567.2" y2="936" stroke="#e6e6e6" stroke-width="0.6"/>
<line x1="588.2" y1="747.6" x2="588.2" y2="936" stroke="#e6e6e6" stroke-width="0.6"/>
<line x1="609.2" y1="747.6" x2="609.2" y2="936" stroke="#e6e6e6" stroke-width="0.6"/>
<line x1="462.2" y1="761.3" x2="630.2" y2="761.3" stroke="#e6e6e6" stroke-width="0.6"/>
<line x1="462.2" y1="788.18" x2="630.2" y2="788.18" stroke="#e6e6e6" stroke-width="0.6"/>
<line x1="462.2" y1="815.06" x2="630.2" y2="815.06" stroke="#e6e6e6" stroke-width="0.6"/>
<line x1="462.2" y1="841.94" x2="630.2" y2="841.94" stroke="#e6e6e6" stroke-width="0.6"/>
<line x1="462.2" y1="868.82" x2="630.2" y2="868.82" stroke="#e6e6e6" stroke-width="0.6"/>
<line x1="462.2" y1="895.7" x2="630.2" y2="895.7" stroke="#e6e6e6" stroke-width="0.6"/>
<line x1="462.2" y1="922.58" x2="630.2" y2="922.58" stroke="#e6e6e6" stroke-width="0.6"/>
<circle cx="511.76" cy="761.3" r="2.8" fill="#e32e36"/>
<circle cx="616.76" cy="788.18" r="1.8" fill="#df2e3a"/>
<circle cx="486.35" cy="815.06" r="3.5" fill="#de2d3c"/>
<circle cx="516.59" cy="841.94" r="2.2" fill="#b22b6d"/>
<circle cx="588.2" cy="868.82" r="1" fill="#792f9c"/>
<circle cx="497.9" cy="895.7" r="2.2" fill="#66379d"/>
<circle cx="482.36" cy="922.58" r="2.8" fill="#4d439f"/>
<rect x="462.2" y="747.6" width="168" height="188.4" fill="none" stroke="#6e6e6e" stroke-width="0.9"/>
<line x1="460.2" y1="761.3" x2="462.2" y2="761.3" stroke="#444" stroke-width="0.6"/>
<text x="458.5" y="763.05" font-size="4.64" text-anchor="end" fill="#1a1a1a" stroke="#1a1a1a" stroke-width="0.05">RIG-I-like receptor signaling pathway</text>
<line x1="460.2" y1="788.18" x2="462.2" y2="788.18" stroke="#444" stroke-width="0.6"/>
<text x="458.5" y="789.93" font-size="4.64" text-anchor="end" fill="#1a1a1a" stroke="#1a1a1a" stroke-width="0.05">Dorso-ventral axis formation</text>
<line x1="460.2" y1="815.06" x2="462.2" y2="815.06" stroke="#444" stroke-width="0.6"/>
<text x="458.5" y="816.81" font-size="4.64" text-anchor="end" fill="#1a1a1a" stroke="#1a1a1a" stroke-width="0.05">NOD-like receptor signaling pathway</text>
<line x1="460.2" y1="841.94" x2="462.2" y2="841.94" stroke="#444" stroke-width="0.6"/>
<text x="458.5" y="843.69" font-size="4.64" text-anchor="end" fill="#1a1a1a" stroke="#1a1a1a" stroke-width="0.05">Cytosolic DNA-sensing pathway</text>
<line x1="460.2" y1="868.82" x2="462.2" y2="868.82" stroke="#444" stroke-width="0.6"/>
<text x="458.5" y="870.57" font-size="4.64" text-anchor="end" fill="#1a1a1a" stroke="#1a1a1a" stroke-width="0.05">Glycosaminoglycan degradation</text>
<line x1="460.2" y1="895.7" x2="462.2" y2="895.7" stroke="#444" stroke-width="0.6"/>
<text x="458.5" y="897.45" font-size="4.64" text-anchor="end" fill="#1a1a1a" stroke="#1a1a1a" stroke-width="0.05">Phosphatidylinositol signaling system</text>
<line x1="460.2" y1="922.58" x2="462.2" y2="922.58" stroke="#444" stroke-width="0.6"/>
<text x="458.5" y="924.33" font-size="4.64" text-anchor="end" fill="#1a1a1a" stroke="#1a1a1a" stroke-width="0.05">Signaling pathways regulating pluripotency o...</text>
<line x1="462.2" y1="936" x2="462.2" y2="937.8" stroke="#444" stroke-width="0.6"/>
<text x="462.2" y="942.9" font-size="4.5" text-anchor="middle" fill="#222" stroke="#222" stroke-width="0.05">0.02</text>
<line x1="483.2" y1="936" x2="483.2" y2="937.8" stroke="#444" stroke-width="0.6"/>
<text x="483.2" y="942.9" font-size="4.5" text-anchor="middle" fill="#222" stroke="#222" stroke-width="0.05">0.03</text>
<line x1="504.2" y1="936" x2="504.2" y2="937.8" stroke="#444" stroke-width="0.6"/>
<text x="504.2" y="942.9" font-size="4.5" text-anchor="middle" fill="#222" stroke="#222" stroke-width="0.05">0.04</text>
<line x1="525.2" y1="936" x2="525.2" y2="937.8" stroke="#444" stroke-width="0.6"/>
<text x="525.2" y="942.9" font-size="4.5" text-anchor="middle" fill="#222" stroke="#222" stroke-width="0.05">0.05</text>
<line x1="546.2" y1="936" x2="546.2" y2="937.8" stroke="#444" stroke-width="0.6"/>
<text x="546.2" y="942.9" font-size="4.5" text-anchor="middle" fill="#222" stroke="#222" stroke-width="0.05">0.06</text>
<line x1="567.2" y1="936" x2="567.2" y2="937.8" stroke="#444" stroke-width="0.6"/>
<text x="567.2" y="942.9" font-size="4.5" text-anchor="middle" fill="#222" stroke="#222" stroke-width="0.05">0.07</text>
<line x1="588.2" y1="936" x2="588.2" y2="937.8" stroke="#444" stroke-width="0.6"/>
<text x="588.2" y="942.9" font-size="4.5" text-anchor="middle" fill="#222" stroke="#222" stroke-width="0.05">0.08</text>
<line x1="609.2" y1="936" x2="609.2" y2="937.8" stroke="#444" stroke-width="0.6"/>
<text x="609.2" y="942.9" font-size="4.5" text-anchor="middle" fill="#222" stroke="#222" stroke-width="0.05">0.09</text>
<line x1="630.2" y1="936" x2="630.2" y2="937.8" stroke="#444" stroke-width="0.6"/>
<text x="630.2" y="942.9" font-size="4.5" text-anchor="middle" fill="#222" stroke="#222" stroke-width="0.05">0.1</text>
<text x="442.5" y="739.7" font-size="10.5" text-anchor="start" fill="#000">KEGG enrichment analysis (OE vs OE-AMH)</text>
<text x="358.8" y="842.8" font-size="5.3" text-anchor="middle" font-weight="bold" fill="#000" transform="rotate(-90 358.8 842.8)" stroke="#000" stroke-width="0.05">KEGG pathway</text>
<text x="546.2" y="949.4" font-size="5.45" text-anchor="middle" font-weight="bold" fill="#000" stroke="#000" stroke-width="0.05">Rich Factor</text>
<text x="636.9" y="786.4" font-size="4.6" text-anchor="start" font-weight="bold" fill="#000" stroke="#000" stroke-width="0.05">Pvalue</text>
<defs><linearGradient id="g5369" x1="0" y1="0" x2="0" y2="1"><stop offset="0" stop-color="#3a4ba0"/><stop offset="0.5" stop-color="#89289b"/><stop offset="1" stop-color="#e72e32"/></linearGradient></defs>
<rect x="639" y="792.3" width="7.9" height="38.6" fill="url(#g5369)"/>
<line x1="646.9" y1="792.3" x2="648" y2="792.3" stroke="#333" stroke-width="0.4"/>
<text x="648.8" y="793.8" font-size="4.3" text-anchor="start" fill="#222" stroke="#222" stroke-width="0.05">0.0400</text>
<line x1="646.9" y1="802.2" x2="648" y2="802.2" stroke="#333" stroke-width="0.4"/>
<text x="648.8" y="803.7" font-size="4.3" text-anchor="start" fill="#222" stroke="#222" stroke-width="0.05">0.0300</text>
<line x1="646.9" y1="812" x2="648" y2="812" stroke="#333" stroke-width="0.4"/>
<text x="648.8" y="813.5" font-size="4.3" text-anchor="start" fill="#222" stroke="#222" stroke-width="0.05">0.0200</text>
<line x1="646.9" y1="821.4" x2="648" y2="821.4" stroke="#333" stroke-width="0.4"/>
<text x="648.8" y="822.9" font-size="4.3" text-anchor="start" fill="#222" stroke="#222" stroke-width="0.05">0.0100</text>
<line x1="646.9" y1="830.9" x2="648" y2="830.9" stroke="#333" stroke-width="0.4"/>
<text x="648.8" y="832.4" font-size="4.3" text-anchor="start" fill="#222" stroke="#222" stroke-width="0.05">0.00</text>
<text x="636.9" y="844.5" font-size="4.6" text-anchor="start" font-weight="bold" fill="#000" stroke="#000" stroke-width="0.05">Number</text>
<circle cx="639.6" cy="850.1" r="1" fill="#000"/>
<text x="646.2" y="851.6" font-size="4.3" text-anchor="start" fill="#222" stroke="#222" stroke-width="0.05">2</text>
<circle cx="639.6" cy="857.4" r="2" fill="#000"/>
<text x="646.2" y="858.9" font-size="4.3" text-anchor="start" fill="#222" stroke="#222" stroke-width="0.05">4</text>
<circle cx="639.6" cy="865" r="2.7" fill="#000"/>
<text x="646.2" y="866.5" font-size="4.3" text-anchor="start" fill="#222" stroke="#222" stroke-width="0.05">6</text>
<circle cx="639.6" cy="874.2" r="3.6" fill="#000"/>
<text x="646.2" y="875.7" font-size="4.3" text-anchor="start" fill="#222" stroke="#222" stroke-width="0.05">8</text>
</svg>
</body></html>
